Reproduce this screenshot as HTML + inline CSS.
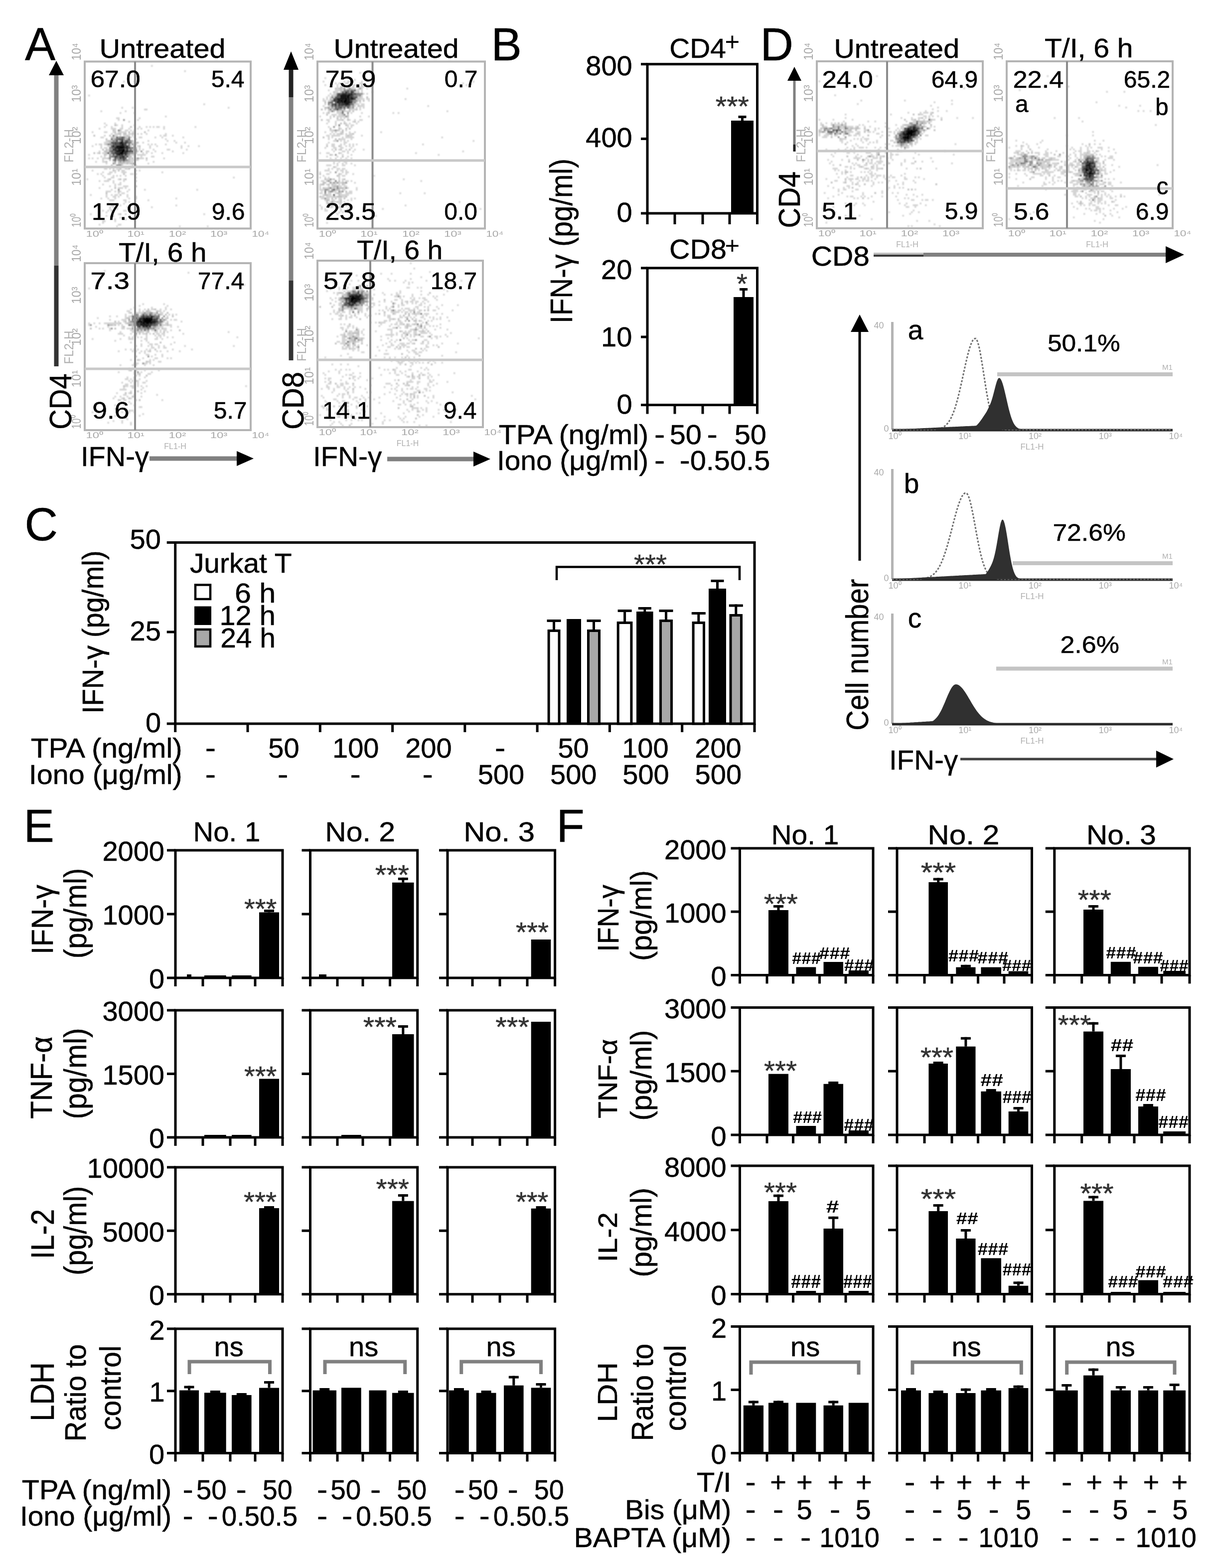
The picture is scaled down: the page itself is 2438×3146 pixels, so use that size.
<!DOCTYPE html>
<html><head><meta charset="utf-8"><title>Figure</title>
<style>html,body{margin:0;padding:0;background:#fff;}svg{display:block;}</style>
</head><body>
<svg width="2438" height="3146" viewBox="0 0 2438 3146" font-family='"Liberation Sans", Arial, sans-serif'>
<defs><filter id="bl" x="-5%" y="-5%" width="110%" height="110%"><feGaussianBlur stdDeviation="1.1"/></filter></defs>
<rect width="2438" height="3146" fill="#fff"/>
<text x="50" y="121" font-size="92" stroke="#000" stroke-width="0.5">A</text>
<text x="985.6" y="121" font-size="92" stroke="#000" stroke-width="0.5">B</text>
<text x="49.4" y="1084.1" font-size="92" stroke="#000" stroke-width="0.5">C</text>
<text x="1525.6" y="121" font-size="92" stroke="#000" stroke-width="0.5">D</text>
<text x="47.6" y="1689" font-size="92" stroke="#000" stroke-width="0.5">E</text>
<text x="1116.6" y="1689" font-size="92" stroke="#000" stroke-width="0.5">F</text>
<g filter="url(#bl)">
<path fill="#d4d4d4" d="M303 130.5h3.5v3.5h-3.5zM369.5 141h3.5v3.5h-3.5zM247 162h3.5v3.5h-3.5zM268 162h3.5v3.5h-3.5zM177 190h3.5v3.5h-3.5zM408 207.5h3.5v3.5h-3.5zM243.5 214.5h3.5v3.5h-3.5zM264.5 214.5h3.5v3.5h-3.5zM457 214.5h3.5v3.5h-3.5zM289 218h7v3.5h-7zM201.5 221.5h3.5v3.5h-3.5zM250.5 221.5h3.5v3.5h-3.5zM240 225h3.5v3.5h-3.5zM268 225h3.5v3.5h-3.5zM331 232h3.5v3.5h-3.5zM233 235.5h7v3.5h-7zM278.5 235.5h3.5v3.5h-3.5zM236.5 239h3.5v3.5h-3.5zM275 239h3.5v3.5h-3.5zM257.5 242.5h3.5v3.5h-3.5zM208.5 246h3.5v3.5h-3.5zM229.5 246h3.5v3.5h-3.5zM212 249.5h3.5v3.5h-3.5zM233 249.5h3.5v3.5h-3.5zM243.5 249.5h3.5v3.5h-3.5zM268 249.5h3.5v3.5h-3.5zM208.5 253h3.5v3.5h-3.5zM222.5 253h3.5v3.5h-3.5zM243.5 253h3.5v3.5h-3.5zM278.5 253h3.5v3.5h-3.5zM292.5 253h3.5v3.5h-3.5zM299.5 253h3.5v3.5h-3.5zM306.5 253h3.5v3.5h-3.5zM313.5 253h7v3.5h-7zM327.5 253h3.5v3.5h-3.5zM390.5 253h3.5v3.5h-3.5zM198 256.5h3.5v3.5h-3.5zM222.5 256.5h10.5v3.5h-10.5zM240 256.5h7v3.5h-7zM257.5 256.5h3.5v3.5h-3.5zM275 256.5h3.5v3.5h-3.5zM282 256.5h3.5v3.5h-3.5zM327.5 256.5h3.5v3.5h-3.5zM229.5 260h3.5v3.5h-3.5zM250.5 260h7v3.5h-7zM261 260h3.5v3.5h-3.5zM268 260h3.5v3.5h-3.5zM296 260h3.5v3.5h-3.5zM184 263.5h3.5v3.5h-3.5zM208.5 263.5h7v3.5h-7zM226 263.5h3.5v3.5h-3.5zM236.5 263.5h17.5v3.5h-17.5zM264.5 263.5h7v3.5h-7zM222.5 267h3.5v3.5h-3.5zM229.5 267h7v3.5h-7zM257.5 267h7v3.5h-7zM268 267h3.5v3.5h-3.5zM275 267h3.5v3.5h-3.5zM282 267h3.5v3.5h-3.5zM292.5 267h3.5v3.5h-3.5zM331 267h3.5v3.5h-3.5zM208.5 270.5h3.5v3.5h-3.5zM229.5 270.5h7v3.5h-7zM240 270.5h3.5v3.5h-3.5zM247 270.5h7v3.5h-7zM257.5 270.5h3.5v3.5h-3.5zM264.5 270.5h3.5v3.5h-3.5zM320.5 270.5h3.5v3.5h-3.5zM327.5 270.5h7v3.5h-7zM345 270.5h3.5v3.5h-3.5zM201.5 274h7v3.5h-7zM229.5 274h3.5v3.5h-3.5zM254 274h3.5v3.5h-3.5zM261 274h3.5v3.5h-3.5zM268 274h3.5v3.5h-3.5zM278.5 274h7v3.5h-7zM310 274h3.5v3.5h-3.5zM324 274h3.5v3.5h-3.5zM366 274h3.5v3.5h-3.5zM271.5 277.5h3.5v3.5h-3.5zM331 277.5h3.5v3.5h-3.5zM212 281h3.5v3.5h-3.5zM296 281h3.5v3.5h-3.5zM334.5 281h3.5v3.5h-3.5zM348.5 281h3.5v3.5h-3.5zM208.5 284.5h10.5v3.5h-10.5zM264.5 284.5h7v3.5h-7zM285.5 284.5h3.5v3.5h-3.5zM352 284.5h3.5v3.5h-3.5zM369.5 284.5h3.5v3.5h-3.5zM191 288h3.5v3.5h-3.5zM198 288h7v3.5h-7zM208.5 288h3.5v3.5h-3.5zM261 288h3.5v3.5h-3.5zM268 288h7v3.5h-7zM296 288h3.5v3.5h-3.5zM303 288h3.5v3.5h-3.5zM310 288h3.5v3.5h-3.5zM331 288h3.5v3.5h-3.5zM184 291.5h3.5v3.5h-3.5zM201.5 291.5h3.5v3.5h-3.5zM215.5 291.5h7v3.5h-7zM261 291.5h3.5v3.5h-3.5zM275 291.5h3.5v3.5h-3.5zM299.5 291.5h3.5v3.5h-3.5zM313.5 291.5h3.5v3.5h-3.5zM362.5 291.5h3.5v3.5h-3.5zM376.5 291.5h3.5v3.5h-3.5zM397.5 291.5h3.5v3.5h-3.5zM201.5 295h3.5v3.5h-3.5zM208.5 295h7v3.5h-7zM278.5 295h3.5v3.5h-3.5zM299.5 295h3.5v3.5h-3.5zM362.5 295h3.5v3.5h-3.5zM215.5 298.5h3.5v3.5h-3.5zM278.5 298.5h3.5v3.5h-3.5zM285.5 298.5h3.5v3.5h-3.5zM306.5 298.5h3.5v3.5h-3.5zM334.5 298.5h7v3.5h-7zM373 298.5h3.5v3.5h-3.5zM198 302h3.5v3.5h-3.5zM215.5 302h3.5v3.5h-3.5zM275 302h3.5v3.5h-3.5zM292.5 302h7v3.5h-7zM310 302h3.5v3.5h-3.5zM345 302h3.5v3.5h-3.5zM194.5 305.5h3.5v3.5h-3.5zM205 305.5h7v3.5h-7zM285.5 305.5h3.5v3.5h-3.5zM292.5 305.5h3.5v3.5h-3.5zM303 305.5h3.5v3.5h-3.5zM324 305.5h3.5v3.5h-3.5zM366 305.5h3.5v3.5h-3.5zM177 309h3.5v3.5h-3.5zM212 309h3.5v3.5h-3.5zM261 309h7v3.5h-7zM275 309h17.5v3.5h-17.5zM201.5 312.5h3.5v3.5h-3.5zM208.5 312.5h3.5v3.5h-3.5zM268 312.5h3.5v3.5h-3.5zM282 312.5h3.5v3.5h-3.5zM303 312.5h7v3.5h-7zM177 316h3.5v3.5h-3.5zM184 316h3.5v3.5h-3.5zM194.5 316h3.5v3.5h-3.5zM205 316h10.5v3.5h-10.5zM226 316h3.5v3.5h-3.5zM261 316h3.5v3.5h-3.5zM271.5 316h3.5v3.5h-3.5zM278.5 316h10.5v3.5h-10.5zM327.5 316h3.5v3.5h-3.5zM205 319.5h3.5v3.5h-3.5zM261 319.5h17.5v3.5h-17.5zM292.5 319.5h3.5v3.5h-3.5zM191 323h3.5v3.5h-3.5zM205 323h7v3.5h-7zM226 323h3.5v3.5h-3.5zM261 323h7v3.5h-7zM306.5 323h3.5v3.5h-3.5zM212 326.5h3.5v3.5h-3.5zM247 326.5h7v3.5h-7zM257.5 326.5h3.5v3.5h-3.5zM296 326.5h3.5v3.5h-3.5zM243.5 330h3.5v3.5h-3.5zM264.5 330h3.5v3.5h-3.5zM271.5 330h3.5v3.5h-3.5zM208.5 333.5h7v3.5h-7zM219 333.5h3.5v3.5h-3.5zM229.5 333.5h3.5v3.5h-3.5zM240 333.5h7v3.5h-7zM264.5 333.5h3.5v3.5h-3.5zM278.5 333.5h3.5v3.5h-3.5zM208.5 337h7v3.5h-7zM219 337h3.5v3.5h-3.5zM226 337h3.5v3.5h-3.5zM233 337h7v3.5h-7zM250.5 337h7v3.5h-7zM184 340.5h3.5v3.5h-3.5zM229.5 340.5h3.5v3.5h-3.5zM243.5 340.5h7v3.5h-7zM271.5 340.5h3.5v3.5h-3.5zM278.5 340.5h3.5v3.5h-3.5zM205 344h3.5v3.5h-3.5zM219 344h7v3.5h-7zM229.5 344h3.5v3.5h-3.5zM243.5 344h10.5v3.5h-10.5zM324 344h3.5v3.5h-3.5zM194.5 347.5h3.5v3.5h-3.5zM201.5 347.5h3.5v3.5h-3.5zM215.5 347.5h7v3.5h-7zM261 347.5h7v3.5h-7zM271.5 347.5h3.5v3.5h-3.5zM205 351h3.5v3.5h-3.5zM226 351h3.5v3.5h-3.5zM233 351h3.5v3.5h-3.5zM240 351h3.5v3.5h-3.5zM250.5 351h3.5v3.5h-3.5zM208.5 354.5h3.5v3.5h-3.5zM222.5 354.5h7v3.5h-7zM271.5 354.5h3.5v3.5h-3.5zM467.5 354.5h3.5v3.5h-3.5zM173.5 358h3.5v3.5h-3.5zM215.5 358h3.5v3.5h-3.5zM236.5 358h3.5v3.5h-3.5zM247 358h3.5v3.5h-3.5zM198 361.5h3.5v3.5h-3.5zM208.5 361.5h10.5v3.5h-10.5zM226 361.5h3.5v3.5h-3.5zM247 361.5h3.5v3.5h-3.5zM271.5 361.5h3.5v3.5h-3.5zM226 365h3.5v3.5h-3.5zM240 365h3.5v3.5h-3.5zM205 368.5h3.5v3.5h-3.5zM229.5 368.5h3.5v3.5h-3.5zM236.5 368.5h7v3.5h-7zM219 372h3.5v3.5h-3.5zM229.5 372h3.5v3.5h-3.5zM247 372h10.5v3.5h-10.5zM198 375.5h3.5v3.5h-3.5zM236.5 375.5h10.5v3.5h-10.5zM250.5 375.5h3.5v3.5h-3.5zM222.5 379h3.5v3.5h-3.5zM257.5 379h3.5v3.5h-3.5zM289 379h3.5v3.5h-3.5zM394 379h3.5v3.5h-3.5zM212 382.5h10.5v3.5h-10.5zM229.5 382.5h3.5v3.5h-3.5zM240 382.5h3.5v3.5h-3.5zM254 382.5h3.5v3.5h-3.5zM236.5 386h3.5v3.5h-3.5zM243.5 386h7v3.5h-7zM180.5 389.5h3.5v3.5h-3.5zM212 389.5h3.5v3.5h-3.5zM222.5 389.5h3.5v3.5h-3.5zM229.5 389.5h7v3.5h-7zM254 389.5h3.5v3.5h-3.5zM212 393h3.5v3.5h-3.5zM226 393h7v3.5h-7zM236.5 393h3.5v3.5h-3.5zM254 393h3.5v3.5h-3.5zM271.5 393h3.5v3.5h-3.5zM201.5 396.5h3.5v3.5h-3.5zM215.5 396.5h3.5v3.5h-3.5zM229.5 396.5h3.5v3.5h-3.5zM257.5 396.5h3.5v3.5h-3.5zM271.5 396.5h3.5v3.5h-3.5zM352 396.5h3.5v3.5h-3.5zM219 400h10.5v3.5h-10.5zM247 400h7v3.5h-7zM296 400h3.5v3.5h-3.5zM250.5 403.5h3.5v3.5h-3.5zM257.5 403.5h3.5v3.5h-3.5zM215.5 407h3.5v3.5h-3.5zM233 407h3.5v3.5h-3.5zM247 407h3.5v3.5h-3.5zM226 410.5h3.5v3.5h-3.5zM233 410.5h3.5v3.5h-3.5zM240 410.5h3.5v3.5h-3.5zM352 410.5h3.5v3.5h-3.5zM191 414h3.5v3.5h-3.5zM198 414h3.5v3.5h-3.5zM219 414h3.5v3.5h-3.5zM226 414h3.5v3.5h-3.5zM233 414h3.5v3.5h-3.5zM254 414h7v3.5h-7zM303 414h3.5v3.5h-3.5zM219 417.5h3.5v3.5h-3.5zM233 417.5h3.5v3.5h-3.5zM205 421h3.5v3.5h-3.5zM215.5 421h3.5v3.5h-3.5zM247 421h7v3.5h-7zM212 424.5h3.5v3.5h-3.5zM180.5 428h3.5v3.5h-3.5zM236.5 428h3.5v3.5h-3.5zM250.5 428h3.5v3.5h-3.5zM408 428h3.5v3.5h-3.5zM212 431.5h3.5v3.5h-3.5zM222.5 431.5h7v3.5h-7zM257.5 431.5h3.5v3.5h-3.5zM240 435h3.5v3.5h-3.5zM264.5 435h7v3.5h-7zM229.5 438.5h3.5v3.5h-3.5zM250.5 438.5h3.5v3.5h-3.5zM205 442h7v3.5h-7zM229.5 442h3.5v3.5h-3.5zM205 445.5h3.5v3.5h-3.5zM198 449h3.5v3.5h-3.5zM236.5 449h7v3.5h-7zM233 452.5h3.5v3.5h-3.5zM359 452.5h3.5v3.5h-3.5zM415 452.5h3.5v3.5h-3.5z"/>
<path fill="#bfbfbf" d="M229.5 249.5h3.5v3.5h-3.5zM261 253h3.5v3.5h-3.5zM226 260h3.5v3.5h-3.5zM240 260h3.5v3.5h-3.5zM229.5 263.5h3.5v3.5h-3.5zM257.5 263.5h3.5v3.5h-3.5zM289 263.5h3.5v3.5h-3.5zM236.5 267h7v3.5h-7zM247 267h7v3.5h-7zM264.5 267h3.5v3.5h-3.5zM187.5 270.5h3.5v3.5h-3.5zM219 270.5h3.5v3.5h-3.5zM254 270.5h3.5v3.5h-3.5zM222.5 274h7v3.5h-7zM250.5 274h3.5v3.5h-3.5zM212 277.5h3.5v3.5h-3.5zM226 277.5h3.5v3.5h-3.5zM250.5 277.5h3.5v3.5h-3.5zM215.5 281h10.5v3.5h-10.5zM236.5 281h3.5v3.5h-3.5zM264.5 281h3.5v3.5h-3.5zM219 284.5h3.5v3.5h-3.5zM271.5 284.5h7v3.5h-7zM212 288h3.5v3.5h-3.5zM254 288h3.5v3.5h-3.5zM278.5 291.5h3.5v3.5h-3.5zM268 295h7v3.5h-7zM205 298.5h3.5v3.5h-3.5zM212 298.5h3.5v3.5h-3.5zM264.5 298.5h3.5v3.5h-3.5zM208.5 302h7v3.5h-7zM187.5 305.5h3.5v3.5h-3.5zM198 305.5h3.5v3.5h-3.5zM212 305.5h3.5v3.5h-3.5zM219 305.5h3.5v3.5h-3.5zM268 305.5h7v3.5h-7zM208.5 309h3.5v3.5h-3.5zM222.5 309h3.5v3.5h-3.5zM268 309h3.5v3.5h-3.5zM257.5 312.5h7v3.5h-7zM215.5 316h3.5v3.5h-3.5zM257.5 316h3.5v3.5h-3.5zM264.5 316h3.5v3.5h-3.5zM292.5 316h3.5v3.5h-3.5zM219 319.5h3.5v3.5h-3.5zM233 319.5h3.5v3.5h-3.5zM257.5 319.5h3.5v3.5h-3.5zM212 323h3.5v3.5h-3.5zM236.5 323h3.5v3.5h-3.5zM243.5 323h3.5v3.5h-3.5zM250.5 323h10.5v3.5h-10.5zM229.5 326.5h3.5v3.5h-3.5zM236.5 326.5h10.5v3.5h-10.5zM254 326.5h3.5v3.5h-3.5zM261 326.5h7v3.5h-7zM222.5 330h3.5v3.5h-3.5zM222.5 333.5h7v3.5h-7zM247 333.5h7v3.5h-7zM257.5 333.5h3.5v3.5h-3.5zM240 337h3.5v3.5h-3.5zM257.5 337h3.5v3.5h-3.5zM226 340.5h3.5v3.5h-3.5zM236.5 340.5h3.5v3.5h-3.5zM247 347.5h3.5v3.5h-3.5zM219 358h3.5v3.5h-3.5zM240 358h3.5v3.5h-3.5zM250.5 358h3.5v3.5h-3.5zM271.5 372h3.5v3.5h-3.5zM229.5 375.5h3.5v3.5h-3.5zM236.5 382.5h3.5v3.5h-3.5zM212 386h3.5v3.5h-3.5zM240 389.5h3.5v3.5h-3.5zM222.5 410.5h3.5v3.5h-3.5zM222.5 421h3.5v3.5h-3.5zM240 428h3.5v3.5h-3.5z"/>
<path fill="#959595" d="M247 239h3.5v3.5h-3.5zM236.5 274h3.5v3.5h-3.5zM229.5 277.5h3.5v3.5h-3.5zM254 277.5h3.5v3.5h-3.5zM229.5 281h3.5v3.5h-3.5zM247 281h3.5v3.5h-3.5zM261 281h3.5v3.5h-3.5zM219 288h7v3.5h-7zM264.5 288h3.5v3.5h-3.5zM219 298.5h7v3.5h-7zM257.5 298.5h3.5v3.5h-3.5zM268 298.5h7v3.5h-7zM271.5 302h3.5v3.5h-3.5zM282 302h3.5v3.5h-3.5zM261 305.5h7v3.5h-7zM219 309h3.5v3.5h-3.5zM229.5 309h3.5v3.5h-3.5zM257.5 309h3.5v3.5h-3.5zM219 312.5h3.5v3.5h-3.5zM275 316h3.5v3.5h-3.5zM254 319.5h3.5v3.5h-3.5zM229.5 323h3.5v3.5h-3.5zM240 323h3.5v3.5h-3.5zM247 323h3.5v3.5h-3.5zM226 326.5h3.5v3.5h-3.5zM233 330h10.5v3.5h-10.5zM261 333.5h3.5v3.5h-3.5zM236.5 379h3.5v3.5h-3.5z"/>
<path fill="#808080" d="M236.5 260h3.5v3.5h-3.5zM226 270.5h3.5v3.5h-3.5zM240 274h3.5v3.5h-3.5zM257.5 274h3.5v3.5h-3.5zM247 277.5h3.5v3.5h-3.5zM226 281h3.5v3.5h-3.5zM240 281h3.5v3.5h-3.5zM257.5 281h3.5v3.5h-3.5zM261 284.5h3.5v3.5h-3.5zM215.5 288h3.5v3.5h-3.5zM268 291.5h3.5v3.5h-3.5zM219 295h3.5v3.5h-3.5zM261 295h7v3.5h-7zM219 302h3.5v3.5h-3.5zM257.5 305.5h3.5v3.5h-3.5zM254 309h3.5v3.5h-3.5zM222.5 312.5h3.5v3.5h-3.5zM250.5 312.5h3.5v3.5h-3.5zM219 316h3.5v3.5h-3.5zM233 316h7v3.5h-7zM226 319.5h3.5v3.5h-3.5zM236.5 319.5h10.5v3.5h-10.5zM250.5 319.5h3.5v3.5h-3.5zM268 326.5h3.5v3.5h-3.5z"/>
<path fill="#6a6a6a" d="M247 274h3.5v3.5h-3.5zM222.5 277.5h3.5v3.5h-3.5zM233 277.5h3.5v3.5h-3.5zM257.5 284.5h3.5v3.5h-3.5zM257.5 288h3.5v3.5h-3.5zM257.5 291.5h3.5v3.5h-3.5zM222.5 295h3.5v3.5h-3.5zM261 298.5h3.5v3.5h-3.5zM226 302h3.5v3.5h-3.5zM222.5 305.5h3.5v3.5h-3.5zM247 309h3.5v3.5h-3.5zM226 312.5h3.5v3.5h-3.5zM236.5 312.5h3.5v3.5h-3.5z"/>
<path fill="#555555" d="M233 274h3.5v3.5h-3.5zM243.5 274h3.5v3.5h-3.5zM236.5 277.5h7v3.5h-7zM257.5 277.5h3.5v3.5h-3.5zM250.5 281h7v3.5h-7zM222.5 284.5h7v3.5h-7zM233 284.5h7v3.5h-7zM247 284.5h3.5v3.5h-3.5zM254 284.5h3.5v3.5h-3.5zM226 288h3.5v3.5h-3.5zM233 288h7v3.5h-7zM222.5 291.5h3.5v3.5h-3.5zM229.5 291.5h3.5v3.5h-3.5zM226 295h3.5v3.5h-3.5zM250.5 298.5h3.5v3.5h-3.5zM222.5 302h3.5v3.5h-3.5zM261 302h7v3.5h-7zM215.5 305.5h3.5v3.5h-3.5zM226 305.5h3.5v3.5h-3.5zM254 305.5h3.5v3.5h-3.5zM226 309h3.5v3.5h-3.5zM254 312.5h3.5v3.5h-3.5zM229.5 316h3.5v3.5h-3.5zM243.5 316h3.5v3.5h-3.5zM250.5 316h3.5v3.5h-3.5zM229.5 319.5h3.5v3.5h-3.5z"/>
<path fill="#404040" d="M243.5 277.5h3.5v3.5h-3.5zM233 281h3.5v3.5h-3.5zM229.5 284.5h3.5v3.5h-3.5zM229.5 288h3.5v3.5h-3.5zM250.5 288h3.5v3.5h-3.5zM250.5 291.5h3.5v3.5h-3.5zM257.5 295h3.5v3.5h-3.5zM233 298.5h3.5v3.5h-3.5zM229.5 302h3.5v3.5h-3.5zM257.5 302h3.5v3.5h-3.5zM229.5 312.5h7v3.5h-7zM240 312.5h3.5v3.5h-3.5zM247 316h3.5v3.5h-3.5zM247 319.5h3.5v3.5h-3.5z"/>
<path fill="#2a2a2a" d="M250.5 284.5h3.5v3.5h-3.5zM240 288h3.5v3.5h-3.5zM247 288h3.5v3.5h-3.5zM254 291.5h3.5v3.5h-3.5zM229.5 295h3.5v3.5h-3.5zM250.5 295h7v3.5h-7zM229.5 298.5h3.5v3.5h-3.5zM254 298.5h3.5v3.5h-3.5zM250.5 302h3.5v3.5h-3.5zM229.5 305.5h10.5v3.5h-10.5zM247 305.5h7v3.5h-7zM233 309h3.5v3.5h-3.5zM240 309h3.5v3.5h-3.5zM250.5 309h3.5v3.5h-3.5zM243.5 312.5h7v3.5h-7zM240 316h3.5v3.5h-3.5z"/>
<path fill="#151515" d="M243.5 281h3.5v3.5h-3.5zM240 284.5h7v3.5h-7zM243.5 288h3.5v3.5h-3.5zM226 291.5h3.5v3.5h-3.5zM233 291.5h17.5v3.5h-17.5zM233 295h7v3.5h-7zM247 295h3.5v3.5h-3.5zM226 298.5h3.5v3.5h-3.5zM236.5 298.5h10.5v3.5h-10.5zM233 302h10.5v3.5h-10.5zM254 302h3.5v3.5h-3.5zM236.5 309h3.5v3.5h-3.5zM243.5 309h3.5v3.5h-3.5z"/>
<path fill="#000000" d="M240 295h7v3.5h-7zM247 298.5h3.5v3.5h-3.5zM243.5 302h7v3.5h-7zM240 305.5h7v3.5h-7z"/>
</g>
<rect x="170" y="123.5" width="333" height="335" fill="none" stroke="#b4b4b4" stroke-width="4"/>
<line x1="271" y1="123.5" x2="271" y2="458.5" stroke="#8c8c8c" stroke-width="4"/>
<line x1="170" y1="335" x2="503" y2="335" stroke="#c8c8c8" stroke-width="5"/>
<text x="172.5" y="474.7" font-size="16" fill="#a8a8a8" textLength="35.5" lengthAdjust="spacingAndGlyphs">10⁰</text>
<text x="255.3" y="474.7" font-size="16" fill="#a8a8a8" textLength="34.5" lengthAdjust="spacingAndGlyphs">10¹</text>
<text x="338.6" y="474.7" font-size="16" fill="#a8a8a8" textLength="34.5" lengthAdjust="spacingAndGlyphs">10²</text>
<text x="421.8" y="474.7" font-size="16" fill="#a8a8a8" textLength="34.5" lengthAdjust="spacingAndGlyphs">10³</text>
<text x="505.2" y="474.7" font-size="16" fill="#a8a8a8" textLength="35" lengthAdjust="spacingAndGlyphs">10⁴</text>
<text transform="translate(161.7 456) rotate(-90) scale(1.1905 1.5845)" font-size="16" fill="#a8a8a8">10⁰</text>
<text transform="translate(161.7 372.7) rotate(-90) scale(1.4925 1.5845)" font-size="16" fill="#a8a8a8">10¹</text>
<text transform="translate(161.7 288.9) rotate(-90) scale(1.4925 1.5845)" font-size="16" fill="#a8a8a8">10²</text>
<text transform="translate(161.7 205.2) rotate(-90) scale(1.4925 1.5845)" font-size="16" fill="#a8a8a8">10³</text>
<text transform="translate(161.7 121.3) rotate(-90) scale(1.4184 1.5845)" font-size="16" fill="#a8a8a8">10⁴</text>
<text transform="translate(147 325.9) rotate(-90) scale(1.5029 1.6071)" font-size="16" fill="#b0b0b0">FL2-H</text>
<text x="181.4" y="174.5" font-size="48" stroke="#000" stroke-width="0.5" textLength="100.4" lengthAdjust="spacingAndGlyphs">67.0</text>
<text x="423.7" y="174.5" font-size="48" stroke="#000" stroke-width="0.5">5.4</text>
<text x="184" y="440.5" font-size="48" stroke="#000" stroke-width="0.5" textLength="98.4" lengthAdjust="spacingAndGlyphs">17.9</text>
<text x="424.7" y="440.5" font-size="48" stroke="#000" stroke-width="0.5">9.6</text>
<g filter="url(#bl)">
<path fill="#d4d4d4" d="M208.5 542h3.5v3.5h-3.5zM376.5 545.5h3.5v3.5h-3.5zM488.5 570h3.5v3.5h-3.5zM177 577h3.5v3.5h-3.5zM285.5 608.5h3.5v3.5h-3.5zM327.5 608.5h3.5v3.5h-3.5zM278.5 612h3.5v3.5h-3.5zM334.5 612h3.5v3.5h-3.5zM268 615.5h3.5v3.5h-3.5zM303 615.5h3.5v3.5h-3.5zM331 615.5h3.5v3.5h-3.5zM261 619h3.5v3.5h-3.5zM278.5 619h3.5v3.5h-3.5zM289 619h3.5v3.5h-3.5zM303 619h7v3.5h-7zM320.5 619h3.5v3.5h-3.5zM331 619h3.5v3.5h-3.5zM341.5 619h3.5v3.5h-3.5zM254 622.5h7v3.5h-7zM278.5 622.5h3.5v3.5h-3.5zM285.5 622.5h3.5v3.5h-3.5zM299.5 622.5h3.5v3.5h-3.5zM317 622.5h7v3.5h-7zM327.5 622.5h3.5v3.5h-3.5zM257.5 626h3.5v3.5h-3.5zM271.5 626h14v3.5h-14zM306.5 626h7v3.5h-7zM320.5 626h7v3.5h-7zM250.5 629.5h3.5v3.5h-3.5zM264.5 629.5h3.5v3.5h-3.5zM313.5 629.5h3.5v3.5h-3.5zM324 629.5h3.5v3.5h-3.5zM338 629.5h3.5v3.5h-3.5zM345 629.5h3.5v3.5h-3.5zM352 629.5h3.5v3.5h-3.5zM219 633h3.5v3.5h-3.5zM233 633h3.5v3.5h-3.5zM250.5 633h3.5v3.5h-3.5zM257.5 633h7v3.5h-7zM334.5 633h3.5v3.5h-3.5zM194.5 636.5h3.5v3.5h-3.5zM250.5 636.5h3.5v3.5h-3.5zM331 636.5h3.5v3.5h-3.5zM219 640h3.5v3.5h-3.5zM243.5 640h10.5v3.5h-10.5zM341.5 640h3.5v3.5h-3.5zM348.5 640h7v3.5h-7zM236.5 643.5h3.5v3.5h-3.5zM247 643.5h3.5v3.5h-3.5zM327.5 643.5h3.5v3.5h-3.5zM334.5 643.5h3.5v3.5h-3.5zM362.5 643.5h3.5v3.5h-3.5zM177 647h3.5v3.5h-3.5zM187.5 647h3.5v3.5h-3.5zM198 647h3.5v3.5h-3.5zM208.5 647h31.5v3.5h-31.5zM250.5 647h3.5v3.5h-3.5zM324 647h3.5v3.5h-3.5zM331 647h3.5v3.5h-3.5zM177 650.5h3.5v3.5h-3.5zM226 650.5h3.5v3.5h-3.5zM236.5 650.5h3.5v3.5h-3.5zM243.5 650.5h3.5v3.5h-3.5zM317 650.5h3.5v3.5h-3.5zM324 650.5h10.5v3.5h-10.5zM338 650.5h7v3.5h-7zM191 654h3.5v3.5h-3.5zM215.5 654h3.5v3.5h-3.5zM243.5 654h3.5v3.5h-3.5zM268 654h3.5v3.5h-3.5zM317 654h10.5v3.5h-10.5zM341.5 654h3.5v3.5h-3.5zM355.5 654h3.5v3.5h-3.5zM198 657.5h3.5v3.5h-3.5zM205 657.5h3.5v3.5h-3.5zM219 657.5h3.5v3.5h-3.5zM243.5 657.5h7v3.5h-7zM254 657.5h10.5v3.5h-10.5zM313.5 657.5h3.5v3.5h-3.5zM327.5 657.5h7v3.5h-7zM219 661h3.5v3.5h-3.5zM261 661h10.5v3.5h-10.5zM278.5 661h3.5v3.5h-3.5zM285.5 661h3.5v3.5h-3.5zM303 661h7v3.5h-7zM313.5 661h3.5v3.5h-3.5zM320.5 661h3.5v3.5h-3.5zM327.5 661h7v3.5h-7zM341.5 661h3.5v3.5h-3.5zM240 664.5h3.5v3.5h-3.5zM264.5 664.5h14v3.5h-14zM282 664.5h7v3.5h-7zM292.5 664.5h3.5v3.5h-3.5zM310 664.5h7v3.5h-7zM320.5 664.5h3.5v3.5h-3.5zM334.5 664.5h3.5v3.5h-3.5zM457 664.5h3.5v3.5h-3.5zM236.5 668h10.5v3.5h-10.5zM261 668h3.5v3.5h-3.5zM285.5 668h7v3.5h-7zM299.5 668h3.5v3.5h-3.5zM313.5 668h7v3.5h-7zM324 668h7v3.5h-7zM366 668h3.5v3.5h-3.5zM247 671.5h3.5v3.5h-3.5zM268 671.5h7v3.5h-7zM292.5 671.5h3.5v3.5h-3.5zM310 671.5h3.5v3.5h-3.5zM317 671.5h7v3.5h-7zM327.5 671.5h3.5v3.5h-3.5zM257.5 675h3.5v3.5h-3.5zM264.5 675h3.5v3.5h-3.5zM275 675h3.5v3.5h-3.5zM282 675h3.5v3.5h-3.5zM292.5 675h3.5v3.5h-3.5zM313.5 675h3.5v3.5h-3.5zM320.5 675h3.5v3.5h-3.5zM334.5 675h3.5v3.5h-3.5zM345 675h3.5v3.5h-3.5zM474.5 675h3.5v3.5h-3.5zM184 678.5h3.5v3.5h-3.5zM240 678.5h3.5v3.5h-3.5zM257.5 678.5h10.5v3.5h-10.5zM289 678.5h7v3.5h-7zM310 678.5h7v3.5h-7zM324 678.5h3.5v3.5h-3.5zM229.5 682h3.5v3.5h-3.5zM282 682h3.5v3.5h-3.5zM292.5 682h3.5v3.5h-3.5zM261 685.5h3.5v3.5h-3.5zM296 685.5h3.5v3.5h-3.5zM348.5 685.5h3.5v3.5h-3.5zM282 689h3.5v3.5h-3.5zM299.5 689h7v3.5h-7zM310 689h7v3.5h-7zM341.5 689h3.5v3.5h-3.5zM271.5 692.5h3.5v3.5h-3.5zM282 692.5h3.5v3.5h-3.5zM296 692.5h3.5v3.5h-3.5zM303 692.5h3.5v3.5h-3.5zM317 692.5h3.5v3.5h-3.5zM327.5 692.5h3.5v3.5h-3.5zM369.5 692.5h3.5v3.5h-3.5zM467.5 692.5h3.5v3.5h-3.5zM303 696h7v3.5h-7zM317 696h3.5v3.5h-3.5zM327.5 696h7v3.5h-7zM250.5 699.5h3.5v3.5h-3.5zM261 699.5h3.5v3.5h-3.5zM268 699.5h3.5v3.5h-3.5zM275 699.5h3.5v3.5h-3.5zM292.5 699.5h3.5v3.5h-3.5zM299.5 699.5h3.5v3.5h-3.5zM345 699.5h3.5v3.5h-3.5zM383.5 699.5h3.5v3.5h-3.5zM236.5 703h3.5v3.5h-3.5zM264.5 703h3.5v3.5h-3.5zM271.5 703h3.5v3.5h-3.5zM282 703h3.5v3.5h-3.5zM289 703h3.5v3.5h-3.5zM296 703h3.5v3.5h-3.5zM313.5 703h3.5v3.5h-3.5zM320.5 703h3.5v3.5h-3.5zM334.5 703h3.5v3.5h-3.5zM359 703h3.5v3.5h-3.5zM278.5 706.5h3.5v3.5h-3.5zM289 706.5h3.5v3.5h-3.5zM292.5 710h7v3.5h-7zM310 710h3.5v3.5h-3.5zM324 710h3.5v3.5h-3.5zM303 713.5h3.5v3.5h-3.5zM324 713.5h3.5v3.5h-3.5zM285.5 717h3.5v3.5h-3.5zM310 717h7v3.5h-7zM334.5 717h3.5v3.5h-3.5zM341.5 717h3.5v3.5h-3.5zM261 720.5h3.5v3.5h-3.5zM278.5 720.5h3.5v3.5h-3.5zM299.5 720.5h3.5v3.5h-3.5zM306.5 720.5h3.5v3.5h-3.5zM296 724h7v3.5h-7zM317 724h7v3.5h-7zM268 727.5h10.5v3.5h-10.5zM289 727.5h7v3.5h-7zM299.5 727.5h3.5v3.5h-3.5zM240 731h3.5v3.5h-3.5zM264.5 731h10.5v3.5h-10.5zM289 731h3.5v3.5h-3.5zM306.5 731h3.5v3.5h-3.5zM257.5 738h3.5v3.5h-3.5zM264.5 738h3.5v3.5h-3.5zM271.5 738h3.5v3.5h-3.5zM282 738h3.5v3.5h-3.5zM257.5 741.5h3.5v3.5h-3.5zM271.5 741.5h3.5v3.5h-3.5zM289 741.5h3.5v3.5h-3.5zM317 741.5h3.5v3.5h-3.5zM236.5 745h3.5v3.5h-3.5zM268 745h3.5v3.5h-3.5zM282 745h3.5v3.5h-3.5zM303 745h3.5v3.5h-3.5zM268 748.5h3.5v3.5h-3.5zM275 748.5h3.5v3.5h-3.5zM296 748.5h7v3.5h-7zM271.5 752h3.5v3.5h-3.5zM278.5 752h3.5v3.5h-3.5zM254 755.5h3.5v3.5h-3.5zM289 755.5h3.5v3.5h-3.5zM250.5 759h7v3.5h-7zM261 759h3.5v3.5h-3.5zM268 759h3.5v3.5h-3.5zM278.5 759h3.5v3.5h-3.5zM257.5 762.5h3.5v3.5h-3.5zM264.5 762.5h3.5v3.5h-3.5zM275 762.5h3.5v3.5h-3.5zM292.5 762.5h3.5v3.5h-3.5zM243.5 766h3.5v3.5h-3.5zM261 766h3.5v3.5h-3.5zM268 766h3.5v3.5h-3.5zM275 766h3.5v3.5h-3.5zM285.5 766h7v3.5h-7zM250.5 769.5h7v3.5h-7zM268 769.5h3.5v3.5h-3.5zM275 769.5h3.5v3.5h-3.5zM250.5 773h7v3.5h-7zM261 773h10.5v3.5h-10.5zM275 773h3.5v3.5h-3.5zM282 773h3.5v3.5h-3.5zM292.5 773h3.5v3.5h-3.5zM492 773h3.5v3.5h-3.5zM247 776.5h3.5v3.5h-3.5zM264.5 776.5h7v3.5h-7zM285.5 776.5h3.5v3.5h-3.5zM240 780h14v3.5h-14zM282 780h3.5v3.5h-3.5zM261 783.5h3.5v3.5h-3.5zM289 783.5h3.5v3.5h-3.5zM233 787h3.5v3.5h-3.5zM257.5 787h3.5v3.5h-3.5zM282 787h3.5v3.5h-3.5zM247 790.5h7v3.5h-7zM268 790.5h3.5v3.5h-3.5zM313.5 790.5h3.5v3.5h-3.5zM229.5 794h3.5v3.5h-3.5zM240 794h3.5v3.5h-3.5zM254 794h3.5v3.5h-3.5zM268 794h3.5v3.5h-3.5zM282 794h3.5v3.5h-3.5zM226 797.5h3.5v3.5h-3.5zM243.5 797.5h3.5v3.5h-3.5zM261 797.5h3.5v3.5h-3.5zM240 801h3.5v3.5h-3.5zM247 801h7v3.5h-7zM271.5 801h3.5v3.5h-3.5zM324 801h3.5v3.5h-3.5zM257.5 804.5h3.5v3.5h-3.5zM250.5 808h3.5v3.5h-3.5zM261 808h3.5v3.5h-3.5zM229.5 811.5h3.5v3.5h-3.5zM247 811.5h3.5v3.5h-3.5zM268 811.5h3.5v3.5h-3.5zM278.5 815h7v3.5h-7zM481.5 815h3.5v3.5h-3.5zM229.5 818.5h7v3.5h-7zM243.5 818.5h10.5v3.5h-10.5zM257.5 822h10.5v3.5h-10.5zM184 825.5h3.5v3.5h-3.5zM243.5 825.5h3.5v3.5h-3.5zM257.5 825.5h3.5v3.5h-3.5zM268 825.5h3.5v3.5h-3.5zM233 829h3.5v3.5h-3.5zM254 829h3.5v3.5h-3.5zM285.5 829h3.5v3.5h-3.5zM229.5 832.5h3.5v3.5h-3.5zM278.5 832.5h3.5v3.5h-3.5zM240 836h3.5v3.5h-3.5zM254 839.5h3.5v3.5h-3.5zM226 843h3.5v3.5h-3.5zM243.5 843h3.5v3.5h-3.5zM215.5 846.5h3.5v3.5h-3.5zM243.5 846.5h3.5v3.5h-3.5zM261 846.5h3.5v3.5h-3.5zM261 850h3.5v3.5h-3.5z"/>
<path fill="#bfbfbf" d="M296 619h3.5v3.5h-3.5zM310 619h3.5v3.5h-3.5zM292.5 622.5h7v3.5h-7zM313.5 622.5h3.5v3.5h-3.5zM261 626h3.5v3.5h-3.5zM285.5 626h3.5v3.5h-3.5zM292.5 626h7v3.5h-7zM334.5 626h3.5v3.5h-3.5zM282 629.5h3.5v3.5h-3.5zM296 629.5h3.5v3.5h-3.5zM306.5 629.5h3.5v3.5h-3.5zM320.5 629.5h3.5v3.5h-3.5zM331 629.5h3.5v3.5h-3.5zM278.5 633h3.5v3.5h-3.5zM345 633h3.5v3.5h-3.5zM254 636.5h7v3.5h-7zM334.5 636.5h3.5v3.5h-3.5zM268 640h3.5v3.5h-3.5zM317 640h3.5v3.5h-3.5zM324 640h3.5v3.5h-3.5zM331 640h3.5v3.5h-3.5zM229.5 643.5h3.5v3.5h-3.5zM250.5 643.5h3.5v3.5h-3.5zM257.5 643.5h3.5v3.5h-3.5zM240 647h3.5v3.5h-3.5zM254 647h14v3.5h-14zM334.5 647h3.5v3.5h-3.5zM219 650.5h7v3.5h-7zM229.5 650.5h3.5v3.5h-3.5zM264.5 650.5h3.5v3.5h-3.5zM334.5 650.5h3.5v3.5h-3.5zM247 654h3.5v3.5h-3.5zM264.5 654h3.5v3.5h-3.5zM303 654h3.5v3.5h-3.5zM313.5 654h3.5v3.5h-3.5zM180.5 657.5h3.5v3.5h-3.5zM229.5 657.5h3.5v3.5h-3.5zM271.5 657.5h3.5v3.5h-3.5zM310 657.5h3.5v3.5h-3.5zM317 657.5h3.5v3.5h-3.5zM324 657.5h3.5v3.5h-3.5zM271.5 661h3.5v3.5h-3.5zM292.5 661h3.5v3.5h-3.5zM359 661h3.5v3.5h-3.5zM278.5 664.5h3.5v3.5h-3.5zM296 664.5h3.5v3.5h-3.5zM327.5 664.5h3.5v3.5h-3.5zM278.5 668h3.5v3.5h-3.5zM292.5 668h3.5v3.5h-3.5zM306.5 668h3.5v3.5h-3.5zM320.5 685.5h3.5v3.5h-3.5zM310 699.5h3.5v3.5h-3.5zM299.5 703h3.5v3.5h-3.5zM271.5 713.5h3.5v3.5h-3.5zM275 720.5h3.5v3.5h-3.5zM292.5 724h3.5v3.5h-3.5zM261 741.5h3.5v3.5h-3.5zM278.5 748.5h3.5v3.5h-3.5zM292.5 752h3.5v3.5h-3.5zM268 755.5h3.5v3.5h-3.5zM271.5 762.5h3.5v3.5h-3.5zM247 773h3.5v3.5h-3.5zM275 783.5h3.5v3.5h-3.5zM250.5 787h3.5v3.5h-3.5zM261 787h3.5v3.5h-3.5zM264.5 794h3.5v3.5h-3.5zM247 797.5h3.5v3.5h-3.5zM257.5 797.5h3.5v3.5h-3.5zM236.5 801h3.5v3.5h-3.5zM278.5 801h3.5v3.5h-3.5z"/>
<path fill="#959595" d="M289 626h3.5v3.5h-3.5zM299.5 626h7v3.5h-7zM313.5 626h3.5v3.5h-3.5zM275 629.5h3.5v3.5h-3.5zM289 629.5h3.5v3.5h-3.5zM303 629.5h3.5v3.5h-3.5zM310 629.5h3.5v3.5h-3.5zM317 629.5h3.5v3.5h-3.5zM271.5 633h7v3.5h-7zM327.5 633h3.5v3.5h-3.5zM275 636.5h3.5v3.5h-3.5zM324 636.5h3.5v3.5h-3.5zM257.5 640h3.5v3.5h-3.5zM271.5 640h3.5v3.5h-3.5zM327.5 640h3.5v3.5h-3.5zM261 643.5h3.5v3.5h-3.5zM320.5 647h3.5v3.5h-3.5zM180.5 650.5h3.5v3.5h-3.5zM215.5 650.5h3.5v3.5h-3.5zM261 650.5h3.5v3.5h-3.5zM282 654h3.5v3.5h-3.5zM306.5 654h7v3.5h-7zM222.5 657.5h3.5v3.5h-3.5zM264.5 657.5h3.5v3.5h-3.5zM275 657.5h3.5v3.5h-3.5zM282 657.5h7v3.5h-7zM299.5 657.5h7v3.5h-7zM282 661h3.5v3.5h-3.5zM296 661h3.5v3.5h-3.5zM271.5 668h3.5v3.5h-3.5zM296 713.5h3.5v3.5h-3.5zM285.5 727.5h3.5v3.5h-3.5zM275 745h3.5v3.5h-3.5zM250.5 836h3.5v3.5h-3.5z"/>
<path fill="#808080" d="M271.5 629.5h3.5v3.5h-3.5zM292.5 629.5h3.5v3.5h-3.5zM268 633h3.5v3.5h-3.5zM310 633h7v3.5h-7zM264.5 636.5h7v3.5h-7zM317 636.5h3.5v3.5h-3.5zM264.5 643.5h7v3.5h-7zM317 643.5h3.5v3.5h-3.5zM324 643.5h3.5v3.5h-3.5zM268 647h3.5v3.5h-3.5zM317 647h3.5v3.5h-3.5zM257.5 650.5h3.5v3.5h-3.5zM268 650.5h3.5v3.5h-3.5zM278.5 657.5h3.5v3.5h-3.5zM289 657.5h7v3.5h-7zM306.5 657.5h3.5v3.5h-3.5zM275 661h3.5v3.5h-3.5z"/>
<path fill="#6a6a6a" d="M264.5 633h3.5v3.5h-3.5zM317 633h3.5v3.5h-3.5zM306.5 636.5h7v3.5h-7zM264.5 640h3.5v3.5h-3.5zM271.5 643.5h3.5v3.5h-3.5zM320.5 643.5h3.5v3.5h-3.5zM313.5 647h3.5v3.5h-3.5zM271.5 650.5h3.5v3.5h-3.5zM313.5 650.5h3.5v3.5h-3.5zM320.5 650.5h3.5v3.5h-3.5zM289 661h3.5v3.5h-3.5zM310 661h3.5v3.5h-3.5z"/>
<path fill="#555555" d="M285.5 629.5h3.5v3.5h-3.5zM299.5 629.5h3.5v3.5h-3.5zM282 633h3.5v3.5h-3.5zM289 633h3.5v3.5h-3.5zM299.5 633h3.5v3.5h-3.5zM271.5 636.5h3.5v3.5h-3.5zM275 640h3.5v3.5h-3.5zM320.5 640h3.5v3.5h-3.5zM271.5 647h3.5v3.5h-3.5zM306.5 650.5h7v3.5h-7zM275 654h3.5v3.5h-3.5zM296 654h3.5v3.5h-3.5zM296 657.5h3.5v3.5h-3.5z"/>
<path fill="#404040" d="M292.5 633h7v3.5h-7zM306.5 633h3.5v3.5h-3.5zM278.5 636.5h3.5v3.5h-3.5zM313.5 636.5h3.5v3.5h-3.5zM313.5 640h3.5v3.5h-3.5zM278.5 647h3.5v3.5h-3.5zM310 647h3.5v3.5h-3.5zM278.5 650.5h3.5v3.5h-3.5zM303 650.5h3.5v3.5h-3.5zM289 654h3.5v3.5h-3.5z"/>
<path fill="#2a2a2a" d="M285.5 633h3.5v3.5h-3.5zM282 636.5h3.5v3.5h-3.5zM282 640h3.5v3.5h-3.5zM306.5 640h7v3.5h-7zM313.5 643.5h3.5v3.5h-3.5zM275 647h3.5v3.5h-3.5zM306.5 647h3.5v3.5h-3.5zM275 650.5h3.5v3.5h-3.5zM299.5 650.5h3.5v3.5h-3.5zM278.5 654h3.5v3.5h-3.5zM285.5 654h3.5v3.5h-3.5z"/>
<path fill="#151515" d="M303 633h3.5v3.5h-3.5zM285.5 636.5h7v3.5h-7zM296 636.5h10.5v3.5h-10.5zM278.5 640h3.5v3.5h-3.5zM285.5 640h3.5v3.5h-3.5zM275 643.5h7v3.5h-7zM285.5 643.5h3.5v3.5h-3.5zM303 643.5h10.5v3.5h-10.5zM282 647h3.5v3.5h-3.5zM289 647h3.5v3.5h-3.5zM299.5 647h7v3.5h-7zM282 650.5h17.5v3.5h-17.5zM292.5 654h3.5v3.5h-3.5zM299.5 654h3.5v3.5h-3.5z"/>
<path fill="#000000" d="M292.5 636.5h3.5v3.5h-3.5zM289 640h17.5v3.5h-17.5zM282 643.5h3.5v3.5h-3.5zM289 643.5h14v3.5h-14zM285.5 647h3.5v3.5h-3.5zM292.5 647h7v3.5h-7z"/>
</g>
<rect x="170" y="528" width="333" height="335" fill="none" stroke="#b4b4b4" stroke-width="4"/>
<line x1="271" y1="528" x2="271" y2="863" stroke="#8c8c8c" stroke-width="4"/>
<line x1="170" y1="740" x2="503" y2="740" stroke="#c8c8c8" stroke-width="5"/>
<text x="172.5" y="879.2" font-size="16" fill="#a8a8a8" textLength="35.5" lengthAdjust="spacingAndGlyphs">10⁰</text>
<text x="255.3" y="879.2" font-size="16" fill="#a8a8a8" textLength="34.5" lengthAdjust="spacingAndGlyphs">10¹</text>
<text x="338.6" y="879.2" font-size="16" fill="#a8a8a8" textLength="34.5" lengthAdjust="spacingAndGlyphs">10²</text>
<text x="421.8" y="879.2" font-size="16" fill="#a8a8a8" textLength="34.5" lengthAdjust="spacingAndGlyphs">10³</text>
<text x="505.2" y="879.2" font-size="16" fill="#a8a8a8" textLength="35" lengthAdjust="spacingAndGlyphs">10⁴</text>
<text x="329.3" y="901" font-size="16" fill="#b0b0b0">FL1-H</text>
<text transform="translate(161.7 860.5) rotate(-90) scale(1.1905 1.5845)" font-size="16" fill="#a8a8a8">10⁰</text>
<text transform="translate(161.7 777.2) rotate(-90) scale(1.4925 1.5845)" font-size="16" fill="#a8a8a8">10¹</text>
<text transform="translate(161.7 693.4) rotate(-90) scale(1.4925 1.5845)" font-size="16" fill="#a8a8a8">10²</text>
<text transform="translate(161.7 609.7) rotate(-90) scale(1.4925 1.5845)" font-size="16" fill="#a8a8a8">10³</text>
<text transform="translate(161.7 525.8) rotate(-90) scale(1.4184 1.5845)" font-size="16" fill="#a8a8a8">10⁴</text>
<text transform="translate(147 730.4) rotate(-90) scale(1.5029 1.6071)" font-size="16" fill="#b0b0b0">FL2-H</text>
<text x="181.2" y="579.5" font-size="48" stroke="#000" stroke-width="0.5" textLength="78.7" lengthAdjust="spacingAndGlyphs">7.3</text>
<text x="396.8" y="580" font-size="48" stroke="#000" stroke-width="0.5">77.4</text>
<text x="185.3" y="839.5" font-size="48" stroke="#000" stroke-width="0.5" textLength="74.3" lengthAdjust="spacingAndGlyphs">9.6</text>
<text x="428.7" y="839.5" font-size="48" stroke="#000" stroke-width="0.5">5.7</text>
<g filter="url(#bl)">
<path fill="#d4d4d4" d="M721 144.5h3.5v3.5h-3.5zM672 151.5h3.5v3.5h-3.5zM651 155h3.5v3.5h-3.5zM710.5 158.5h3.5v3.5h-3.5zM647.5 162h3.5v3.5h-3.5zM689.5 162h3.5v3.5h-3.5zM696.5 162h7v3.5h-7zM707 162h3.5v3.5h-3.5zM724.5 162h3.5v3.5h-3.5zM948.5 162h3.5v3.5h-3.5zM672 165.5h3.5v3.5h-3.5zM679 165.5h7v3.5h-7zM693 165.5h7v3.5h-7zM721 165.5h7v3.5h-7zM927.5 165.5h3.5v3.5h-3.5zM651 169h3.5v3.5h-3.5zM675.5 169h3.5v3.5h-3.5zM707 169h7v3.5h-7zM934.5 169h3.5v3.5h-3.5zM675.5 172.5h3.5v3.5h-3.5zM686 172.5h3.5v3.5h-3.5zM700 172.5h3.5v3.5h-3.5zM714 172.5h3.5v3.5h-3.5zM721 172.5h10.5v3.5h-10.5zM675.5 176h3.5v3.5h-3.5zM686 176h3.5v3.5h-3.5zM696.5 176h3.5v3.5h-3.5zM707 176h7v3.5h-7zM717.5 176h3.5v3.5h-3.5zM724.5 176h3.5v3.5h-3.5zM735 176h3.5v3.5h-3.5zM815.5 176h3.5v3.5h-3.5zM658 179.5h3.5v3.5h-3.5zM672 179.5h10.5v3.5h-10.5zM686 179.5h3.5v3.5h-3.5zM714 179.5h7v3.5h-7zM724.5 179.5h3.5v3.5h-3.5zM672 183h7v3.5h-7zM714 183h3.5v3.5h-3.5zM724.5 183h3.5v3.5h-3.5zM745.5 183h3.5v3.5h-3.5zM661.5 186.5h3.5v3.5h-3.5zM668.5 186.5h7v3.5h-7zM728 186.5h3.5v3.5h-3.5zM735 186.5h3.5v3.5h-3.5zM658 190h3.5v3.5h-3.5zM668.5 190h3.5v3.5h-3.5zM724.5 190h3.5v3.5h-3.5zM654.5 193.5h3.5v3.5h-3.5zM661.5 193.5h3.5v3.5h-3.5zM717.5 193.5h3.5v3.5h-3.5zM724.5 193.5h3.5v3.5h-3.5zM647.5 197h3.5v3.5h-3.5zM654.5 197h3.5v3.5h-3.5zM665 197h3.5v3.5h-3.5zM721 197h10.5v3.5h-10.5zM735 197h7v3.5h-7zM812 197h3.5v3.5h-3.5zM647.5 200.5h7v3.5h-7zM658 200.5h3.5v3.5h-3.5zM717.5 200.5h3.5v3.5h-3.5zM738.5 200.5h3.5v3.5h-3.5zM714 204h3.5v3.5h-3.5zM721 204h3.5v3.5h-3.5zM651 207.5h3.5v3.5h-3.5zM710.5 207.5h10.5v3.5h-10.5zM724.5 207.5h7v3.5h-7zM647.5 211h3.5v3.5h-3.5zM658 211h3.5v3.5h-3.5zM710.5 211h3.5v3.5h-3.5zM721 211h10.5v3.5h-10.5zM857.5 211h3.5v3.5h-3.5zM661.5 214.5h3.5v3.5h-3.5zM714 214.5h3.5v3.5h-3.5zM721 214.5h3.5v3.5h-3.5zM728 214.5h3.5v3.5h-3.5zM651 218h3.5v3.5h-3.5zM665 218h3.5v3.5h-3.5zM686 218h3.5v3.5h-3.5zM703.5 218h10.5v3.5h-10.5zM721 218h3.5v3.5h-3.5zM658 221.5h7v3.5h-7zM679 221.5h7v3.5h-7zM689.5 221.5h10.5v3.5h-10.5zM896 221.5h3.5v3.5h-3.5zM647.5 225h3.5v3.5h-3.5zM654.5 225h3.5v3.5h-3.5zM675.5 225h7v3.5h-7zM703.5 225h3.5v3.5h-3.5zM724.5 225h3.5v3.5h-3.5zM787.5 225h3.5v3.5h-3.5zM798 225h3.5v3.5h-3.5zM665 228.5h10.5v3.5h-10.5zM679 228.5h7v3.5h-7zM640.5 232h3.5v3.5h-3.5zM661.5 232h3.5v3.5h-3.5zM675.5 232h17.5v3.5h-17.5zM721 232h3.5v3.5h-3.5zM738.5 232h3.5v3.5h-3.5zM661.5 235.5h3.5v3.5h-3.5zM682.5 235.5h3.5v3.5h-3.5zM689.5 235.5h3.5v3.5h-3.5zM696.5 235.5h3.5v3.5h-3.5zM654.5 239h7v3.5h-7zM675.5 239h10.5v3.5h-10.5zM700 239h3.5v3.5h-3.5zM710.5 239h3.5v3.5h-3.5zM721 239h7v3.5h-7zM658 242.5h3.5v3.5h-3.5zM672 242.5h3.5v3.5h-3.5zM689.5 242.5h3.5v3.5h-3.5zM707 242.5h3.5v3.5h-3.5zM717.5 242.5h3.5v3.5h-3.5zM654.5 246h3.5v3.5h-3.5zM672 246h3.5v3.5h-3.5zM693 246h3.5v3.5h-3.5zM700 246h3.5v3.5h-3.5zM714 246h3.5v3.5h-3.5zM672 249.5h3.5v3.5h-3.5zM696.5 249.5h3.5v3.5h-3.5zM703.5 249.5h7v3.5h-7zM658 253h3.5v3.5h-3.5zM679 253h3.5v3.5h-3.5zM696.5 253h3.5v3.5h-3.5zM703.5 253h3.5v3.5h-3.5zM682.5 256.5h3.5v3.5h-3.5zM661.5 260h7v3.5h-7zM679 260h3.5v3.5h-3.5zM693 260h3.5v3.5h-3.5zM651 263.5h3.5v3.5h-3.5zM665 263.5h3.5v3.5h-3.5zM672 263.5h3.5v3.5h-3.5zM682.5 263.5h3.5v3.5h-3.5zM700 263.5h3.5v3.5h-3.5zM710.5 263.5h3.5v3.5h-3.5zM763 263.5h3.5v3.5h-3.5zM661.5 267h3.5v3.5h-3.5zM668.5 267h3.5v3.5h-3.5zM675.5 267h7v3.5h-7zM686 267h3.5v3.5h-3.5zM693 267h3.5v3.5h-3.5zM700 267h7v3.5h-7zM654.5 270.5h7v3.5h-7zM665 270.5h17.5v3.5h-17.5zM693 270.5h3.5v3.5h-3.5zM700 270.5h7v3.5h-7zM724.5 270.5h3.5v3.5h-3.5zM658 274h3.5v3.5h-3.5zM665 274h3.5v3.5h-3.5zM686 274h3.5v3.5h-3.5zM693 274h17.5v3.5h-17.5zM885.5 274h3.5v3.5h-3.5zM658 277.5h3.5v3.5h-3.5zM682.5 277.5h10.5v3.5h-10.5zM703.5 277.5h3.5v3.5h-3.5zM668.5 281h7v3.5h-7zM682.5 281h3.5v3.5h-3.5zM689.5 281h3.5v3.5h-3.5zM696.5 281h3.5v3.5h-3.5zM948.5 281h3.5v3.5h-3.5zM658 284.5h3.5v3.5h-3.5zM689.5 284.5h7v3.5h-7zM654.5 288h3.5v3.5h-3.5zM665 288h7v3.5h-7zM682.5 288h3.5v3.5h-3.5zM689.5 288h3.5v3.5h-3.5zM700 288h3.5v3.5h-3.5zM707 288h3.5v3.5h-3.5zM714 288h3.5v3.5h-3.5zM847 288h3.5v3.5h-3.5zM665 291.5h7v3.5h-7zM682.5 291.5h3.5v3.5h-3.5zM693 291.5h3.5v3.5h-3.5zM700 291.5h3.5v3.5h-3.5zM707 291.5h3.5v3.5h-3.5zM651 295h3.5v3.5h-3.5zM668.5 295h7v3.5h-7zM682.5 295h7v3.5h-7zM703.5 295h3.5v3.5h-3.5zM665 298.5h3.5v3.5h-3.5zM679 298.5h3.5v3.5h-3.5zM693 298.5h3.5v3.5h-3.5zM710.5 298.5h3.5v3.5h-3.5zM728 298.5h3.5v3.5h-3.5zM668.5 302h3.5v3.5h-3.5zM686 302h7v3.5h-7zM696.5 302h3.5v3.5h-3.5zM707 302h3.5v3.5h-3.5zM927.5 302h3.5v3.5h-3.5zM640.5 305.5h3.5v3.5h-3.5zM654.5 305.5h7v3.5h-7zM682.5 305.5h3.5v3.5h-3.5zM696.5 305.5h3.5v3.5h-3.5zM833 305.5h3.5v3.5h-3.5zM665 309h3.5v3.5h-3.5zM686 309h3.5v3.5h-3.5zM703.5 309h3.5v3.5h-3.5zM878.5 309h3.5v3.5h-3.5zM654.5 312.5h3.5v3.5h-3.5zM675.5 312.5h3.5v3.5h-3.5zM696.5 312.5h3.5v3.5h-3.5zM661.5 316h3.5v3.5h-3.5zM672 316h3.5v3.5h-3.5zM682.5 316h3.5v3.5h-3.5zM693 316h3.5v3.5h-3.5zM703.5 316h3.5v3.5h-3.5zM665 319.5h3.5v3.5h-3.5zM672 319.5h3.5v3.5h-3.5zM689.5 319.5h3.5v3.5h-3.5zM696.5 319.5h3.5v3.5h-3.5zM668.5 323h3.5v3.5h-3.5zM679 323h3.5v3.5h-3.5zM689.5 323h7v3.5h-7zM668.5 326.5h3.5v3.5h-3.5zM675.5 326.5h3.5v3.5h-3.5zM686 326.5h3.5v3.5h-3.5zM693 326.5h3.5v3.5h-3.5zM703.5 326.5h3.5v3.5h-3.5zM654.5 330h10.5v3.5h-10.5zM675.5 330h3.5v3.5h-3.5zM686 330h7v3.5h-7zM710.5 330h3.5v3.5h-3.5zM672 333.5h3.5v3.5h-3.5zM658 337h3.5v3.5h-3.5zM665 337h3.5v3.5h-3.5zM675.5 337h7v3.5h-7zM686 337h7v3.5h-7zM651 340.5h10.5v3.5h-10.5zM675.5 340.5h3.5v3.5h-3.5zM682.5 340.5h7v3.5h-7zM693 340.5h3.5v3.5h-3.5zM640.5 344h3.5v3.5h-3.5zM661.5 344h3.5v3.5h-3.5zM686 344h3.5v3.5h-3.5zM693 344h7v3.5h-7zM654.5 347.5h7v3.5h-7zM682.5 347.5h3.5v3.5h-3.5zM693 347.5h3.5v3.5h-3.5zM707 347.5h3.5v3.5h-3.5zM647.5 351h3.5v3.5h-3.5zM679 351h3.5v3.5h-3.5zM686 351h7v3.5h-7zM749 351h3.5v3.5h-3.5zM640.5 354.5h3.5v3.5h-3.5zM651 354.5h3.5v3.5h-3.5zM658 354.5h3.5v3.5h-3.5zM679 354.5h3.5v3.5h-3.5zM654.5 358h7v3.5h-7zM665 358h3.5v3.5h-3.5zM679 358h3.5v3.5h-3.5zM686 358h3.5v3.5h-3.5zM808.5 358h3.5v3.5h-3.5zM644 361.5h7v3.5h-7zM661.5 361.5h3.5v3.5h-3.5zM686 361.5h3.5v3.5h-3.5zM693 361.5h7v3.5h-7zM703.5 361.5h3.5v3.5h-3.5zM843.5 361.5h3.5v3.5h-3.5zM665 365h3.5v3.5h-3.5zM672 365h3.5v3.5h-3.5zM679 365h7v3.5h-7zM710.5 365h3.5v3.5h-3.5zM640.5 368.5h3.5v3.5h-3.5zM654.5 368.5h3.5v3.5h-3.5zM668.5 368.5h7v3.5h-7zM679 368.5h3.5v3.5h-3.5zM689.5 368.5h3.5v3.5h-3.5zM640.5 372h3.5v3.5h-3.5zM658 372h3.5v3.5h-3.5zM665 372h3.5v3.5h-3.5zM679 372h7v3.5h-7zM689.5 372h7v3.5h-7zM640.5 375.5h3.5v3.5h-3.5zM651 375.5h7v3.5h-7zM665 375.5h3.5v3.5h-3.5zM672 375.5h3.5v3.5h-3.5zM689.5 375.5h3.5v3.5h-3.5zM696.5 375.5h3.5v3.5h-3.5zM714 375.5h3.5v3.5h-3.5zM640.5 379h10.5v3.5h-10.5zM686 379h7v3.5h-7zM714 379h3.5v3.5h-3.5zM644 382.5h3.5v3.5h-3.5zM668.5 382.5h7v3.5h-7zM700 382.5h7v3.5h-7zM640.5 386h7v3.5h-7zM658 386h7v3.5h-7zM672 386h3.5v3.5h-3.5zM682.5 386h3.5v3.5h-3.5zM693 386h14v3.5h-14zM801.5 386h3.5v3.5h-3.5zM850.5 386h3.5v3.5h-3.5zM647.5 389.5h3.5v3.5h-3.5zM658 389.5h7v3.5h-7zM682.5 389.5h17.5v3.5h-17.5zM644 393h7v3.5h-7zM654.5 393h14v3.5h-14zM672 393h3.5v3.5h-3.5zM686 393h7v3.5h-7zM644 396.5h7v3.5h-7zM654.5 396.5h7v3.5h-7zM679 396.5h7v3.5h-7zM703.5 396.5h3.5v3.5h-3.5zM710.5 396.5h3.5v3.5h-3.5zM651 400h3.5v3.5h-3.5zM665 400h7v3.5h-7zM679 400h3.5v3.5h-3.5zM696.5 400h3.5v3.5h-3.5zM703.5 400h3.5v3.5h-3.5zM661.5 403.5h3.5v3.5h-3.5zM668.5 403.5h7v3.5h-7zM679 403.5h3.5v3.5h-3.5zM689.5 403.5h3.5v3.5h-3.5zM920.5 403.5h3.5v3.5h-3.5zM654.5 407h3.5v3.5h-3.5zM679 407h7v3.5h-7zM696.5 407h3.5v3.5h-3.5zM640.5 410.5h3.5v3.5h-3.5zM658 410.5h17.5v3.5h-17.5zM682.5 410.5h3.5v3.5h-3.5zM700 410.5h3.5v3.5h-3.5zM812 410.5h3.5v3.5h-3.5zM644 414h3.5v3.5h-3.5zM661.5 414h7v3.5h-7zM700 414h3.5v3.5h-3.5zM644 417.5h3.5v3.5h-3.5zM651 417.5h3.5v3.5h-3.5zM675.5 417.5h3.5v3.5h-3.5zM682.5 417.5h3.5v3.5h-3.5zM696.5 417.5h3.5v3.5h-3.5zM703.5 417.5h3.5v3.5h-3.5zM766.5 417.5h3.5v3.5h-3.5zM962.5 417.5h3.5v3.5h-3.5zM651 421h7v3.5h-7zM682.5 421h3.5v3.5h-3.5zM689.5 421h7v3.5h-7zM672 424.5h3.5v3.5h-3.5zM679 424.5h3.5v3.5h-3.5zM686 424.5h3.5v3.5h-3.5zM675.5 428h3.5v3.5h-3.5zM752.5 431.5h3.5v3.5h-3.5zM672 438.5h3.5v3.5h-3.5zM654.5 445.5h3.5v3.5h-3.5z"/>
<path fill="#bfbfbf" d="M686 169h7v3.5h-7zM724.5 169h3.5v3.5h-3.5zM682.5 172.5h3.5v3.5h-3.5zM693 172.5h7v3.5h-7zM707 172.5h3.5v3.5h-3.5zM672 176h3.5v3.5h-3.5zM679 176h7v3.5h-7zM703.5 176h3.5v3.5h-3.5zM682.5 179.5h3.5v3.5h-3.5zM668.5 183h3.5v3.5h-3.5zM682.5 183h3.5v3.5h-3.5zM710.5 183h3.5v3.5h-3.5zM717.5 183h3.5v3.5h-3.5zM665 190h3.5v3.5h-3.5zM672 190h3.5v3.5h-3.5zM668.5 193.5h3.5v3.5h-3.5zM721 193.5h3.5v3.5h-3.5zM735 193.5h3.5v3.5h-3.5zM661.5 197h3.5v3.5h-3.5zM714 197h7v3.5h-7zM661.5 200.5h3.5v3.5h-3.5zM721 200.5h3.5v3.5h-3.5zM728 200.5h3.5v3.5h-3.5zM651 204h3.5v3.5h-3.5zM661.5 207.5h3.5v3.5h-3.5zM661.5 211h3.5v3.5h-3.5zM703.5 211h3.5v3.5h-3.5zM717.5 211h3.5v3.5h-3.5zM651 214.5h7v3.5h-7zM668.5 214.5h3.5v3.5h-3.5zM693 214.5h3.5v3.5h-3.5zM703.5 214.5h3.5v3.5h-3.5zM644 218h3.5v3.5h-3.5zM658 218h3.5v3.5h-3.5zM700 218h3.5v3.5h-3.5zM714 218h3.5v3.5h-3.5zM668.5 221.5h3.5v3.5h-3.5zM675.5 221.5h3.5v3.5h-3.5zM700 221.5h3.5v3.5h-3.5zM707 221.5h3.5v3.5h-3.5zM658 225h3.5v3.5h-3.5zM682.5 225h3.5v3.5h-3.5zM654.5 228.5h3.5v3.5h-3.5zM686 228.5h3.5v3.5h-3.5zM696.5 228.5h3.5v3.5h-3.5zM668.5 232h3.5v3.5h-3.5zM696.5 232h3.5v3.5h-3.5zM675.5 235.5h3.5v3.5h-3.5zM644 239h3.5v3.5h-3.5zM686 239h3.5v3.5h-3.5zM696.5 239h3.5v3.5h-3.5zM710.5 242.5h3.5v3.5h-3.5zM682.5 246h3.5v3.5h-3.5zM689.5 246h3.5v3.5h-3.5zM693 249.5h3.5v3.5h-3.5zM661.5 256.5h3.5v3.5h-3.5zM679 256.5h3.5v3.5h-3.5zM693 256.5h3.5v3.5h-3.5zM700 256.5h3.5v3.5h-3.5zM668.5 260h3.5v3.5h-3.5zM675.5 260h3.5v3.5h-3.5zM686 260h3.5v3.5h-3.5zM686 263.5h3.5v3.5h-3.5zM682.5 267h3.5v3.5h-3.5zM707 267h3.5v3.5h-3.5zM696.5 270.5h3.5v3.5h-3.5zM647.5 274h3.5v3.5h-3.5zM672 277.5h3.5v3.5h-3.5zM679 277.5h3.5v3.5h-3.5zM654.5 291.5h3.5v3.5h-3.5zM679 291.5h3.5v3.5h-3.5zM672 298.5h3.5v3.5h-3.5zM682.5 298.5h3.5v3.5h-3.5zM700 298.5h3.5v3.5h-3.5zM679 305.5h3.5v3.5h-3.5zM661.5 309h3.5v3.5h-3.5zM686 312.5h3.5v3.5h-3.5zM668.5 333.5h3.5v3.5h-3.5zM640.5 347.5h3.5v3.5h-3.5zM679 347.5h3.5v3.5h-3.5zM675.5 351h3.5v3.5h-3.5zM651 358h3.5v3.5h-3.5zM668.5 358h3.5v3.5h-3.5zM689.5 358h3.5v3.5h-3.5zM654.5 361.5h3.5v3.5h-3.5zM679 361.5h3.5v3.5h-3.5zM647.5 365h7v3.5h-7zM686 365h7v3.5h-7zM644 368.5h7v3.5h-7zM658 368.5h3.5v3.5h-3.5zM665 368.5h3.5v3.5h-3.5zM686 368.5h3.5v3.5h-3.5zM668.5 372h7v3.5h-7zM647.5 375.5h3.5v3.5h-3.5zM658 375.5h3.5v3.5h-3.5zM668.5 375.5h3.5v3.5h-3.5zM679 375.5h10.5v3.5h-10.5zM658 379h3.5v3.5h-3.5zM672 379h10.5v3.5h-10.5zM658 382.5h3.5v3.5h-3.5zM682.5 382.5h3.5v3.5h-3.5zM693 382.5h3.5v3.5h-3.5zM675.5 386h7v3.5h-7zM651 389.5h7v3.5h-7zM679 389.5h3.5v3.5h-3.5zM640.5 393h3.5v3.5h-3.5zM668.5 393h3.5v3.5h-3.5zM675.5 393h10.5v3.5h-10.5zM693 393h3.5v3.5h-3.5zM665 396.5h3.5v3.5h-3.5zM672 396.5h3.5v3.5h-3.5zM689.5 396.5h3.5v3.5h-3.5zM654.5 400h7v3.5h-7zM682.5 400h3.5v3.5h-3.5zM654.5 403.5h3.5v3.5h-3.5zM675.5 403.5h3.5v3.5h-3.5zM682.5 403.5h3.5v3.5h-3.5zM661.5 407h3.5v3.5h-3.5zM693 410.5h3.5v3.5h-3.5zM679 414h3.5v3.5h-3.5zM661.5 428h3.5v3.5h-3.5z"/>
<path fill="#959595" d="M689.5 176h3.5v3.5h-3.5zM700 176h3.5v3.5h-3.5zM721 176h3.5v3.5h-3.5zM693 179.5h3.5v3.5h-3.5zM700 179.5h3.5v3.5h-3.5zM700 183h3.5v3.5h-3.5zM721 186.5h7v3.5h-7zM717.5 190h3.5v3.5h-3.5zM710.5 200.5h7v3.5h-7zM707 204h3.5v3.5h-3.5zM707 211h3.5v3.5h-3.5zM658 214.5h3.5v3.5h-3.5zM665 214.5h3.5v3.5h-3.5zM686 214.5h3.5v3.5h-3.5zM700 214.5h3.5v3.5h-3.5zM707 214.5h3.5v3.5h-3.5zM668.5 218h3.5v3.5h-3.5zM679 218h7v3.5h-7zM689.5 218h3.5v3.5h-3.5zM696.5 225h3.5v3.5h-3.5zM693 232h3.5v3.5h-3.5zM668.5 253h3.5v3.5h-3.5zM672 260h3.5v3.5h-3.5zM675.5 281h3.5v3.5h-3.5zM672 309h3.5v3.5h-3.5zM672 344h3.5v3.5h-3.5zM661.5 358h3.5v3.5h-3.5zM658 361.5h3.5v3.5h-3.5zM661.5 365h3.5v3.5h-3.5zM668.5 365h3.5v3.5h-3.5zM675.5 365h3.5v3.5h-3.5zM693 365h3.5v3.5h-3.5zM675.5 372h3.5v3.5h-3.5zM693 375.5h3.5v3.5h-3.5zM651 379h7v3.5h-7zM665 379h3.5v3.5h-3.5zM661.5 382.5h7v3.5h-7zM679 382.5h3.5v3.5h-3.5zM686 382.5h3.5v3.5h-3.5zM651 386h3.5v3.5h-3.5zM651 396.5h3.5v3.5h-3.5zM665 403.5h3.5v3.5h-3.5zM658 407h3.5v3.5h-3.5z"/>
<path fill="#808080" d="M689.5 179.5h3.5v3.5h-3.5zM707 179.5h3.5v3.5h-3.5zM689.5 183h3.5v3.5h-3.5zM714 186.5h7v3.5h-7zM710.5 190h7v3.5h-7zM721 190h3.5v3.5h-3.5zM665 193.5h3.5v3.5h-3.5zM665 200.5h3.5v3.5h-3.5zM707 200.5h3.5v3.5h-3.5zM658 204h3.5v3.5h-3.5zM710.5 204h3.5v3.5h-3.5zM658 207.5h3.5v3.5h-3.5zM675.5 207.5h3.5v3.5h-3.5zM707 207.5h3.5v3.5h-3.5zM668.5 211h3.5v3.5h-3.5zM675.5 211h3.5v3.5h-3.5zM675.5 214.5h3.5v3.5h-3.5zM661.5 218h3.5v3.5h-3.5zM672 218h3.5v3.5h-3.5zM665 221.5h3.5v3.5h-3.5zM686 221.5h3.5v3.5h-3.5zM689.5 228.5h3.5v3.5h-3.5zM679 249.5h3.5v3.5h-3.5zM672 361.5h3.5v3.5h-3.5zM661.5 375.5h3.5v3.5h-3.5zM675.5 375.5h3.5v3.5h-3.5zM651 382.5h3.5v3.5h-3.5z"/>
<path fill="#6a6a6a" d="M696.5 179.5h3.5v3.5h-3.5zM703.5 179.5h3.5v3.5h-3.5zM675.5 186.5h3.5v3.5h-3.5zM661.5 204h7v3.5h-7zM703.5 207.5h3.5v3.5h-3.5zM689.5 211h3.5v3.5h-3.5zM700 211h3.5v3.5h-3.5zM686 225h3.5v3.5h-3.5z"/>
<path fill="#555555" d="M710.5 179.5h3.5v3.5h-3.5zM686 183h3.5v3.5h-3.5zM696.5 183h3.5v3.5h-3.5zM682.5 186.5h3.5v3.5h-3.5zM707 186.5h3.5v3.5h-3.5zM675.5 190h3.5v3.5h-3.5zM707 190h3.5v3.5h-3.5zM672 193.5h10.5v3.5h-10.5zM710.5 193.5h7v3.5h-7zM672 204h3.5v3.5h-3.5zM665 207.5h7v3.5h-7zM665 211h3.5v3.5h-3.5zM682.5 211h7v3.5h-7zM696.5 211h3.5v3.5h-3.5zM672 214.5h3.5v3.5h-3.5zM679 214.5h3.5v3.5h-3.5zM689.5 214.5h3.5v3.5h-3.5zM696.5 214.5h3.5v3.5h-3.5zM668.5 379h3.5v3.5h-3.5zM668.5 389.5h3.5v3.5h-3.5z"/>
<path fill="#404040" d="M707 183h3.5v3.5h-3.5zM679 186.5h3.5v3.5h-3.5zM696.5 186.5h3.5v3.5h-3.5zM710.5 186.5h3.5v3.5h-3.5zM679 190h3.5v3.5h-3.5zM707 193.5h3.5v3.5h-3.5zM668.5 197h7v3.5h-7zM710.5 197h3.5v3.5h-3.5zM672 200.5h3.5v3.5h-3.5zM703.5 200.5h3.5v3.5h-3.5zM682.5 207.5h3.5v3.5h-3.5zM700 207.5h3.5v3.5h-3.5zM672 211h3.5v3.5h-3.5zM679 211h3.5v3.5h-3.5zM693 211h3.5v3.5h-3.5zM682.5 214.5h3.5v3.5h-3.5zM675.5 218h3.5v3.5h-3.5z"/>
<path fill="#2a2a2a" d="M693 183h3.5v3.5h-3.5zM703.5 183h3.5v3.5h-3.5zM686 186.5h10.5v3.5h-10.5zM700 186.5h3.5v3.5h-3.5zM703.5 190h3.5v3.5h-3.5zM700 193.5h3.5v3.5h-3.5zM700 197h3.5v3.5h-3.5zM668.5 200.5h3.5v3.5h-3.5zM675.5 200.5h3.5v3.5h-3.5zM700 200.5h3.5v3.5h-3.5zM679 204h7v3.5h-7zM703.5 204h3.5v3.5h-3.5zM672 207.5h3.5v3.5h-3.5zM679 207.5h3.5v3.5h-3.5zM686 207.5h7v3.5h-7z"/>
<path fill="#151515" d="M703.5 186.5h3.5v3.5h-3.5zM682.5 190h14v3.5h-14zM700 190h3.5v3.5h-3.5zM682.5 193.5h14v3.5h-14zM703.5 193.5h3.5v3.5h-3.5zM675.5 197h17.5v3.5h-17.5zM696.5 197h3.5v3.5h-3.5zM703.5 197h7v3.5h-7zM679 200.5h3.5v3.5h-3.5zM686 200.5h3.5v3.5h-3.5zM696.5 200.5h3.5v3.5h-3.5zM675.5 204h3.5v3.5h-3.5zM686 204h3.5v3.5h-3.5zM693 204h10.5v3.5h-10.5zM693 207.5h7v3.5h-7z"/>
<path fill="#000000" d="M696.5 190h3.5v3.5h-3.5zM696.5 193.5h3.5v3.5h-3.5zM693 197h3.5v3.5h-3.5zM682.5 200.5h3.5v3.5h-3.5zM689.5 200.5h7v3.5h-7zM689.5 204h3.5v3.5h-3.5z"/>
</g>
<rect x="637" y="123.5" width="336" height="335" fill="none" stroke="#b4b4b4" stroke-width="4"/>
<line x1="747.5" y1="123.5" x2="747.5" y2="458.5" stroke="#8c8c8c" stroke-width="4"/>
<line x1="637" y1="322" x2="973" y2="322" stroke="#c8c8c8" stroke-width="5"/>
<text x="639.5" y="474.7" font-size="16" fill="#a8a8a8" textLength="35.5" lengthAdjust="spacingAndGlyphs">10⁰</text>
<text x="723.1" y="474.7" font-size="16" fill="#a8a8a8" textLength="34.5" lengthAdjust="spacingAndGlyphs">10¹</text>
<text x="807.1" y="474.7" font-size="16" fill="#a8a8a8" textLength="34.5" lengthAdjust="spacingAndGlyphs">10²</text>
<text x="891.1" y="474.7" font-size="16" fill="#a8a8a8" textLength="34.5" lengthAdjust="spacingAndGlyphs">10³</text>
<text x="975.2" y="474.7" font-size="16" fill="#a8a8a8" textLength="35" lengthAdjust="spacingAndGlyphs">10⁴</text>
<text transform="translate(628.7 456) rotate(-90) scale(1.1905 1.5845)" font-size="16" fill="#a8a8a8">10⁰</text>
<text transform="translate(628.7 372.7) rotate(-90) scale(1.4925 1.5845)" font-size="16" fill="#a8a8a8">10¹</text>
<text transform="translate(628.7 288.9) rotate(-90) scale(1.4925 1.5845)" font-size="16" fill="#a8a8a8">10²</text>
<text transform="translate(628.7 205.2) rotate(-90) scale(1.4925 1.5845)" font-size="16" fill="#a8a8a8">10³</text>
<text transform="translate(628.7 121.3) rotate(-90) scale(1.4184 1.5845)" font-size="16" fill="#a8a8a8">10⁴</text>
<text transform="translate(614 325.9) rotate(-90) scale(1.5029 1.6071)" font-size="16" fill="#b0b0b0">FL2-H</text>
<text x="652.4" y="174.5" font-size="48" stroke="#000" stroke-width="0.5" textLength="102" lengthAdjust="spacingAndGlyphs">75.9</text>
<text x="891.7" y="174.5" font-size="48" stroke="#000" stroke-width="0.5">0.7</text>
<text x="652.4" y="440.5" font-size="48" stroke="#000" stroke-width="0.5" textLength="101.5" lengthAdjust="spacingAndGlyphs">23.5</text>
<text x="891.2" y="440.5" font-size="48" stroke="#000" stroke-width="0.5">0.0</text>
<g filter="url(#bl)">
<path fill="#d4d4d4" d="M822.5 526.5h3.5v3.5h-3.5zM829.5 537h3.5v3.5h-3.5zM861 544h3.5v3.5h-3.5zM763 547.5h3.5v3.5h-3.5zM784 547.5h3.5v3.5h-3.5zM822.5 547.5h3.5v3.5h-3.5zM714 551h3.5v3.5h-3.5zM843.5 554.5h3.5v3.5h-3.5zM777 558h3.5v3.5h-3.5zM822.5 558h3.5v3.5h-3.5zM703.5 561.5h3.5v3.5h-3.5zM717.5 561.5h3.5v3.5h-3.5zM780.5 561.5h3.5v3.5h-3.5zM791 561.5h3.5v3.5h-3.5zM812 561.5h3.5v3.5h-3.5zM854 561.5h3.5v3.5h-3.5zM924 561.5h3.5v3.5h-3.5zM808.5 565h3.5v3.5h-3.5zM819 565h3.5v3.5h-3.5zM826 565h3.5v3.5h-3.5zM700 568.5h3.5v3.5h-3.5zM724.5 568.5h3.5v3.5h-3.5zM742 568.5h3.5v3.5h-3.5zM819 568.5h3.5v3.5h-3.5zM717.5 572h3.5v3.5h-3.5zM679 575.5h3.5v3.5h-3.5zM696.5 575.5h3.5v3.5h-3.5zM707 575.5h7v3.5h-7zM717.5 575.5h3.5v3.5h-3.5zM815.5 575.5h7v3.5h-7zM836.5 575.5h3.5v3.5h-3.5zM843.5 575.5h3.5v3.5h-3.5zM661.5 579h3.5v3.5h-3.5zM679 579h3.5v3.5h-3.5zM686 579h3.5v3.5h-3.5zM693 579h3.5v3.5h-3.5zM707 579h7v3.5h-7zM721 579h3.5v3.5h-3.5zM749 579h3.5v3.5h-3.5zM889 579h3.5v3.5h-3.5zM654.5 582.5h3.5v3.5h-3.5zM689.5 582.5h3.5v3.5h-3.5zM696.5 582.5h7v3.5h-7zM714 582.5h3.5v3.5h-3.5zM801.5 582.5h3.5v3.5h-3.5zM843.5 582.5h3.5v3.5h-3.5zM896 582.5h3.5v3.5h-3.5zM668.5 586h3.5v3.5h-3.5zM675.5 586h3.5v3.5h-3.5zM686 586h3.5v3.5h-3.5zM735 586h7v3.5h-7zM766.5 586h3.5v3.5h-3.5zM794.5 586h3.5v3.5h-3.5zM801.5 586h3.5v3.5h-3.5zM675.5 589.5h3.5v3.5h-3.5zM686 589.5h3.5v3.5h-3.5zM749 589.5h3.5v3.5h-3.5zM770 589.5h3.5v3.5h-3.5zM784 589.5h3.5v3.5h-3.5zM794.5 589.5h7v3.5h-7zM826 589.5h3.5v3.5h-3.5zM843.5 589.5h3.5v3.5h-3.5zM857.5 589.5h3.5v3.5h-3.5zM889 589.5h3.5v3.5h-3.5zM689.5 593h3.5v3.5h-3.5zM738.5 593h7v3.5h-7zM791 593h7v3.5h-7zM801.5 593h3.5v3.5h-3.5zM808.5 593h3.5v3.5h-3.5zM826 593h3.5v3.5h-3.5zM868 593h3.5v3.5h-3.5zM875 593h3.5v3.5h-3.5zM661.5 596.5h3.5v3.5h-3.5zM672 596.5h3.5v3.5h-3.5zM679 596.5h3.5v3.5h-3.5zM738.5 596.5h3.5v3.5h-3.5zM801.5 596.5h3.5v3.5h-3.5zM822.5 596.5h3.5v3.5h-3.5zM829.5 596.5h3.5v3.5h-3.5zM840 596.5h3.5v3.5h-3.5zM847 596.5h7v3.5h-7zM871.5 596.5h3.5v3.5h-3.5zM665 600h3.5v3.5h-3.5zM745.5 600h3.5v3.5h-3.5zM791 600h7v3.5h-7zM805 600h3.5v3.5h-3.5zM826 600h7v3.5h-7zM850.5 600h7v3.5h-7zM875 600h3.5v3.5h-3.5zM672 603.5h3.5v3.5h-3.5zM682.5 603.5h3.5v3.5h-3.5zM738.5 603.5h3.5v3.5h-3.5zM759.5 603.5h3.5v3.5h-3.5zM770 603.5h3.5v3.5h-3.5zM784 603.5h3.5v3.5h-3.5zM805 603.5h3.5v3.5h-3.5zM812 603.5h3.5v3.5h-3.5zM822.5 603.5h7v3.5h-7zM833 603.5h7v3.5h-7zM847 603.5h3.5v3.5h-3.5zM857.5 603.5h3.5v3.5h-3.5zM679 607h3.5v3.5h-3.5zM735 607h3.5v3.5h-3.5zM742 607h10.5v3.5h-10.5zM791 607h3.5v3.5h-3.5zM815.5 607h3.5v3.5h-3.5zM826 607h3.5v3.5h-3.5zM833 607h3.5v3.5h-3.5zM843.5 607h3.5v3.5h-3.5zM850.5 607h3.5v3.5h-3.5zM668.5 610.5h3.5v3.5h-3.5zM679 610.5h7v3.5h-7zM731.5 610.5h3.5v3.5h-3.5zM749 610.5h3.5v3.5h-3.5zM759.5 610.5h3.5v3.5h-3.5zM787.5 610.5h3.5v3.5h-3.5zM798 610.5h3.5v3.5h-3.5zM805 610.5h7v3.5h-7zM840 610.5h7v3.5h-7zM861 610.5h3.5v3.5h-3.5zM885.5 610.5h3.5v3.5h-3.5zM917 610.5h3.5v3.5h-3.5zM682.5 614h3.5v3.5h-3.5zM689.5 614h3.5v3.5h-3.5zM717.5 614h10.5v3.5h-10.5zM742 614h7v3.5h-7zM773.5 614h3.5v3.5h-3.5zM784 614h3.5v3.5h-3.5zM798 614h3.5v3.5h-3.5zM833 614h7v3.5h-7zM850.5 614h3.5v3.5h-3.5zM857.5 614h3.5v3.5h-3.5zM875 614h3.5v3.5h-3.5zM682.5 617.5h3.5v3.5h-3.5zM693 617.5h10.5v3.5h-10.5zM707 617.5h3.5v3.5h-3.5zM717.5 617.5h10.5v3.5h-10.5zM738.5 617.5h3.5v3.5h-3.5zM773.5 617.5h3.5v3.5h-3.5zM780.5 617.5h3.5v3.5h-3.5zM805 617.5h3.5v3.5h-3.5zM812 617.5h10.5v3.5h-10.5zM829.5 617.5h3.5v3.5h-3.5zM836.5 617.5h3.5v3.5h-3.5zM857.5 617.5h3.5v3.5h-3.5zM878.5 617.5h3.5v3.5h-3.5zM668.5 621h3.5v3.5h-3.5zM700 621h10.5v3.5h-10.5zM721 621h7v3.5h-7zM735 621h3.5v3.5h-3.5zM759.5 621h3.5v3.5h-3.5zM766.5 621h3.5v3.5h-3.5zM777 621h3.5v3.5h-3.5zM791 621h3.5v3.5h-3.5zM798 621h7v3.5h-7zM808.5 621h3.5v3.5h-3.5zM819 621h10.5v3.5h-10.5zM840 621h7v3.5h-7zM868 621h7v3.5h-7zM906.5 621h3.5v3.5h-3.5zM668.5 624.5h3.5v3.5h-3.5zM675.5 624.5h7v3.5h-7zM686 624.5h7v3.5h-7zM700 624.5h3.5v3.5h-3.5zM724.5 624.5h3.5v3.5h-3.5zM784 624.5h17.5v3.5h-17.5zM805 624.5h3.5v3.5h-3.5zM812 624.5h7v3.5h-7zM822.5 624.5h3.5v3.5h-3.5zM836.5 624.5h7v3.5h-7zM661.5 628h3.5v3.5h-3.5zM672 628h7v3.5h-7zM682.5 628h3.5v3.5h-3.5zM700 628h3.5v3.5h-3.5zM710.5 628h3.5v3.5h-3.5zM717.5 628h3.5v3.5h-3.5zM731.5 628h3.5v3.5h-3.5zM752.5 628h3.5v3.5h-3.5zM770 628h3.5v3.5h-3.5zM791 628h3.5v3.5h-3.5zM826 628h3.5v3.5h-3.5zM833 628h10.5v3.5h-10.5zM850.5 628h10.5v3.5h-10.5zM875 628h3.5v3.5h-3.5zM885.5 628h3.5v3.5h-3.5zM679 631.5h7v3.5h-7zM693 631.5h3.5v3.5h-3.5zM703.5 631.5h3.5v3.5h-3.5zM731.5 631.5h3.5v3.5h-3.5zM738.5 631.5h7v3.5h-7zM770 631.5h3.5v3.5h-3.5zM777 631.5h7v3.5h-7zM801.5 631.5h3.5v3.5h-3.5zM833 631.5h3.5v3.5h-3.5zM847 631.5h3.5v3.5h-3.5zM854 631.5h3.5v3.5h-3.5zM682.5 635h3.5v3.5h-3.5zM693 635h3.5v3.5h-3.5zM700 635h7v3.5h-7zM714 635h3.5v3.5h-3.5zM735 635h3.5v3.5h-3.5zM777 635h7v3.5h-7zM801.5 635h7v3.5h-7zM812 635h3.5v3.5h-3.5zM822.5 635h3.5v3.5h-3.5zM829.5 635h3.5v3.5h-3.5zM843.5 635h7v3.5h-7zM861 635h3.5v3.5h-3.5zM868 635h3.5v3.5h-3.5zM882 635h3.5v3.5h-3.5zM896 635h3.5v3.5h-3.5zM665 638.5h3.5v3.5h-3.5zM679 638.5h7v3.5h-7zM693 638.5h3.5v3.5h-3.5zM780.5 638.5h7v3.5h-7zM791 638.5h3.5v3.5h-3.5zM833 638.5h3.5v3.5h-3.5zM850.5 638.5h3.5v3.5h-3.5zM868 638.5h3.5v3.5h-3.5zM875 638.5h3.5v3.5h-3.5zM882 638.5h3.5v3.5h-3.5zM770 642h7v3.5h-7zM780.5 642h3.5v3.5h-3.5zM798 642h7v3.5h-7zM843.5 642h3.5v3.5h-3.5zM857.5 642h3.5v3.5h-3.5zM864.5 642h3.5v3.5h-3.5zM899.5 642h3.5v3.5h-3.5zM742 645.5h3.5v3.5h-3.5zM752.5 645.5h3.5v3.5h-3.5zM763 645.5h10.5v3.5h-10.5zM794.5 645.5h3.5v3.5h-3.5zM801.5 645.5h7v3.5h-7zM833 645.5h3.5v3.5h-3.5zM847 645.5h3.5v3.5h-3.5zM682.5 649h3.5v3.5h-3.5zM689.5 649h3.5v3.5h-3.5zM763 649h3.5v3.5h-3.5zM784 649h3.5v3.5h-3.5zM791 649h7v3.5h-7zM801.5 649h7v3.5h-7zM819 649h3.5v3.5h-3.5zM826 649h3.5v3.5h-3.5zM833 649h3.5v3.5h-3.5zM854 649h7v3.5h-7zM882 649h3.5v3.5h-3.5zM696.5 652.5h7v3.5h-7zM707 652.5h3.5v3.5h-3.5zM759.5 652.5h3.5v3.5h-3.5zM780.5 652.5h3.5v3.5h-3.5zM798 652.5h3.5v3.5h-3.5zM812 652.5h3.5v3.5h-3.5zM819 652.5h7v3.5h-7zM836.5 652.5h7v3.5h-7zM850.5 652.5h3.5v3.5h-3.5zM861 652.5h3.5v3.5h-3.5zM868 652.5h3.5v3.5h-3.5zM875 652.5h3.5v3.5h-3.5zM682.5 656h7v3.5h-7zM696.5 656h3.5v3.5h-3.5zM707 656h3.5v3.5h-3.5zM714 656h3.5v3.5h-3.5zM787.5 656h7v3.5h-7zM801.5 656h3.5v3.5h-3.5zM812 656h3.5v3.5h-3.5zM840 656h3.5v3.5h-3.5zM882 656h3.5v3.5h-3.5zM686 659.5h3.5v3.5h-3.5zM693 659.5h3.5v3.5h-3.5zM717.5 659.5h3.5v3.5h-3.5zM728 659.5h3.5v3.5h-3.5zM777 659.5h10.5v3.5h-10.5zM822.5 659.5h7v3.5h-7zM836.5 659.5h3.5v3.5h-3.5zM847 659.5h3.5v3.5h-3.5zM854 659.5h3.5v3.5h-3.5zM871.5 659.5h3.5v3.5h-3.5zM896 659.5h3.5v3.5h-3.5zM700 663h7v3.5h-7zM710.5 663h7v3.5h-7zM724.5 663h3.5v3.5h-3.5zM752.5 663h3.5v3.5h-3.5zM784 663h3.5v3.5h-3.5zM805 663h3.5v3.5h-3.5zM812 663h3.5v3.5h-3.5zM819 663h7v3.5h-7zM829.5 663h7v3.5h-7zM840 663h7v3.5h-7zM850.5 663h3.5v3.5h-3.5zM689.5 666.5h3.5v3.5h-3.5zM696.5 666.5h3.5v3.5h-3.5zM703.5 666.5h3.5v3.5h-3.5zM724.5 666.5h3.5v3.5h-3.5zM784 666.5h3.5v3.5h-3.5zM794.5 666.5h3.5v3.5h-3.5zM812 666.5h10.5v3.5h-10.5zM829.5 666.5h7v3.5h-7zM843.5 666.5h14v3.5h-14zM861 666.5h3.5v3.5h-3.5zM903 666.5h3.5v3.5h-3.5zM682.5 670h7v3.5h-7zM696.5 670h14v3.5h-14zM714 670h3.5v3.5h-3.5zM728 670h3.5v3.5h-3.5zM773.5 670h17.5v3.5h-17.5zM794.5 670h3.5v3.5h-3.5zM805 670h3.5v3.5h-3.5zM812 670h3.5v3.5h-3.5zM822.5 670h3.5v3.5h-3.5zM829.5 670h3.5v3.5h-3.5zM836.5 670h3.5v3.5h-3.5zM864.5 670h3.5v3.5h-3.5zM892.5 670h3.5v3.5h-3.5zM675.5 673.5h3.5v3.5h-3.5zM686 673.5h3.5v3.5h-3.5zM700 673.5h7v3.5h-7zM714 673.5h7v3.5h-7zM763 673.5h3.5v3.5h-3.5zM784 673.5h3.5v3.5h-3.5zM805 673.5h3.5v3.5h-3.5zM812 673.5h3.5v3.5h-3.5zM822.5 673.5h3.5v3.5h-3.5zM829.5 673.5h3.5v3.5h-3.5zM843.5 673.5h7v3.5h-7zM857.5 673.5h3.5v3.5h-3.5zM871.5 673.5h7v3.5h-7zM882 673.5h3.5v3.5h-3.5zM896 673.5h3.5v3.5h-3.5zM686 677h7v3.5h-7zM707 677h3.5v3.5h-3.5zM717.5 677h7v3.5h-7zM728 677h3.5v3.5h-3.5zM777 677h3.5v3.5h-3.5zM815.5 677h3.5v3.5h-3.5zM864.5 677h3.5v3.5h-3.5zM875 677h3.5v3.5h-3.5zM959 677h3.5v3.5h-3.5zM686 680.5h10.5v3.5h-10.5zM700 680.5h3.5v3.5h-3.5zM763 680.5h3.5v3.5h-3.5zM784 680.5h3.5v3.5h-3.5zM794.5 680.5h3.5v3.5h-3.5zM819 680.5h3.5v3.5h-3.5zM826 680.5h7v3.5h-7zM850.5 680.5h7v3.5h-7zM675.5 684h7v3.5h-7zM686 684h7v3.5h-7zM703.5 684h3.5v3.5h-3.5zM714 684h7v3.5h-7zM724.5 684h3.5v3.5h-3.5zM780.5 684h3.5v3.5h-3.5zM791 684h3.5v3.5h-3.5zM822.5 684h3.5v3.5h-3.5zM857.5 684h3.5v3.5h-3.5zM682.5 687.5h10.5v3.5h-10.5zM696.5 687.5h7v3.5h-7zM710.5 687.5h3.5v3.5h-3.5zM773.5 687.5h3.5v3.5h-3.5zM784 687.5h3.5v3.5h-3.5zM801.5 687.5h10.5v3.5h-10.5zM815.5 687.5h7v3.5h-7zM826 687.5h3.5v3.5h-3.5zM843.5 687.5h7v3.5h-7zM857.5 687.5h3.5v3.5h-3.5zM885.5 687.5h3.5v3.5h-3.5zM917 687.5h3.5v3.5h-3.5zM700 691h3.5v3.5h-3.5zM707 691h3.5v3.5h-3.5zM717.5 691h3.5v3.5h-3.5zM735 691h3.5v3.5h-3.5zM766.5 691h3.5v3.5h-3.5zM784 691h7v3.5h-7zM798 691h3.5v3.5h-3.5zM805 691h10.5v3.5h-10.5zM854 691h3.5v3.5h-3.5zM868 691h3.5v3.5h-3.5zM875 691h3.5v3.5h-3.5zM686 694.5h3.5v3.5h-3.5zM693 694.5h10.5v3.5h-10.5zM707 694.5h3.5v3.5h-3.5zM714 694.5h3.5v3.5h-3.5zM756 694.5h3.5v3.5h-3.5zM777 694.5h7v3.5h-7zM808.5 694.5h3.5v3.5h-3.5zM815.5 694.5h7v3.5h-7zM854 694.5h7v3.5h-7zM686 698h10.5v3.5h-10.5zM703.5 698h10.5v3.5h-10.5zM717.5 698h3.5v3.5h-3.5zM791 698h3.5v3.5h-3.5zM798 698h7v3.5h-7zM850.5 698h3.5v3.5h-3.5zM707 701.5h3.5v3.5h-3.5zM717.5 701.5h3.5v3.5h-3.5zM759.5 701.5h3.5v3.5h-3.5zM773.5 701.5h3.5v3.5h-3.5zM815.5 701.5h3.5v3.5h-3.5zM826 701.5h7v3.5h-7zM847 701.5h3.5v3.5h-3.5zM854 701.5h3.5v3.5h-3.5zM724.5 705h7v3.5h-7zM819 705h3.5v3.5h-3.5zM829.5 705h7v3.5h-7zM840 705h7v3.5h-7zM913.5 705h3.5v3.5h-3.5zM696.5 708.5h3.5v3.5h-3.5zM770 708.5h10.5v3.5h-10.5zM833 708.5h7v3.5h-7zM682.5 712h3.5v3.5h-3.5zM752.5 712h3.5v3.5h-3.5zM815.5 712h3.5v3.5h-3.5zM885.5 712h3.5v3.5h-3.5zM651 715.5h3.5v3.5h-3.5zM700 715.5h7v3.5h-7zM770 715.5h3.5v3.5h-3.5zM780.5 715.5h3.5v3.5h-3.5zM791 715.5h3.5v3.5h-3.5zM805 715.5h3.5v3.5h-3.5zM819 715.5h3.5v3.5h-3.5zM829.5 715.5h3.5v3.5h-3.5zM780.5 719h3.5v3.5h-3.5zM808.5 719h3.5v3.5h-3.5zM819 719h3.5v3.5h-3.5zM840 719h3.5v3.5h-3.5zM784 722.5h3.5v3.5h-3.5zM794.5 722.5h7v3.5h-7zM805 722.5h7v3.5h-7zM819 722.5h3.5v3.5h-3.5zM829.5 722.5h3.5v3.5h-3.5zM836.5 722.5h3.5v3.5h-3.5zM861 722.5h3.5v3.5h-3.5zM868 722.5h3.5v3.5h-3.5zM798 726h10.5v3.5h-10.5zM822.5 726h7v3.5h-7zM833 726h3.5v3.5h-3.5zM840 726h3.5v3.5h-3.5zM847 726h3.5v3.5h-3.5zM871.5 726h3.5v3.5h-3.5zM885.5 726h3.5v3.5h-3.5zM665 729.5h3.5v3.5h-3.5zM682.5 729.5h3.5v3.5h-3.5zM696.5 729.5h3.5v3.5h-3.5zM801.5 729.5h3.5v3.5h-3.5zM826 729.5h3.5v3.5h-3.5zM717.5 733h3.5v3.5h-3.5zM822.5 733h3.5v3.5h-3.5zM759.5 736.5h3.5v3.5h-3.5zM794.5 736.5h3.5v3.5h-3.5zM843.5 736.5h3.5v3.5h-3.5zM854 736.5h3.5v3.5h-3.5zM672 740h3.5v3.5h-3.5zM682.5 740h3.5v3.5h-3.5zM693 740h3.5v3.5h-3.5zM700 740h3.5v3.5h-3.5zM770 740h3.5v3.5h-3.5zM777 740h3.5v3.5h-3.5zM791 740h3.5v3.5h-3.5zM819 740h7v3.5h-7zM850.5 740h3.5v3.5h-3.5zM857.5 740h3.5v3.5h-3.5zM658 743.5h3.5v3.5h-3.5zM679 743.5h3.5v3.5h-3.5zM791 743.5h3.5v3.5h-3.5zM801.5 743.5h3.5v3.5h-3.5zM812 743.5h3.5v3.5h-3.5zM836.5 743.5h3.5v3.5h-3.5zM647.5 747h3.5v3.5h-3.5zM679 747h3.5v3.5h-3.5zM707 747h3.5v3.5h-3.5zM721 747h3.5v3.5h-3.5zM780.5 747h3.5v3.5h-3.5zM791 747h3.5v3.5h-3.5zM805 747h3.5v3.5h-3.5zM826 747h3.5v3.5h-3.5zM843.5 747h3.5v3.5h-3.5zM857.5 747h3.5v3.5h-3.5zM910 747h3.5v3.5h-3.5zM651 750.5h3.5v3.5h-3.5zM693 750.5h3.5v3.5h-3.5zM700 750.5h7v3.5h-7zM763 750.5h3.5v3.5h-3.5zM794.5 750.5h7v3.5h-7zM812 750.5h3.5v3.5h-3.5zM850.5 750.5h3.5v3.5h-3.5zM861 750.5h3.5v3.5h-3.5zM878.5 750.5h3.5v3.5h-3.5zM686 754h3.5v3.5h-3.5zM707 754h7v3.5h-7zM721 754h3.5v3.5h-3.5zM815.5 754h3.5v3.5h-3.5zM829.5 754h3.5v3.5h-3.5zM836.5 754h7v3.5h-7zM857.5 754h3.5v3.5h-3.5zM864.5 754h3.5v3.5h-3.5zM651 757.5h3.5v3.5h-3.5zM658 757.5h7v3.5h-7zM707 757.5h3.5v3.5h-3.5zM717.5 757.5h3.5v3.5h-3.5zM745.5 757.5h3.5v3.5h-3.5zM826 757.5h7v3.5h-7zM857.5 757.5h3.5v3.5h-3.5zM658 761h3.5v3.5h-3.5zM682.5 761h3.5v3.5h-3.5zM710.5 761h3.5v3.5h-3.5zM735 761h3.5v3.5h-3.5zM791 761h3.5v3.5h-3.5zM822.5 761h3.5v3.5h-3.5zM861 761h3.5v3.5h-3.5zM868 761h3.5v3.5h-3.5zM651 764.5h3.5v3.5h-3.5zM693 764.5h3.5v3.5h-3.5zM815.5 764.5h14v3.5h-14zM836.5 764.5h7v3.5h-7zM861 764.5h7v3.5h-7zM896 764.5h3.5v3.5h-3.5zM658 768h7v3.5h-7zM682.5 768h7v3.5h-7zM693 768h7v3.5h-7zM773.5 768h10.5v3.5h-10.5zM836.5 768h3.5v3.5h-3.5zM857.5 768h3.5v3.5h-3.5zM875 768h3.5v3.5h-3.5zM654.5 771.5h3.5v3.5h-3.5zM675.5 771.5h3.5v3.5h-3.5zM682.5 771.5h7v3.5h-7zM707 771.5h3.5v3.5h-3.5zM742 771.5h3.5v3.5h-3.5zM784 771.5h3.5v3.5h-3.5zM798 771.5h3.5v3.5h-3.5zM812 771.5h7v3.5h-7zM857.5 771.5h3.5v3.5h-3.5zM868 771.5h3.5v3.5h-3.5zM654.5 775h7v3.5h-7zM675.5 775h7v3.5h-7zM689.5 775h3.5v3.5h-3.5zM700 775h3.5v3.5h-3.5zM710.5 775h3.5v3.5h-3.5zM721 775h3.5v3.5h-3.5zM770 775h3.5v3.5h-3.5zM794.5 775h3.5v3.5h-3.5zM826 775h3.5v3.5h-3.5zM836.5 775h3.5v3.5h-3.5zM861 775h3.5v3.5h-3.5zM644 778.5h3.5v3.5h-3.5zM658 778.5h3.5v3.5h-3.5zM668.5 778.5h3.5v3.5h-3.5zM689.5 778.5h3.5v3.5h-3.5zM696.5 778.5h3.5v3.5h-3.5zM731.5 778.5h3.5v3.5h-3.5zM784 778.5h3.5v3.5h-3.5zM791 778.5h3.5v3.5h-3.5zM805 778.5h3.5v3.5h-3.5zM815.5 778.5h3.5v3.5h-3.5zM822.5 778.5h7v3.5h-7zM833 778.5h3.5v3.5h-3.5zM850.5 778.5h7v3.5h-7zM668.5 782h3.5v3.5h-3.5zM693 782h3.5v3.5h-3.5zM707 782h3.5v3.5h-3.5zM794.5 782h3.5v3.5h-3.5zM805 782h3.5v3.5h-3.5zM836.5 782h7v3.5h-7zM854 782h3.5v3.5h-3.5zM861 782h3.5v3.5h-3.5zM665 785.5h3.5v3.5h-3.5zM707 785.5h3.5v3.5h-3.5zM735 785.5h3.5v3.5h-3.5zM742 785.5h3.5v3.5h-3.5zM780.5 785.5h3.5v3.5h-3.5zM808.5 785.5h3.5v3.5h-3.5zM829.5 785.5h7v3.5h-7zM847 785.5h3.5v3.5h-3.5zM906.5 785.5h3.5v3.5h-3.5zM679 789h3.5v3.5h-3.5zM686 789h7v3.5h-7zM696.5 789h3.5v3.5h-3.5zM770 789h3.5v3.5h-3.5zM791 789h3.5v3.5h-3.5zM805 789h3.5v3.5h-3.5zM812 789h3.5v3.5h-3.5zM826 789h7v3.5h-7zM644 792.5h3.5v3.5h-3.5zM675.5 792.5h3.5v3.5h-3.5zM686 792.5h3.5v3.5h-3.5zM700 792.5h3.5v3.5h-3.5zM724.5 792.5h3.5v3.5h-3.5zM801.5 792.5h3.5v3.5h-3.5zM815.5 792.5h3.5v3.5h-3.5zM822.5 792.5h3.5v3.5h-3.5zM836.5 792.5h3.5v3.5h-3.5zM868 792.5h3.5v3.5h-3.5zM945 792.5h3.5v3.5h-3.5zM647.5 796h3.5v3.5h-3.5zM686 796h3.5v3.5h-3.5zM700 796h3.5v3.5h-3.5zM710.5 796h7v3.5h-7zM728 796h3.5v3.5h-3.5zM738.5 796h3.5v3.5h-3.5zM759.5 796h3.5v3.5h-3.5zM794.5 796h3.5v3.5h-3.5zM822.5 796h3.5v3.5h-3.5zM836.5 796h3.5v3.5h-3.5zM857.5 796h3.5v3.5h-3.5zM868 796h3.5v3.5h-3.5zM668.5 799.5h7v3.5h-7zM707 799.5h3.5v3.5h-3.5zM731.5 799.5h3.5v3.5h-3.5zM749 799.5h3.5v3.5h-3.5zM801.5 799.5h3.5v3.5h-3.5zM826 799.5h3.5v3.5h-3.5zM952 799.5h3.5v3.5h-3.5zM651 803h3.5v3.5h-3.5zM675.5 803h3.5v3.5h-3.5zM686 803h7v3.5h-7zM714 803h3.5v3.5h-3.5zM731.5 803h3.5v3.5h-3.5zM787.5 803h3.5v3.5h-3.5zM808.5 803h3.5v3.5h-3.5zM819 803h3.5v3.5h-3.5zM854 803h3.5v3.5h-3.5zM864.5 803h3.5v3.5h-3.5zM679 806.5h3.5v3.5h-3.5zM717.5 806.5h3.5v3.5h-3.5zM759.5 806.5h3.5v3.5h-3.5zM808.5 806.5h3.5v3.5h-3.5zM836.5 806.5h3.5v3.5h-3.5zM857.5 806.5h3.5v3.5h-3.5zM875 806.5h3.5v3.5h-3.5zM703.5 810h3.5v3.5h-3.5zM721 810h3.5v3.5h-3.5zM798 810h7v3.5h-7zM812 810h3.5v3.5h-3.5zM822.5 810h3.5v3.5h-3.5zM829.5 810h3.5v3.5h-3.5zM882 810h3.5v3.5h-3.5zM644 813.5h7v3.5h-7zM679 813.5h10.5v3.5h-10.5zM696.5 813.5h3.5v3.5h-3.5zM735 813.5h3.5v3.5h-3.5zM647.5 817h3.5v3.5h-3.5zM654.5 817h3.5v3.5h-3.5zM682.5 817h3.5v3.5h-3.5zM714 817h3.5v3.5h-3.5zM728 817h3.5v3.5h-3.5zM826 817h14v3.5h-14zM843.5 817h3.5v3.5h-3.5zM854 817h3.5v3.5h-3.5zM654.5 820.5h7v3.5h-7zM686 820.5h3.5v3.5h-3.5zM696.5 820.5h3.5v3.5h-3.5zM724.5 820.5h3.5v3.5h-3.5zM815.5 820.5h3.5v3.5h-3.5zM826 820.5h3.5v3.5h-3.5zM836.5 820.5h3.5v3.5h-3.5zM847 820.5h3.5v3.5h-3.5zM854 820.5h3.5v3.5h-3.5zM878.5 820.5h3.5v3.5h-3.5zM889 820.5h3.5v3.5h-3.5zM913.5 820.5h3.5v3.5h-3.5zM679 824h3.5v3.5h-3.5zM696.5 824h3.5v3.5h-3.5zM728 824h7v3.5h-7zM819 824h3.5v3.5h-3.5zM840 824h3.5v3.5h-3.5zM854 824h3.5v3.5h-3.5zM892.5 824h3.5v3.5h-3.5zM672 827.5h3.5v3.5h-3.5zM714 827.5h3.5v3.5h-3.5zM721 827.5h3.5v3.5h-3.5zM763 827.5h3.5v3.5h-3.5zM808.5 827.5h3.5v3.5h-3.5zM878.5 827.5h3.5v3.5h-3.5zM640.5 831h3.5v3.5h-3.5zM658 831h3.5v3.5h-3.5zM703.5 831h3.5v3.5h-3.5zM847 831h3.5v3.5h-3.5zM661.5 834.5h3.5v3.5h-3.5zM675.5 834.5h3.5v3.5h-3.5zM696.5 834.5h3.5v3.5h-3.5zM703.5 834.5h3.5v3.5h-3.5zM721 834.5h3.5v3.5h-3.5zM770 834.5h3.5v3.5h-3.5zM798 834.5h3.5v3.5h-3.5zM812 834.5h3.5v3.5h-3.5zM840 834.5h3.5v3.5h-3.5zM868 834.5h3.5v3.5h-3.5zM752.5 838h3.5v3.5h-3.5zM801.5 838h3.5v3.5h-3.5zM808.5 838h3.5v3.5h-3.5zM661.5 841.5h3.5v3.5h-3.5zM693 841.5h3.5v3.5h-3.5zM703.5 841.5h3.5v3.5h-3.5zM717.5 841.5h3.5v3.5h-3.5zM724.5 841.5h3.5v3.5h-3.5zM770 841.5h3.5v3.5h-3.5zM780.5 841.5h3.5v3.5h-3.5zM805 841.5h3.5v3.5h-3.5zM668.5 845h3.5v3.5h-3.5zM679 845h3.5v3.5h-3.5zM766.5 845h3.5v3.5h-3.5zM808.5 845h3.5v3.5h-3.5zM815.5 845h3.5v3.5h-3.5zM829.5 845h3.5v3.5h-3.5zM903 845h3.5v3.5h-3.5zM665 848.5h3.5v3.5h-3.5zM682.5 848.5h3.5v3.5h-3.5zM703.5 848.5h3.5v3.5h-3.5zM745.5 848.5h3.5v3.5h-3.5zM766.5 848.5h3.5v3.5h-3.5zM661.5 852h3.5v3.5h-3.5zM686 852h3.5v3.5h-3.5zM840 852h3.5v3.5h-3.5zM854 852h3.5v3.5h-3.5z"/>
<path fill="#bfbfbf" d="M735 572h3.5v3.5h-3.5zM721 575.5h3.5v3.5h-3.5zM728 575.5h3.5v3.5h-3.5zM724.5 579h3.5v3.5h-3.5zM703.5 582.5h3.5v3.5h-3.5zM721 582.5h3.5v3.5h-3.5zM679 586h7v3.5h-7zM693 586h3.5v3.5h-3.5zM703.5 586h3.5v3.5h-3.5zM721 586h3.5v3.5h-3.5zM728 586h7v3.5h-7zM861 586h3.5v3.5h-3.5zM689.5 589.5h7v3.5h-7zM728 589.5h3.5v3.5h-3.5zM738.5 589.5h3.5v3.5h-3.5zM693 593h3.5v3.5h-3.5zM731.5 593h3.5v3.5h-3.5zM745.5 596.5h3.5v3.5h-3.5zM679 600h10.5v3.5h-10.5zM731.5 600h7v3.5h-7zM770 600h3.5v3.5h-3.5zM689.5 603.5h3.5v3.5h-3.5zM815.5 603.5h3.5v3.5h-3.5zM661.5 607h3.5v3.5h-3.5zM682.5 607h3.5v3.5h-3.5zM805 607h3.5v3.5h-3.5zM721 610.5h3.5v3.5h-3.5zM735 610.5h3.5v3.5h-3.5zM640.5 614h3.5v3.5h-3.5zM665 614h3.5v3.5h-3.5zM693 614h3.5v3.5h-3.5zM710.5 614h7v3.5h-7zM738.5 614h3.5v3.5h-3.5zM679 617.5h3.5v3.5h-3.5zM689.5 617.5h3.5v3.5h-3.5zM735 617.5h3.5v3.5h-3.5zM679 621h7v3.5h-7zM717.5 621h3.5v3.5h-3.5zM784 621h3.5v3.5h-3.5zM829.5 621h3.5v3.5h-3.5zM850.5 621h3.5v3.5h-3.5zM857.5 621h3.5v3.5h-3.5zM770 624.5h3.5v3.5h-3.5zM759.5 628h3.5v3.5h-3.5zM787.5 628h3.5v3.5h-3.5zM812 628h3.5v3.5h-3.5zM819 628h3.5v3.5h-3.5zM829.5 628h3.5v3.5h-3.5zM686 631.5h3.5v3.5h-3.5zM710.5 631.5h3.5v3.5h-3.5zM808.5 631.5h3.5v3.5h-3.5zM819 631.5h3.5v3.5h-3.5zM815.5 635h3.5v3.5h-3.5zM721 638.5h3.5v3.5h-3.5zM787.5 638.5h3.5v3.5h-3.5zM798 638.5h3.5v3.5h-3.5zM826 638.5h3.5v3.5h-3.5zM812 642h3.5v3.5h-3.5zM829.5 642h7v3.5h-7zM840 642h3.5v3.5h-3.5zM759.5 645.5h3.5v3.5h-3.5zM700 649h3.5v3.5h-3.5zM808.5 649h3.5v3.5h-3.5zM815.5 649h3.5v3.5h-3.5zM829.5 649h3.5v3.5h-3.5zM843.5 649h3.5v3.5h-3.5zM815.5 652.5h3.5v3.5h-3.5zM815.5 656h3.5v3.5h-3.5zM833 656h3.5v3.5h-3.5zM843.5 656h3.5v3.5h-3.5zM850.5 656h3.5v3.5h-3.5zM829.5 659.5h3.5v3.5h-3.5zM717.5 663h3.5v3.5h-3.5zM801.5 663h3.5v3.5h-3.5zM847 663h3.5v3.5h-3.5zM857.5 663h3.5v3.5h-3.5zM700 666.5h3.5v3.5h-3.5zM707 666.5h14v3.5h-14zM808.5 666.5h3.5v3.5h-3.5zM689.5 670h3.5v3.5h-3.5zM717.5 670h3.5v3.5h-3.5zM833 670h3.5v3.5h-3.5zM689.5 673.5h7v3.5h-7zM710.5 673.5h3.5v3.5h-3.5zM696.5 677h3.5v3.5h-3.5zM703.5 677h3.5v3.5h-3.5zM724.5 677h3.5v3.5h-3.5zM808.5 677h3.5v3.5h-3.5zM703.5 680.5h7v3.5h-7zM721 680.5h7v3.5h-7zM700 684h3.5v3.5h-3.5zM707 684h7v3.5h-7zM847 684h3.5v3.5h-3.5zM672 687.5h3.5v3.5h-3.5zM724.5 687.5h3.5v3.5h-3.5zM829.5 687.5h3.5v3.5h-3.5zM689.5 691h3.5v3.5h-3.5zM710.5 691h3.5v3.5h-3.5zM794.5 694.5h3.5v3.5h-3.5zM801.5 694.5h3.5v3.5h-3.5zM878.5 694.5h3.5v3.5h-3.5zM700 698h3.5v3.5h-3.5zM833 698h3.5v3.5h-3.5zM843.5 698h3.5v3.5h-3.5zM805 708.5h3.5v3.5h-3.5zM840 712h3.5v3.5h-3.5zM812 715.5h3.5v3.5h-3.5zM857.5 726h3.5v3.5h-3.5zM812 729.5h3.5v3.5h-3.5zM864.5 729.5h3.5v3.5h-3.5zM787.5 740h3.5v3.5h-3.5zM826 750.5h3.5v3.5h-3.5zM840 750.5h3.5v3.5h-3.5zM847 750.5h3.5v3.5h-3.5zM819 754h3.5v3.5h-3.5zM826 754h3.5v3.5h-3.5zM700 757.5h3.5v3.5h-3.5zM840 757.5h3.5v3.5h-3.5zM798 761h3.5v3.5h-3.5zM661.5 764.5h3.5v3.5h-3.5zM672 768h3.5v3.5h-3.5zM707 768h3.5v3.5h-3.5zM794.5 768h3.5v3.5h-3.5zM808.5 768h3.5v3.5h-3.5zM815.5 768h3.5v3.5h-3.5zM819 771.5h3.5v3.5h-3.5zM707 778.5h3.5v3.5h-3.5zM696.5 785.5h3.5v3.5h-3.5zM815.5 789h3.5v3.5h-3.5zM822.5 789h3.5v3.5h-3.5zM829.5 792.5h3.5v3.5h-3.5zM850.5 792.5h3.5v3.5h-3.5zM829.5 796h3.5v3.5h-3.5zM721 799.5h3.5v3.5h-3.5zM815.5 799.5h3.5v3.5h-3.5zM822.5 803h3.5v3.5h-3.5zM654.5 806.5h3.5v3.5h-3.5zM693 806.5h3.5v3.5h-3.5zM668.5 813.5h3.5v3.5h-3.5zM714 813.5h3.5v3.5h-3.5zM822.5 813.5h7v3.5h-7zM798 817h3.5v3.5h-3.5zM836.5 824h3.5v3.5h-3.5zM836.5 831h3.5v3.5h-3.5zM654.5 834.5h3.5v3.5h-3.5zM679 834.5h3.5v3.5h-3.5zM710.5 838h3.5v3.5h-3.5zM833 838h3.5v3.5h-3.5zM700 852h3.5v3.5h-3.5z"/>
<path fill="#959595" d="M721 572h3.5v3.5h-3.5zM689.5 575.5h3.5v3.5h-3.5zM724.5 582.5h7v3.5h-7zM735 582.5h3.5v3.5h-3.5zM731.5 589.5h7v3.5h-7zM686 593h3.5v3.5h-3.5zM696.5 593h3.5v3.5h-3.5zM735 593h3.5v3.5h-3.5zM798 593h3.5v3.5h-3.5zM682.5 596.5h7v3.5h-7zM735 596.5h3.5v3.5h-3.5zM689.5 600h3.5v3.5h-3.5zM686 603.5h3.5v3.5h-3.5zM731.5 603.5h7v3.5h-7zM717.5 607h3.5v3.5h-3.5zM724.5 607h7v3.5h-7zM787.5 607h3.5v3.5h-3.5zM686 610.5h3.5v3.5h-3.5zM700 614h3.5v3.5h-3.5zM707 614h3.5v3.5h-3.5zM787.5 614h3.5v3.5h-3.5zM686 617.5h3.5v3.5h-3.5zM703.5 617.5h3.5v3.5h-3.5zM714 617.5h3.5v3.5h-3.5zM686 621h3.5v3.5h-3.5zM717.5 624.5h3.5v3.5h-3.5zM829.5 624.5h3.5v3.5h-3.5zM815.5 638.5h3.5v3.5h-3.5zM819 642h3.5v3.5h-3.5zM854 645.5h3.5v3.5h-3.5zM794.5 656h3.5v3.5h-3.5zM714 659.5h3.5v3.5h-3.5zM833 659.5h3.5v3.5h-3.5zM693 663h3.5v3.5h-3.5zM815.5 670h3.5v3.5h-3.5zM840 670h3.5v3.5h-3.5zM707 673.5h3.5v3.5h-3.5zM861 673.5h3.5v3.5h-3.5zM710.5 677h3.5v3.5h-3.5zM710.5 680.5h3.5v3.5h-3.5zM717.5 680.5h3.5v3.5h-3.5zM833 680.5h3.5v3.5h-3.5zM693 687.5h3.5v3.5h-3.5zM707 687.5h3.5v3.5h-3.5zM696.5 691h3.5v3.5h-3.5zM717.5 694.5h3.5v3.5h-3.5zM696.5 806.5h3.5v3.5h-3.5z"/>
<path fill="#808080" d="M710.5 582.5h3.5v3.5h-3.5zM696.5 586h3.5v3.5h-3.5zM707 586h7v3.5h-7zM696.5 589.5h3.5v3.5h-3.5zM728 593h3.5v3.5h-3.5zM696.5 603.5h3.5v3.5h-3.5zM724.5 603.5h7v3.5h-7zM714 607h3.5v3.5h-3.5zM710.5 610.5h3.5v3.5h-3.5zM717.5 610.5h3.5v3.5h-3.5zM724.5 610.5h3.5v3.5h-3.5zM696.5 614h3.5v3.5h-3.5zM787.5 621h3.5v3.5h-3.5zM843.5 628h3.5v3.5h-3.5zM836.5 649h3.5v3.5h-3.5zM843.5 652.5h3.5v3.5h-3.5zM700 677h3.5v3.5h-3.5zM801.5 680.5h3.5v3.5h-3.5zM840 785.5h3.5v3.5h-3.5z"/>
<path fill="#6a6a6a" d="M707 582.5h3.5v3.5h-3.5zM714 586h3.5v3.5h-3.5zM724.5 586h3.5v3.5h-3.5zM731.5 596.5h3.5v3.5h-3.5zM728 600h3.5v3.5h-3.5zM689.5 607h3.5v3.5h-3.5zM696.5 610.5h3.5v3.5h-3.5zM686 614h3.5v3.5h-3.5zM703.5 614h3.5v3.5h-3.5zM707 624.5h3.5v3.5h-3.5zM714 677h3.5v3.5h-3.5zM696.5 684h3.5v3.5h-3.5z"/>
<path fill="#555555" d="M717.5 582.5h3.5v3.5h-3.5zM700 586h3.5v3.5h-3.5zM700 589.5h3.5v3.5h-3.5zM717.5 589.5h3.5v3.5h-3.5zM724.5 589.5h3.5v3.5h-3.5zM689.5 596.5h3.5v3.5h-3.5zM728 596.5h3.5v3.5h-3.5zM696.5 600h3.5v3.5h-3.5zM724.5 600h3.5v3.5h-3.5zM693 607h3.5v3.5h-3.5zM703.5 607h3.5v3.5h-3.5zM721 607h3.5v3.5h-3.5zM689.5 610.5h7v3.5h-7zM714 610.5h3.5v3.5h-3.5zM710.5 617.5h3.5v3.5h-3.5z"/>
<path fill="#404040" d="M703.5 589.5h10.5v3.5h-10.5zM724.5 593h3.5v3.5h-3.5zM693 603.5h3.5v3.5h-3.5zM721 603.5h3.5v3.5h-3.5z"/>
<path fill="#2a2a2a" d="M714 589.5h3.5v3.5h-3.5zM693 596.5h3.5v3.5h-3.5zM700 596.5h3.5v3.5h-3.5zM721 596.5h7v3.5h-7zM693 600h3.5v3.5h-3.5zM700 600h3.5v3.5h-3.5zM700 603.5h3.5v3.5h-3.5zM717.5 603.5h3.5v3.5h-3.5zM696.5 607h7v3.5h-7zM707 607h3.5v3.5h-3.5zM700 610.5h3.5v3.5h-3.5zM707 610.5h3.5v3.5h-3.5z"/>
<path fill="#151515" d="M717.5 586h3.5v3.5h-3.5zM721 589.5h3.5v3.5h-3.5zM700 593h7v3.5h-7zM710.5 593h14v3.5h-14zM696.5 596.5h3.5v3.5h-3.5zM714 596.5h7v3.5h-7zM710.5 600h14v3.5h-14zM707 603.5h10.5v3.5h-10.5zM710.5 607h3.5v3.5h-3.5zM703.5 610.5h3.5v3.5h-3.5z"/>
<path fill="#000000" d="M707 593h3.5v3.5h-3.5zM703.5 596.5h10.5v3.5h-10.5zM703.5 600h7v3.5h-7zM703.5 603.5h3.5v3.5h-3.5z"/>
</g>
<rect x="637" y="523" width="332" height="334" fill="none" stroke="#b4b4b4" stroke-width="4"/>
<line x1="743" y1="523" x2="743" y2="857" stroke="#8c8c8c" stroke-width="4"/>
<line x1="637" y1="722" x2="969" y2="722" stroke="#c8c8c8" stroke-width="5"/>
<text x="639.5" y="873.2" font-size="16" fill="#a8a8a8" textLength="35.5" lengthAdjust="spacingAndGlyphs">10⁰</text>
<text x="722.1" y="873.2" font-size="16" fill="#a8a8a8" textLength="34.5" lengthAdjust="spacingAndGlyphs">10¹</text>
<text x="805.1" y="873.2" font-size="16" fill="#a8a8a8" textLength="34.5" lengthAdjust="spacingAndGlyphs">10²</text>
<text x="888.1" y="873.2" font-size="16" fill="#a8a8a8" textLength="34.5" lengthAdjust="spacingAndGlyphs">10³</text>
<text x="971.2" y="873.2" font-size="16" fill="#a8a8a8" textLength="35" lengthAdjust="spacingAndGlyphs">10⁴</text>
<text x="795.8" y="895" font-size="16" fill="#b0b0b0">FL1-H</text>
<text transform="translate(628.7 854.5) rotate(-90) scale(1.1905 1.5845)" font-size="16" fill="#a8a8a8">10⁰</text>
<text transform="translate(628.7 771.4) rotate(-90) scale(1.4925 1.5845)" font-size="16" fill="#a8a8a8">10¹</text>
<text transform="translate(628.7 687.9) rotate(-90) scale(1.4925 1.5845)" font-size="16" fill="#a8a8a8">10²</text>
<text transform="translate(628.7 604.4) rotate(-90) scale(1.4925 1.5845)" font-size="16" fill="#a8a8a8">10³</text>
<text transform="translate(628.7 520.8) rotate(-90) scale(1.4184 1.5845)" font-size="16" fill="#a8a8a8">10⁴</text>
<text transform="translate(614 724.9) rotate(-90) scale(1.5029 1.6071)" font-size="16" fill="#b0b0b0">FL2-H</text>
<text x="648.8" y="579.5" font-size="48" stroke="#000" stroke-width="0.5" textLength="105.7" lengthAdjust="spacingAndGlyphs">57.8</text>
<text x="863.8" y="579.5" font-size="48" stroke="#000" stroke-width="0.5">18.7</text>
<text x="647" y="840" font-size="48" stroke="#000" stroke-width="0.5" textLength="96.2" lengthAdjust="spacingAndGlyphs">14.1</text>
<text x="889.7" y="839.5" font-size="48" stroke="#000" stroke-width="0.5">9.4</text>
<text x="199.4" y="115.8" font-size="54.5" stroke="#000" stroke-width="0.5" textLength="253.1" lengthAdjust="spacingAndGlyphs">Untreated</text>
<text x="669.4" y="115.8" font-size="54.5" stroke="#000" stroke-width="0.5" textLength="251.1" lengthAdjust="spacingAndGlyphs">Untreated</text>
<text x="237.9" y="525" font-size="54.5" stroke="#000" stroke-width="0.5" textLength="176.7" lengthAdjust="spacingAndGlyphs">T/I, 6 h</text>
<text x="715.9" y="520" font-size="54.5" stroke="#000" stroke-width="0.5" textLength="172.5" lengthAdjust="spacingAndGlyphs">T/I, 6 h</text>
<rect x="108.5" y="150" width="9" height="383" fill="#808080"/>
<rect x="108.5" y="533" width="9" height="202" fill="#333"/>
<path d="M113 122L98 151L128 151Z" fill="#000"/>
<rect x="579.5" y="139" width="9" height="56" fill="#222"/>
<rect x="579.5" y="195" width="9" height="368" fill="#808080"/>
<rect x="579.5" y="563" width="9" height="160" fill="#333"/>
<path d="M584 103L569 140L599 140Z" fill="#000"/>
<rect x="300" y="915.5" width="176" height="9" fill="#808080"/>
<path d="M509 920L475 905L475 935Z" fill="#000"/>
<rect x="777" y="916.5" width="174" height="9" fill="#808080"/>
<path d="M984 921L950 906L950 936Z" fill="#000"/>
<text transform="translate(143.4 861.8) rotate(-90) scale(1.0045 1.1318)" font-size="56" fill="#000" stroke="#000" stroke-width="0.4">CD4</text>
<text transform="translate(609.4 861.9) rotate(-90) scale(1.0338 1.1066)" font-size="56" fill="#000" stroke="#000" stroke-width="0.5">CD8</text>
<text x="162" y="935" font-size="56" stroke="#000" stroke-width="0.5">IFN-γ</text>
<text x="627.9" y="935" font-size="56" stroke="#000" stroke-width="0.5" textLength="138.3" lengthAdjust="spacingAndGlyphs">IFN-γ</text>
<g filter="url(#bl)">
<path fill="#d4d4d4" d="M1758 151h3.5v3.5h-3.5zM1642.5 161.5h3.5v3.5h-3.5zM1933 175.5h3.5v3.5h-3.5zM1674 189.5h3.5v3.5h-3.5zM1726.5 200h3.5v3.5h-3.5zM1814 200h3.5v3.5h-3.5zM1908.5 200h3.5v3.5h-3.5zM1873.5 203.5h3.5v3.5h-3.5zM1719.5 207h3.5v3.5h-3.5zM1908.5 207h3.5v3.5h-3.5zM1866.5 210.5h3.5v3.5h-3.5zM1880.5 214h3.5v3.5h-3.5zM1870 217.5h3.5v3.5h-3.5zM1856 221h3.5v3.5h-3.5zM1880.5 221h3.5v3.5h-3.5zM1898 221h3.5v3.5h-3.5zM1821 224.5h3.5v3.5h-3.5zM1845.5 224.5h3.5v3.5h-3.5zM1852.5 224.5h10.5v3.5h-10.5zM1866.5 224.5h3.5v3.5h-3.5zM1695 228h3.5v3.5h-3.5zM1786 228h3.5v3.5h-3.5zM1845.5 228h7v3.5h-7zM1852.5 231.5h7v3.5h-7zM1863 231.5h3.5v3.5h-3.5zM1870 231.5h3.5v3.5h-3.5zM1880.5 231.5h3.5v3.5h-3.5zM1695 235h3.5v3.5h-3.5zM1807 235h3.5v3.5h-3.5zM1828 235h3.5v3.5h-3.5zM1842 235h7v3.5h-7zM1856 235h3.5v3.5h-3.5zM1863 235h3.5v3.5h-3.5zM1887.5 235h3.5v3.5h-3.5zM1919 235h3.5v3.5h-3.5zM1950.5 235h3.5v3.5h-3.5zM1642.5 238.5h3.5v3.5h-3.5zM1670.5 238.5h3.5v3.5h-3.5zM1709 238.5h3.5v3.5h-3.5zM1828 238.5h7v3.5h-7zM1842 238.5h3.5v3.5h-3.5zM1852.5 238.5h3.5v3.5h-3.5zM1870 238.5h7v3.5h-7zM1691.5 242h3.5v3.5h-3.5zM1740.5 242h3.5v3.5h-3.5zM1754.5 242h3.5v3.5h-3.5zM1817.5 242h3.5v3.5h-3.5zM1831.5 242h7v3.5h-7zM1856 242h3.5v3.5h-3.5zM1863 242h7v3.5h-7zM1646 245.5h3.5v3.5h-3.5zM1656.5 245.5h3.5v3.5h-3.5zM1667 245.5h3.5v3.5h-3.5zM1674 245.5h3.5v3.5h-3.5zM1688 245.5h3.5v3.5h-3.5zM1775.5 245.5h3.5v3.5h-3.5zM1831.5 245.5h7v3.5h-7zM1842 245.5h3.5v3.5h-3.5zM1646 249h3.5v3.5h-3.5zM1667 249h3.5v3.5h-3.5zM1674 249h14v3.5h-14zM1691.5 249h3.5v3.5h-3.5zM1723 249h3.5v3.5h-3.5zM1730 249h3.5v3.5h-3.5zM1796.5 249h3.5v3.5h-3.5zM1810.5 249h3.5v3.5h-3.5zM1852.5 249h3.5v3.5h-3.5zM1653 252.5h7v3.5h-7zM1688 252.5h3.5v3.5h-3.5zM1698.5 252.5h14v3.5h-14zM1716 252.5h3.5v3.5h-3.5zM1733.5 252.5h3.5v3.5h-3.5zM1744 252.5h3.5v3.5h-3.5zM1775.5 252.5h3.5v3.5h-3.5zM1807 252.5h7v3.5h-7zM1817.5 252.5h3.5v3.5h-3.5zM1856 252.5h3.5v3.5h-3.5zM1866.5 252.5h3.5v3.5h-3.5zM1873.5 252.5h3.5v3.5h-3.5zM1649.5 256h3.5v3.5h-3.5zM1677.5 256h3.5v3.5h-3.5zM1684.5 256h10.5v3.5h-10.5zM1702 256h3.5v3.5h-3.5zM1712.5 256h3.5v3.5h-3.5zM1723 256h3.5v3.5h-3.5zM1754.5 256h3.5v3.5h-3.5zM1761.5 256h3.5v3.5h-3.5zM1779 256h7v3.5h-7zM1800 256h3.5v3.5h-3.5zM1807 256h7v3.5h-7zM1646 259.5h3.5v3.5h-3.5zM1691.5 259.5h3.5v3.5h-3.5zM1698.5 259.5h3.5v3.5h-3.5zM1733.5 259.5h7v3.5h-7zM1754.5 259.5h3.5v3.5h-3.5zM1796.5 259.5h3.5v3.5h-3.5zM1803.5 259.5h3.5v3.5h-3.5zM1856 259.5h3.5v3.5h-3.5zM1674 263h3.5v3.5h-3.5zM1681 263h7v3.5h-7zM1698.5 263h14v3.5h-14zM1719.5 263h7v3.5h-7zM1740.5 263h7v3.5h-7zM1751 263h3.5v3.5h-3.5zM1768.5 263h3.5v3.5h-3.5zM1782.5 263h7v3.5h-7zM1793 263h3.5v3.5h-3.5zM1800 263h3.5v3.5h-3.5zM1852.5 263h3.5v3.5h-3.5zM1642.5 266.5h3.5v3.5h-3.5zM1656.5 266.5h3.5v3.5h-3.5zM1691.5 266.5h3.5v3.5h-3.5zM1702 266.5h3.5v3.5h-3.5zM1716 266.5h3.5v3.5h-3.5zM1723 266.5h3.5v3.5h-3.5zM1758 266.5h7v3.5h-7zM1793 266.5h3.5v3.5h-3.5zM1845.5 266.5h7v3.5h-7zM1642.5 270h3.5v3.5h-3.5zM1653 270h10.5v3.5h-10.5zM1667 270h3.5v3.5h-3.5zM1677.5 270h3.5v3.5h-3.5zM1691.5 270h3.5v3.5h-3.5zM1705.5 270h3.5v3.5h-3.5zM1712.5 270h7v3.5h-7zM1723 270h3.5v3.5h-3.5zM1768.5 270h3.5v3.5h-3.5zM1800 270h3.5v3.5h-3.5zM1856 270h7v3.5h-7zM1649.5 273.5h10.5v3.5h-10.5zM1730 273.5h3.5v3.5h-3.5zM1765 273.5h3.5v3.5h-3.5zM1793 273.5h3.5v3.5h-3.5zM1688 277h10.5v3.5h-10.5zM1712.5 277h3.5v3.5h-3.5zM1719.5 277h3.5v3.5h-3.5zM1726.5 277h3.5v3.5h-3.5zM1733.5 277h10.5v3.5h-10.5zM1779 277h3.5v3.5h-3.5zM1831.5 277h3.5v3.5h-3.5zM1845.5 277h3.5v3.5h-3.5zM1684.5 280.5h7v3.5h-7zM1705.5 280.5h3.5v3.5h-3.5zM1726.5 280.5h3.5v3.5h-3.5zM1737 280.5h3.5v3.5h-3.5zM1758 280.5h3.5v3.5h-3.5zM1786 280.5h7v3.5h-7zM1796.5 280.5h3.5v3.5h-3.5zM1838.5 280.5h3.5v3.5h-3.5zM1688 284h3.5v3.5h-3.5zM1698.5 284h3.5v3.5h-3.5zM1730 284h3.5v3.5h-3.5zM1744 284h3.5v3.5h-3.5zM1751 284h3.5v3.5h-3.5zM1758 284h3.5v3.5h-3.5zM1796.5 284h3.5v3.5h-3.5zM1835 284h7v3.5h-7zM1716 287.5h3.5v3.5h-3.5zM1740.5 287.5h3.5v3.5h-3.5zM1775.5 287.5h3.5v3.5h-3.5zM1782.5 287.5h3.5v3.5h-3.5zM1800 287.5h3.5v3.5h-3.5zM1835 287.5h3.5v3.5h-3.5zM1915.5 287.5h3.5v3.5h-3.5zM1709 291h3.5v3.5h-3.5zM1719.5 291h3.5v3.5h-3.5zM1789.5 291h3.5v3.5h-3.5zM1796.5 291h10.5v3.5h-10.5zM1814 291h3.5v3.5h-3.5zM1821 291h3.5v3.5h-3.5zM1828 291h3.5v3.5h-3.5zM1698.5 294.5h3.5v3.5h-3.5zM1712.5 294.5h3.5v3.5h-3.5zM1723 294.5h10.5v3.5h-10.5zM1737 294.5h3.5v3.5h-3.5zM1754.5 294.5h3.5v3.5h-3.5zM1765 294.5h3.5v3.5h-3.5zM1807 294.5h3.5v3.5h-3.5zM1817.5 294.5h7v3.5h-7zM1656.5 298h3.5v3.5h-3.5zM1681 298h3.5v3.5h-3.5zM1695 298h3.5v3.5h-3.5zM1705.5 298h3.5v3.5h-3.5zM1712.5 298h3.5v3.5h-3.5zM1761.5 298h3.5v3.5h-3.5zM1779 298h3.5v3.5h-3.5zM1800 298h3.5v3.5h-3.5zM1814 298h3.5v3.5h-3.5zM1691.5 301.5h3.5v3.5h-3.5zM1709 301.5h3.5v3.5h-3.5zM1726.5 301.5h3.5v3.5h-3.5zM1737 301.5h3.5v3.5h-3.5zM1744 301.5h3.5v3.5h-3.5zM1758 301.5h10.5v3.5h-10.5zM1803.5 301.5h3.5v3.5h-3.5zM1894.5 301.5h3.5v3.5h-3.5zM1674 305h3.5v3.5h-3.5zM1698.5 305h7v3.5h-7zM1712.5 305h3.5v3.5h-3.5zM1737 305h10.5v3.5h-10.5zM1758 305h3.5v3.5h-3.5zM1775.5 305h3.5v3.5h-3.5zM1786 305h3.5v3.5h-3.5zM1835 305h3.5v3.5h-3.5zM1667 308.5h3.5v3.5h-3.5zM1719.5 308.5h3.5v3.5h-3.5zM1747.5 308.5h3.5v3.5h-3.5zM1758 308.5h3.5v3.5h-3.5zM1786 308.5h7v3.5h-7zM1796.5 308.5h7v3.5h-7zM1842 308.5h3.5v3.5h-3.5zM1912 308.5h3.5v3.5h-3.5zM1670.5 312h3.5v3.5h-3.5zM1716 312h3.5v3.5h-3.5zM1726.5 312h3.5v3.5h-3.5zM1747.5 312h7v3.5h-7zM1758 312h3.5v3.5h-3.5zM1765 312h7v3.5h-7zM1786 312h3.5v3.5h-3.5zM1712.5 315.5h14v3.5h-14zM1737 315.5h3.5v3.5h-3.5zM1751 315.5h10.5v3.5h-10.5zM1779 315.5h3.5v3.5h-3.5zM1786 315.5h3.5v3.5h-3.5zM1831.5 315.5h3.5v3.5h-3.5zM1866.5 315.5h3.5v3.5h-3.5zM1660 319h3.5v3.5h-3.5zM1688 319h3.5v3.5h-3.5zM1702 319h3.5v3.5h-3.5zM1733.5 319h3.5v3.5h-3.5zM1740.5 319h3.5v3.5h-3.5zM1765 319h3.5v3.5h-3.5zM1789.5 319h3.5v3.5h-3.5zM1814 319h3.5v3.5h-3.5zM1667 322.5h3.5v3.5h-3.5zM1730 322.5h3.5v3.5h-3.5zM1740.5 322.5h3.5v3.5h-3.5zM1747.5 322.5h3.5v3.5h-3.5zM1758 322.5h14v3.5h-14zM1779 322.5h3.5v3.5h-3.5zM1814 322.5h3.5v3.5h-3.5zM1849 322.5h3.5v3.5h-3.5zM1870 322.5h3.5v3.5h-3.5zM1663.5 326h3.5v3.5h-3.5zM1709 326h3.5v3.5h-3.5zM1716 326h3.5v3.5h-3.5zM1744 326h7v3.5h-7zM1754.5 326h3.5v3.5h-3.5zM1761.5 326h7v3.5h-7zM1779 326h3.5v3.5h-3.5zM1807 326h3.5v3.5h-3.5zM1828 326h7v3.5h-7zM1908.5 326h3.5v3.5h-3.5zM1670.5 329.5h3.5v3.5h-3.5zM1712.5 329.5h3.5v3.5h-3.5zM1719.5 329.5h7v3.5h-7zM1733.5 329.5h7v3.5h-7zM1751 329.5h3.5v3.5h-3.5zM1758 329.5h3.5v3.5h-3.5zM1772 329.5h3.5v3.5h-3.5zM1807 329.5h3.5v3.5h-3.5zM1695 333h7v3.5h-7zM1705.5 333h3.5v3.5h-3.5zM1723 333h3.5v3.5h-3.5zM1730 333h3.5v3.5h-3.5zM1751 333h3.5v3.5h-3.5zM1758 333h3.5v3.5h-3.5zM1670.5 336.5h10.5v3.5h-10.5zM1705.5 336.5h3.5v3.5h-3.5zM1712.5 336.5h3.5v3.5h-3.5zM1733.5 336.5h3.5v3.5h-3.5zM1740.5 336.5h3.5v3.5h-3.5zM1747.5 336.5h7v3.5h-7zM1758 336.5h10.5v3.5h-10.5zM1817.5 336.5h3.5v3.5h-3.5zM1838.5 336.5h3.5v3.5h-3.5zM1877 336.5h3.5v3.5h-3.5zM1674 340h3.5v3.5h-3.5zM1681 340h3.5v3.5h-3.5zM1695 340h3.5v3.5h-3.5zM1744 340h3.5v3.5h-3.5zM1758 340h3.5v3.5h-3.5zM1688 343.5h3.5v3.5h-3.5zM1705.5 343.5h3.5v3.5h-3.5zM1726.5 343.5h3.5v3.5h-3.5zM1733.5 343.5h3.5v3.5h-3.5zM1740.5 343.5h3.5v3.5h-3.5zM1747.5 343.5h3.5v3.5h-3.5zM1677.5 347h3.5v3.5h-3.5zM1688 347h3.5v3.5h-3.5zM1695 347h3.5v3.5h-3.5zM1744 347h7v3.5h-7zM1754.5 347h3.5v3.5h-3.5zM1814 347h3.5v3.5h-3.5zM1705.5 350.5h7v3.5h-7zM1737 350.5h3.5v3.5h-3.5zM1747.5 350.5h7v3.5h-7zM1758 350.5h10.5v3.5h-10.5zM1772 350.5h3.5v3.5h-3.5zM1786 350.5h3.5v3.5h-3.5zM1807 350.5h3.5v3.5h-3.5zM1681 354h3.5v3.5h-3.5zM1698.5 354h3.5v3.5h-3.5zM1719.5 354h3.5v3.5h-3.5zM1733.5 354h3.5v3.5h-3.5zM1740.5 354h3.5v3.5h-3.5zM1747.5 354h3.5v3.5h-3.5zM1758 354h3.5v3.5h-3.5zM1772 354h3.5v3.5h-3.5zM1782.5 354h3.5v3.5h-3.5zM1789.5 354h7v3.5h-7zM1814 354h3.5v3.5h-3.5zM1835 354h3.5v3.5h-3.5zM1842 354h3.5v3.5h-3.5zM1656.5 357.5h3.5v3.5h-3.5zM1702 357.5h10.5v3.5h-10.5zM1716 357.5h7v3.5h-7zM1730 357.5h7v3.5h-7zM1740.5 357.5h3.5v3.5h-3.5zM1754.5 357.5h3.5v3.5h-3.5zM1775.5 357.5h3.5v3.5h-3.5zM1814 357.5h7v3.5h-7zM1852.5 357.5h3.5v3.5h-3.5zM1674 361h7v3.5h-7zM1695 361h3.5v3.5h-3.5zM1705.5 361h3.5v3.5h-3.5zM1723 361h3.5v3.5h-3.5zM1730 361h3.5v3.5h-3.5zM1737 361h7v3.5h-7zM1747.5 361h3.5v3.5h-3.5zM1782.5 361h3.5v3.5h-3.5zM1796.5 361h3.5v3.5h-3.5zM1831.5 361h3.5v3.5h-3.5zM1691.5 364.5h3.5v3.5h-3.5zM1709 364.5h3.5v3.5h-3.5zM1719.5 364.5h3.5v3.5h-3.5zM1751 364.5h3.5v3.5h-3.5zM1761.5 364.5h3.5v3.5h-3.5zM1768.5 364.5h3.5v3.5h-3.5zM1779 364.5h3.5v3.5h-3.5zM1810.5 364.5h3.5v3.5h-3.5zM1835 364.5h3.5v3.5h-3.5zM1709 368h3.5v3.5h-3.5zM1719.5 368h3.5v3.5h-3.5zM1751 368h3.5v3.5h-3.5zM1800 368h3.5v3.5h-3.5zM1810.5 368h3.5v3.5h-3.5zM1660 371.5h3.5v3.5h-3.5zM1698.5 371.5h7v3.5h-7zM1723 371.5h3.5v3.5h-3.5zM1747.5 371.5h3.5v3.5h-3.5zM1793 371.5h3.5v3.5h-3.5zM1670.5 375h3.5v3.5h-3.5zM1691.5 375h3.5v3.5h-3.5zM1702 375h3.5v3.5h-3.5zM1782.5 375h3.5v3.5h-3.5zM1793 375h3.5v3.5h-3.5zM1803.5 375h3.5v3.5h-3.5zM1810.5 375h3.5v3.5h-3.5zM1681 378.5h3.5v3.5h-3.5zM1691.5 378.5h7v3.5h-7zM1716 378.5h7v3.5h-7zM1779 378.5h3.5v3.5h-3.5zM1835 378.5h3.5v3.5h-3.5zM1681 382h3.5v3.5h-3.5zM1709 382h3.5v3.5h-3.5zM1768.5 382h3.5v3.5h-3.5zM1653 385.5h3.5v3.5h-3.5zM1688 385.5h3.5v3.5h-3.5zM1730 385.5h3.5v3.5h-3.5zM1768.5 385.5h3.5v3.5h-3.5zM1789.5 385.5h3.5v3.5h-3.5zM1800 385.5h3.5v3.5h-3.5zM1681 389h3.5v3.5h-3.5zM1730 389h3.5v3.5h-3.5zM1817.5 389h3.5v3.5h-3.5zM1831.5 389h3.5v3.5h-3.5zM1849 389h3.5v3.5h-3.5zM1670.5 392.5h3.5v3.5h-3.5zM1698.5 392.5h3.5v3.5h-3.5zM1705.5 392.5h7v3.5h-7zM1726.5 392.5h3.5v3.5h-3.5zM1733.5 392.5h3.5v3.5h-3.5zM1747.5 392.5h3.5v3.5h-3.5zM1768.5 392.5h3.5v3.5h-3.5zM1796.5 392.5h3.5v3.5h-3.5zM1838.5 392.5h3.5v3.5h-3.5zM1660 396h3.5v3.5h-3.5zM1712.5 396h3.5v3.5h-3.5zM1719.5 396h3.5v3.5h-3.5zM1740.5 396h3.5v3.5h-3.5zM1814 396h3.5v3.5h-3.5zM1821 396h3.5v3.5h-3.5zM1800 399.5h3.5v3.5h-3.5zM1828 399.5h7v3.5h-7zM1849 399.5h3.5v3.5h-3.5zM1856 399.5h7v3.5h-7zM1870 399.5h3.5v3.5h-3.5zM1751 403h3.5v3.5h-3.5zM1695 406.5h3.5v3.5h-3.5zM1716 406.5h3.5v3.5h-3.5zM1730 406.5h3.5v3.5h-3.5zM1803.5 406.5h3.5v3.5h-3.5zM1817.5 406.5h3.5v3.5h-3.5zM1845.5 406.5h3.5v3.5h-3.5zM1712.5 410h3.5v3.5h-3.5zM1733.5 410h3.5v3.5h-3.5zM1814 410h3.5v3.5h-3.5zM1831.5 410h10.5v3.5h-10.5zM1856 410h3.5v3.5h-3.5zM1670.5 413.5h3.5v3.5h-3.5zM1817.5 413.5h7v3.5h-7zM1835 413.5h3.5v3.5h-3.5zM1649.5 417h3.5v3.5h-3.5zM1831.5 420.5h3.5v3.5h-3.5zM1674 424h3.5v3.5h-3.5zM1782.5 424h3.5v3.5h-3.5zM1828 424h3.5v3.5h-3.5zM1842 424h3.5v3.5h-3.5zM1824.5 427.5h3.5v3.5h-3.5zM1695 431h3.5v3.5h-3.5zM1723 431h3.5v3.5h-3.5zM1810.5 431h3.5v3.5h-3.5zM1747.5 438h3.5v3.5h-3.5zM1838.5 441.5h3.5v3.5h-3.5zM1863 441.5h3.5v3.5h-3.5zM1656.5 445h3.5v3.5h-3.5zM1873.5 448.5h3.5v3.5h-3.5zM1821 452h3.5v3.5h-3.5zM1828 452h3.5v3.5h-3.5zM1884 452h3.5v3.5h-3.5z"/>
<path fill="#bfbfbf" d="M1870 224.5h3.5v3.5h-3.5zM1831.5 228h3.5v3.5h-3.5zM1842 228h3.5v3.5h-3.5zM1866.5 228h3.5v3.5h-3.5zM1849 235h3.5v3.5h-3.5zM1814 238.5h3.5v3.5h-3.5zM1835 238.5h3.5v3.5h-3.5zM1866.5 238.5h3.5v3.5h-3.5zM1887.5 238.5h3.5v3.5h-3.5zM1842 242h14v3.5h-14zM1859.5 242h3.5v3.5h-3.5zM1681 245.5h3.5v3.5h-3.5zM1695 245.5h3.5v3.5h-3.5zM1845.5 245.5h3.5v3.5h-3.5zM1852.5 245.5h7v3.5h-7zM1863 245.5h3.5v3.5h-3.5zM1649.5 249h3.5v3.5h-3.5zM1695 249h3.5v3.5h-3.5zM1814 249h14v3.5h-14zM1842 249h3.5v3.5h-3.5zM1866.5 249h3.5v3.5h-3.5zM1649.5 252.5h3.5v3.5h-3.5zM1674 252.5h7v3.5h-7zM1684.5 252.5h3.5v3.5h-3.5zM1691.5 252.5h3.5v3.5h-3.5zM1719.5 252.5h3.5v3.5h-3.5zM1845.5 252.5h3.5v3.5h-3.5zM1852.5 252.5h3.5v3.5h-3.5zM1646 256h3.5v3.5h-3.5zM1660 256h3.5v3.5h-3.5zM1670.5 256h7v3.5h-7zM1705.5 256h7v3.5h-7zM1716 256h7v3.5h-7zM1733.5 256h3.5v3.5h-3.5zM1863 256h3.5v3.5h-3.5zM1642.5 259.5h3.5v3.5h-3.5zM1656.5 259.5h3.5v3.5h-3.5zM1663.5 259.5h3.5v3.5h-3.5zM1695 259.5h3.5v3.5h-3.5zM1702 259.5h7v3.5h-7zM1716 259.5h3.5v3.5h-3.5zM1810.5 259.5h3.5v3.5h-3.5zM1845.5 259.5h7v3.5h-7zM1873.5 259.5h3.5v3.5h-3.5zM1642.5 263h7v3.5h-7zM1653 263h3.5v3.5h-3.5zM1691.5 263h3.5v3.5h-3.5zM1733.5 263h3.5v3.5h-3.5zM1803.5 263h3.5v3.5h-3.5zM1660 266.5h3.5v3.5h-3.5zM1677.5 266.5h7v3.5h-7zM1719.5 266.5h3.5v3.5h-3.5zM1674 270h3.5v3.5h-3.5zM1702 270h3.5v3.5h-3.5zM1740.5 270h3.5v3.5h-3.5zM1782.5 270h3.5v3.5h-3.5zM1667 273.5h3.5v3.5h-3.5zM1800 273.5h3.5v3.5h-3.5zM1838.5 273.5h7v3.5h-7zM1684.5 277h3.5v3.5h-3.5zM1835 277h7v3.5h-7zM1793 284h3.5v3.5h-3.5zM1828 284h3.5v3.5h-3.5zM1695 287.5h3.5v3.5h-3.5zM1803.5 287.5h3.5v3.5h-3.5zM1814 287.5h7v3.5h-7zM1824.5 287.5h7v3.5h-7zM1810.5 291h3.5v3.5h-3.5zM1817.5 291h3.5v3.5h-3.5zM1775.5 294.5h3.5v3.5h-3.5zM1800 301.5h3.5v3.5h-3.5zM1807 301.5h3.5v3.5h-3.5zM1761.5 305h3.5v3.5h-3.5zM1698.5 312h3.5v3.5h-3.5zM1740.5 312h3.5v3.5h-3.5zM1772 312h3.5v3.5h-3.5zM1765 315.5h3.5v3.5h-3.5zM1719.5 319h3.5v3.5h-3.5zM1747.5 319h3.5v3.5h-3.5zM1702 322.5h3.5v3.5h-3.5zM1835 322.5h3.5v3.5h-3.5zM1737 326h3.5v3.5h-3.5zM1782.5 326h3.5v3.5h-3.5zM1684.5 329.5h3.5v3.5h-3.5zM1726.5 333h3.5v3.5h-3.5zM1747.5 333h3.5v3.5h-3.5zM1737 336.5h3.5v3.5h-3.5zM1768.5 336.5h3.5v3.5h-3.5zM1845.5 336.5h3.5v3.5h-3.5zM1695 343.5h7v3.5h-7zM1726.5 354h3.5v3.5h-3.5zM1695 357.5h3.5v3.5h-3.5zM1667 364.5h3.5v3.5h-3.5zM1695 364.5h3.5v3.5h-3.5zM1716 368h3.5v3.5h-3.5zM1733.5 368h3.5v3.5h-3.5zM1877 368h3.5v3.5h-3.5zM1709 375h3.5v3.5h-3.5zM1821 378.5h3.5v3.5h-3.5zM1828 378.5h3.5v3.5h-3.5zM1754.5 385.5h3.5v3.5h-3.5zM1730 396h3.5v3.5h-3.5z"/>
<path fill="#959595" d="M1824.5 245.5h7v3.5h-7zM1849 245.5h3.5v3.5h-3.5zM1670.5 249h3.5v3.5h-3.5zM1688 249h3.5v3.5h-3.5zM1828 249h3.5v3.5h-3.5zM1838.5 249h3.5v3.5h-3.5zM1670.5 252.5h3.5v3.5h-3.5zM1695 252.5h3.5v3.5h-3.5zM1842 252.5h3.5v3.5h-3.5zM1849 252.5h3.5v3.5h-3.5zM1653 256h3.5v3.5h-3.5zM1663.5 256h3.5v3.5h-3.5zM1698.5 256h3.5v3.5h-3.5zM1845.5 256h3.5v3.5h-3.5zM1660 259.5h3.5v3.5h-3.5zM1740.5 259.5h3.5v3.5h-3.5zM1852.5 259.5h3.5v3.5h-3.5zM1649.5 263h3.5v3.5h-3.5zM1670.5 263h3.5v3.5h-3.5zM1695 263h3.5v3.5h-3.5zM1845.5 263h3.5v3.5h-3.5zM1663.5 266.5h7v3.5h-7zM1800 266.5h3.5v3.5h-3.5zM1796.5 270h3.5v3.5h-3.5zM1681 273.5h3.5v3.5h-3.5zM1695 273.5h3.5v3.5h-3.5zM1796.5 273.5h3.5v3.5h-3.5zM1796.5 277h3.5v3.5h-3.5zM1800 280.5h3.5v3.5h-3.5zM1817.5 284h3.5v3.5h-3.5zM1824.5 284h3.5v3.5h-3.5zM1810.5 287.5h3.5v3.5h-3.5zM1807 291h3.5v3.5h-3.5zM1814 294.5h3.5v3.5h-3.5zM1761.5 308.5h3.5v3.5h-3.5zM1744 312h3.5v3.5h-3.5zM1730 319h3.5v3.5h-3.5z"/>
<path fill="#808080" d="M1838.5 242h3.5v3.5h-3.5zM1845.5 249h3.5v3.5h-3.5zM1681 252.5h3.5v3.5h-3.5zM1821 252.5h3.5v3.5h-3.5zM1838.5 252.5h3.5v3.5h-3.5zM1656.5 256h3.5v3.5h-3.5zM1667 256h3.5v3.5h-3.5zM1859.5 256h3.5v3.5h-3.5zM1653 259.5h3.5v3.5h-3.5zM1674 259.5h3.5v3.5h-3.5zM1681 259.5h3.5v3.5h-3.5zM1842 259.5h3.5v3.5h-3.5zM1684.5 266.5h3.5v3.5h-3.5zM1695 266.5h3.5v3.5h-3.5zM1803.5 266.5h3.5v3.5h-3.5zM1845.5 270h3.5v3.5h-3.5zM1835 273.5h3.5v3.5h-3.5zM1800 277h7v3.5h-7zM1831.5 280.5h3.5v3.5h-3.5zM1803.5 284h3.5v3.5h-3.5zM1807 287.5h3.5v3.5h-3.5z"/>
<path fill="#6a6a6a" d="M1863 238.5h3.5v3.5h-3.5zM1831.5 249h3.5v3.5h-3.5zM1681 256h3.5v3.5h-3.5zM1695 256h3.5v3.5h-3.5zM1849 256h3.5v3.5h-3.5zM1684.5 259.5h3.5v3.5h-3.5zM1660 263h7v3.5h-7zM1688 263h3.5v3.5h-3.5zM1807 263h3.5v3.5h-3.5zM1674 266.5h3.5v3.5h-3.5zM1698.5 266.5h3.5v3.5h-3.5zM1838.5 266.5h3.5v3.5h-3.5zM1803.5 273.5h3.5v3.5h-3.5zM1807 280.5h3.5v3.5h-3.5z"/>
<path fill="#555555" d="M1838.5 245.5h3.5v3.5h-3.5zM1835 249h3.5v3.5h-3.5zM1824.5 252.5h7v3.5h-7zM1814 256h7v3.5h-7zM1828 256h3.5v3.5h-3.5zM1842 256h3.5v3.5h-3.5zM1670.5 259.5h3.5v3.5h-3.5zM1814 259.5h3.5v3.5h-3.5zM1667 263h3.5v3.5h-3.5zM1677.5 263h3.5v3.5h-3.5zM1838.5 263h7v3.5h-7zM1807 266.5h3.5v3.5h-3.5zM1842 266.5h3.5v3.5h-3.5zM1807 270h3.5v3.5h-3.5zM1838.5 270h3.5v3.5h-3.5zM1807 273.5h3.5v3.5h-3.5zM1828 273.5h3.5v3.5h-3.5zM1828 277h3.5v3.5h-3.5zM1803.5 280.5h3.5v3.5h-3.5zM1810.5 280.5h3.5v3.5h-3.5zM1824.5 280.5h3.5v3.5h-3.5zM1800 284h3.5v3.5h-3.5zM1810.5 284h7v3.5h-7zM1821 284h3.5v3.5h-3.5z"/>
<path fill="#404040" d="M1835 252.5h3.5v3.5h-3.5zM1838.5 256h3.5v3.5h-3.5zM1677.5 259.5h3.5v3.5h-3.5zM1803.5 270h3.5v3.5h-3.5zM1810.5 270h3.5v3.5h-3.5zM1835 270h3.5v3.5h-3.5zM1831.5 273.5h3.5v3.5h-3.5zM1807 277h3.5v3.5h-3.5zM1807 284h3.5v3.5h-3.5z"/>
<path fill="#2a2a2a" d="M1831.5 252.5h3.5v3.5h-3.5zM1824.5 256h3.5v3.5h-3.5zM1835 256h3.5v3.5h-3.5zM1817.5 259.5h3.5v3.5h-3.5zM1810.5 263h7v3.5h-7zM1835 266.5h3.5v3.5h-3.5zM1810.5 277h3.5v3.5h-3.5zM1824.5 277h3.5v3.5h-3.5zM1817.5 280.5h7v3.5h-7zM1828 280.5h3.5v3.5h-3.5z"/>
<path fill="#151515" d="M1821 256h3.5v3.5h-3.5zM1831.5 256h3.5v3.5h-3.5zM1821 259.5h7v3.5h-7zM1831.5 259.5h10.5v3.5h-10.5zM1817.5 263h3.5v3.5h-3.5zM1835 263h3.5v3.5h-3.5zM1810.5 266.5h7v3.5h-7zM1831.5 266.5h3.5v3.5h-3.5zM1814 270h7v3.5h-7zM1824.5 270h3.5v3.5h-3.5zM1831.5 270h3.5v3.5h-3.5zM1810.5 273.5h3.5v3.5h-3.5zM1824.5 273.5h3.5v3.5h-3.5zM1814 277h7v3.5h-7zM1814 280.5h3.5v3.5h-3.5z"/>
<path fill="#000000" d="M1828 259.5h3.5v3.5h-3.5zM1821 263h14v3.5h-14zM1817.5 266.5h14v3.5h-14zM1821 270h3.5v3.5h-3.5zM1828 270h3.5v3.5h-3.5zM1814 273.5h10.5v3.5h-10.5zM1821 277h3.5v3.5h-3.5z"/>
</g>
<rect x="1639" y="123" width="333" height="335" fill="none" stroke="#b4b4b4" stroke-width="4"/>
<line x1="1780" y1="123" x2="1780" y2="458" stroke="#8c8c8c" stroke-width="4"/>
<line x1="1639" y1="303" x2="1972" y2="303" stroke="#c8c8c8" stroke-width="5"/>
<text x="1641.5" y="474.2" font-size="16" fill="#a8a8a8" textLength="35.5" lengthAdjust="spacingAndGlyphs">10⁰</text>
<text x="1724.3" y="474.2" font-size="16" fill="#a8a8a8" textLength="34.5" lengthAdjust="spacingAndGlyphs">10¹</text>
<text x="1807.6" y="474.2" font-size="16" fill="#a8a8a8" textLength="34.5" lengthAdjust="spacingAndGlyphs">10²</text>
<text x="1890.8" y="474.2" font-size="16" fill="#a8a8a8" textLength="34.5" lengthAdjust="spacingAndGlyphs">10³</text>
<text x="1798.3" y="496" font-size="16" fill="#b0b0b0">FL1-H</text>
<text transform="translate(1630.7 455.5) rotate(-90) scale(1.1905 1.5845)" font-size="16" fill="#a8a8a8">10⁰</text>
<text transform="translate(1630.7 372.2) rotate(-90) scale(1.4925 1.5845)" font-size="16" fill="#a8a8a8">10¹</text>
<text transform="translate(1630.7 288.4) rotate(-90) scale(1.4925 1.5845)" font-size="16" fill="#a8a8a8">10²</text>
<text transform="translate(1630.7 204.7) rotate(-90) scale(1.4925 1.5845)" font-size="16" fill="#a8a8a8">10³</text>
<text transform="translate(1630.7 120.8) rotate(-90) scale(1.4184 1.5845)" font-size="16" fill="#a8a8a8">10⁴</text>
<text transform="translate(1616 325.4) rotate(-90) scale(1.5029 1.6071)" font-size="16" fill="#b0b0b0">FL2-H</text>
<text x="1649.4" y="175.5" font-size="48" stroke="#000" stroke-width="0.5" textLength="102.5" lengthAdjust="spacingAndGlyphs">24.0</text>
<text x="1868.8" y="175.5" font-size="48" stroke="#000" stroke-width="0.5">64.9</text>
<text x="1648.9" y="439.5" font-size="48" stroke="#000" stroke-width="0.5" textLength="71.6" lengthAdjust="spacingAndGlyphs">5.1</text>
<text x="1895.7" y="439.5" font-size="48" stroke="#000" stroke-width="0.5">5.9</text>
<g filter="url(#bl)">
<path fill="#d4d4d4" d="M2100.5 151h3.5v3.5h-3.5zM2093.5 172h3.5v3.5h-3.5zM2142.5 172h3.5v3.5h-3.5zM2044.5 179h3.5v3.5h-3.5zM2219.5 182.5h3.5v3.5h-3.5zM2254.5 182.5h3.5v3.5h-3.5zM2198.5 203.5h3.5v3.5h-3.5zM2244 210.5h3.5v3.5h-3.5zM2286 210.5h3.5v3.5h-3.5zM2258 214h3.5v3.5h-3.5zM2282.5 221h3.5v3.5h-3.5zM2293 221h3.5v3.5h-3.5zM2307 221h3.5v3.5h-3.5zM2114.5 235h3.5v3.5h-3.5zM2163.5 235h3.5v3.5h-3.5zM2170.5 242h3.5v3.5h-3.5zM2317.5 249h3.5v3.5h-3.5zM2191.5 263h3.5v3.5h-3.5zM2139 270h3.5v3.5h-3.5zM2191.5 270h3.5v3.5h-3.5zM2037.5 280.5h3.5v3.5h-3.5zM2090 280.5h3.5v3.5h-3.5zM2195 280.5h3.5v3.5h-3.5zM2212.5 280.5h3.5v3.5h-3.5zM2051.5 284h3.5v3.5h-3.5zM2086.5 284h3.5v3.5h-3.5zM2058.5 287.5h3.5v3.5h-3.5zM2079.5 287.5h3.5v3.5h-3.5zM2170.5 287.5h3.5v3.5h-3.5zM2195 287.5h3.5v3.5h-3.5zM2205.5 287.5h3.5v3.5h-3.5zM2037.5 291h3.5v3.5h-3.5zM2051.5 291h3.5v3.5h-3.5zM2062 291h3.5v3.5h-3.5zM2139 291h3.5v3.5h-3.5zM2177.5 291h3.5v3.5h-3.5zM2184.5 291h3.5v3.5h-3.5zM2023.5 294.5h3.5v3.5h-3.5zM2048 294.5h3.5v3.5h-3.5zM2062 294.5h3.5v3.5h-3.5zM2083 294.5h3.5v3.5h-3.5zM2149.5 294.5h3.5v3.5h-3.5zM2167 294.5h3.5v3.5h-3.5zM2181 294.5h3.5v3.5h-3.5zM2188 294.5h3.5v3.5h-3.5zM2202 294.5h10.5v3.5h-10.5zM2223 294.5h3.5v3.5h-3.5zM2048 298h3.5v3.5h-3.5zM2100.5 298h3.5v3.5h-3.5zM2146 298h3.5v3.5h-3.5zM2153 298h3.5v3.5h-3.5zM2167 298h3.5v3.5h-3.5zM2181 298h3.5v3.5h-3.5zM2209 298h3.5v3.5h-3.5zM2233.5 298h3.5v3.5h-3.5zM2037.5 301.5h10.5v3.5h-10.5zM2058.5 301.5h3.5v3.5h-3.5zM2069 301.5h3.5v3.5h-3.5zM2097 301.5h3.5v3.5h-3.5zM2118 301.5h3.5v3.5h-3.5zM2156.5 301.5h3.5v3.5h-3.5zM2163.5 301.5h7v3.5h-7zM2181 301.5h7v3.5h-7zM2191.5 301.5h3.5v3.5h-3.5zM2202 301.5h3.5v3.5h-3.5zM2223 301.5h3.5v3.5h-3.5zM2034 305h7v3.5h-7zM2048 305h3.5v3.5h-3.5zM2076 305h10.5v3.5h-10.5zM2097 305h7v3.5h-7zM2107.5 305h3.5v3.5h-3.5zM2132 305h3.5v3.5h-3.5zM2153 305h3.5v3.5h-3.5zM2167 305h3.5v3.5h-3.5zM2174 305h7v3.5h-7zM2184.5 305h3.5v3.5h-3.5zM2195 305h3.5v3.5h-3.5zM2237 305h3.5v3.5h-3.5zM2041 308.5h7v3.5h-7zM2051.5 308.5h3.5v3.5h-3.5zM2083 308.5h3.5v3.5h-3.5zM2093.5 308.5h10.5v3.5h-10.5zM2146 308.5h3.5v3.5h-3.5zM2156.5 308.5h3.5v3.5h-3.5zM2167 308.5h10.5v3.5h-10.5zM2181 308.5h7v3.5h-7zM2198.5 308.5h3.5v3.5h-3.5zM2205.5 308.5h3.5v3.5h-3.5zM2048 312h3.5v3.5h-3.5zM2062 312h3.5v3.5h-3.5zM2076 312h7v3.5h-7zM2097 312h7v3.5h-7zM2121.5 312h7v3.5h-7zM2142.5 312h3.5v3.5h-3.5zM2156.5 312h3.5v3.5h-3.5zM2167 312h3.5v3.5h-3.5zM2195 312h3.5v3.5h-3.5zM2209 312h3.5v3.5h-3.5zM2216 312h3.5v3.5h-3.5zM2226.5 312h7v3.5h-7zM2037.5 315.5h3.5v3.5h-3.5zM2058.5 315.5h7v3.5h-7zM2072.5 315.5h3.5v3.5h-3.5zM2079.5 315.5h3.5v3.5h-3.5zM2090 315.5h3.5v3.5h-3.5zM2104 315.5h3.5v3.5h-3.5zM2111 315.5h7v3.5h-7zM2146 315.5h3.5v3.5h-3.5zM2160 315.5h3.5v3.5h-3.5zM2167 315.5h3.5v3.5h-3.5zM2198.5 315.5h3.5v3.5h-3.5zM2223 315.5h10.5v3.5h-10.5zM2027 319h10.5v3.5h-10.5zM2044.5 319h10.5v3.5h-10.5zM2062 319h3.5v3.5h-3.5zM2072.5 319h7v3.5h-7zM2111 319h14v3.5h-14zM2142.5 319h3.5v3.5h-3.5zM2156.5 319h3.5v3.5h-3.5zM2167 319h3.5v3.5h-3.5zM2174 319h3.5v3.5h-3.5zM2198.5 319h7v3.5h-7zM2216 319h3.5v3.5h-3.5zM2233.5 319h3.5v3.5h-3.5zM2027 322.5h17.5v3.5h-17.5zM2048 322.5h7v3.5h-7zM2083 322.5h10.5v3.5h-10.5zM2100.5 322.5h7v3.5h-7zM2135.5 322.5h3.5v3.5h-3.5zM2153 322.5h3.5v3.5h-3.5zM2163.5 322.5h3.5v3.5h-3.5zM2202 322.5h3.5v3.5h-3.5zM2023.5 326h10.5v3.5h-10.5zM2041 326h3.5v3.5h-3.5zM2058.5 326h3.5v3.5h-3.5zM2090 326h7v3.5h-7zM2104 326h3.5v3.5h-3.5zM2111 326h10.5v3.5h-10.5zM2135.5 326h3.5v3.5h-3.5zM2146 326h7v3.5h-7zM2160 326h7v3.5h-7zM2198.5 326h10.5v3.5h-10.5zM2037.5 329.5h3.5v3.5h-3.5zM2044.5 329.5h3.5v3.5h-3.5zM2072.5 329.5h3.5v3.5h-3.5zM2079.5 329.5h3.5v3.5h-3.5zM2090 329.5h14v3.5h-14zM2114.5 329.5h7v3.5h-7zM2142.5 329.5h7v3.5h-7zM2153 329.5h3.5v3.5h-3.5zM2160 329.5h10.5v3.5h-10.5zM2198.5 329.5h3.5v3.5h-3.5zM2205.5 329.5h3.5v3.5h-3.5zM2216 329.5h3.5v3.5h-3.5zM2230 329.5h3.5v3.5h-3.5zM2321 329.5h3.5v3.5h-3.5zM2027 333h7v3.5h-7zM2037.5 333h3.5v3.5h-3.5zM2044.5 333h3.5v3.5h-3.5zM2055 333h3.5v3.5h-3.5zM2069 333h3.5v3.5h-3.5zM2086.5 333h3.5v3.5h-3.5zM2093.5 333h7v3.5h-7zM2107.5 333h3.5v3.5h-3.5zM2125 333h3.5v3.5h-3.5zM2139 333h7v3.5h-7zM2149.5 333h3.5v3.5h-3.5zM2160 333h3.5v3.5h-3.5zM2205.5 333h3.5v3.5h-3.5zM2244 333h3.5v3.5h-3.5zM2023.5 336.5h7v3.5h-7zM2041 336.5h3.5v3.5h-3.5zM2062 336.5h7v3.5h-7zM2083 336.5h3.5v3.5h-3.5zM2093.5 336.5h7v3.5h-7zM2104 336.5h3.5v3.5h-3.5zM2118 336.5h3.5v3.5h-3.5zM2125 336.5h7v3.5h-7zM2142.5 336.5h3.5v3.5h-3.5zM2153 336.5h3.5v3.5h-3.5zM2163.5 336.5h3.5v3.5h-3.5zM2205.5 336.5h7v3.5h-7zM2216 336.5h3.5v3.5h-3.5zM2027 340h3.5v3.5h-3.5zM2034 340h3.5v3.5h-3.5zM2044.5 340h3.5v3.5h-3.5zM2051.5 340h7v3.5h-7zM2062 340h3.5v3.5h-3.5zM2069 340h3.5v3.5h-3.5zM2083 340h3.5v3.5h-3.5zM2100.5 340h3.5v3.5h-3.5zM2114.5 340h3.5v3.5h-3.5zM2125 340h3.5v3.5h-3.5zM2132 340h7v3.5h-7zM2142.5 340h3.5v3.5h-3.5zM2156.5 340h3.5v3.5h-3.5zM2167 340h3.5v3.5h-3.5zM2205.5 340h3.5v3.5h-3.5zM2212.5 340h7v3.5h-7zM2233.5 340h3.5v3.5h-3.5zM2065.5 343.5h3.5v3.5h-3.5zM2090 343.5h24.5v3.5h-24.5zM2128.5 343.5h7v3.5h-7zM2142.5 343.5h3.5v3.5h-3.5zM2149.5 343.5h3.5v3.5h-3.5zM2167 343.5h3.5v3.5h-3.5zM2198.5 343.5h3.5v3.5h-3.5zM2216 343.5h3.5v3.5h-3.5zM2226.5 343.5h3.5v3.5h-3.5zM2023.5 347h3.5v3.5h-3.5zM2037.5 347h3.5v3.5h-3.5zM2055 347h3.5v3.5h-3.5zM2072.5 347h17.5v3.5h-17.5zM2093.5 347h3.5v3.5h-3.5zM2100.5 347h7v3.5h-7zM2128.5 347h7v3.5h-7zM2153 347h7v3.5h-7zM2163.5 347h10.5v3.5h-10.5zM2205.5 347h7v3.5h-7zM2216 347h7v3.5h-7zM2058.5 350.5h3.5v3.5h-3.5zM2086.5 350.5h7v3.5h-7zM2114.5 350.5h3.5v3.5h-3.5zM2135.5 350.5h7v3.5h-7zM2156.5 350.5h7v3.5h-7zM2202 350.5h3.5v3.5h-3.5zM2023.5 354h3.5v3.5h-3.5zM2069 354h7v3.5h-7zM2097 354h3.5v3.5h-3.5zM2111 354h3.5v3.5h-3.5zM2121.5 354h7v3.5h-7zM2149.5 354h3.5v3.5h-3.5zM2170.5 354h3.5v3.5h-3.5zM2205.5 354h3.5v3.5h-3.5zM2037.5 357.5h3.5v3.5h-3.5zM2097 357.5h3.5v3.5h-3.5zM2111 357.5h3.5v3.5h-3.5zM2167 357.5h3.5v3.5h-3.5zM2195 357.5h3.5v3.5h-3.5zM2202 357.5h3.5v3.5h-3.5zM2216 357.5h3.5v3.5h-3.5zM2223 357.5h3.5v3.5h-3.5zM2233.5 357.5h3.5v3.5h-3.5zM2111 361h3.5v3.5h-3.5zM2121.5 361h3.5v3.5h-3.5zM2128.5 361h3.5v3.5h-3.5zM2149.5 361h3.5v3.5h-3.5zM2156.5 361h10.5v3.5h-10.5zM2174 361h3.5v3.5h-3.5zM2202 361h7v3.5h-7zM2051.5 364.5h3.5v3.5h-3.5zM2093.5 364.5h3.5v3.5h-3.5zM2104 364.5h3.5v3.5h-3.5zM2114.5 364.5h3.5v3.5h-3.5zM2135.5 364.5h3.5v3.5h-3.5zM2146 364.5h7v3.5h-7zM2160 364.5h14v3.5h-14zM2188 364.5h3.5v3.5h-3.5zM2198.5 364.5h7v3.5h-7zM2212.5 364.5h3.5v3.5h-3.5zM2223 364.5h7v3.5h-7zM2247.5 364.5h3.5v3.5h-3.5zM2093.5 368h7v3.5h-7zM2111 368h3.5v3.5h-3.5zM2153 368h10.5v3.5h-10.5zM2177.5 368h3.5v3.5h-3.5zM2205.5 368h10.5v3.5h-10.5zM2223 368h7v3.5h-7zM2041 371.5h3.5v3.5h-3.5zM2090 371.5h3.5v3.5h-3.5zM2153 371.5h3.5v3.5h-3.5zM2170.5 371.5h3.5v3.5h-3.5zM2177.5 371.5h7v3.5h-7zM2195 371.5h3.5v3.5h-3.5zM2230 371.5h3.5v3.5h-3.5zM2163.5 375h3.5v3.5h-3.5zM2170.5 375h3.5v3.5h-3.5zM2177.5 375h3.5v3.5h-3.5zM2184.5 375h3.5v3.5h-3.5zM2191.5 375h3.5v3.5h-3.5zM2209 375h3.5v3.5h-3.5zM2097 378.5h3.5v3.5h-3.5zM2153 378.5h10.5v3.5h-10.5zM2174 378.5h7v3.5h-7zM2205.5 378.5h3.5v3.5h-3.5zM2226.5 378.5h3.5v3.5h-3.5zM2149.5 382h14v3.5h-14zM2167 382h3.5v3.5h-3.5zM2188 382h10.5v3.5h-10.5zM2209 382h7v3.5h-7zM2230 382h3.5v3.5h-3.5zM2153 385.5h7v3.5h-7zM2177.5 385.5h3.5v3.5h-3.5zM2195 385.5h3.5v3.5h-3.5zM2216 385.5h3.5v3.5h-3.5zM2135.5 389h3.5v3.5h-3.5zM2153 389h7v3.5h-7zM2163.5 389h3.5v3.5h-3.5zM2181 389h10.5v3.5h-10.5zM2202 389h3.5v3.5h-3.5zM2209 389h3.5v3.5h-3.5zM2216 389h3.5v3.5h-3.5zM2223 389h3.5v3.5h-3.5zM2247.5 389h3.5v3.5h-3.5zM2324.5 389h3.5v3.5h-3.5zM2156.5 392.5h7v3.5h-7zM2177.5 392.5h3.5v3.5h-3.5zM2184.5 392.5h3.5v3.5h-3.5zM2209 392.5h3.5v3.5h-3.5zM2219.5 392.5h3.5v3.5h-3.5zM2226.5 392.5h3.5v3.5h-3.5zM2237 392.5h3.5v3.5h-3.5zM2254.5 392.5h3.5v3.5h-3.5zM2170.5 396h3.5v3.5h-3.5zM2177.5 396h3.5v3.5h-3.5zM2188 396h7v3.5h-7zM2205.5 396h7v3.5h-7zM2226.5 396h7v3.5h-7zM2184.5 399.5h3.5v3.5h-3.5zM2195 399.5h3.5v3.5h-3.5zM2202 399.5h10.5v3.5h-10.5zM2237 399.5h3.5v3.5h-3.5zM2160 403h3.5v3.5h-3.5zM2188 403h3.5v3.5h-3.5zM2195 403h3.5v3.5h-3.5zM2202 403h7v3.5h-7zM2216 403h3.5v3.5h-3.5zM2233.5 403h3.5v3.5h-3.5zM2149.5 406.5h3.5v3.5h-3.5zM2163.5 406.5h3.5v3.5h-3.5zM2170.5 406.5h3.5v3.5h-3.5zM2184.5 406.5h7v3.5h-7zM2202 406.5h3.5v3.5h-3.5zM2209 406.5h3.5v3.5h-3.5zM2216 406.5h3.5v3.5h-3.5zM2167 410h3.5v3.5h-3.5zM2174 410h3.5v3.5h-3.5zM2184.5 410h3.5v3.5h-3.5zM2191.5 410h7v3.5h-7zM2223 410h3.5v3.5h-3.5zM2237 410h7v3.5h-7zM2153 413.5h3.5v3.5h-3.5zM2198.5 413.5h7v3.5h-7zM2258 413.5h3.5v3.5h-3.5zM2160 417h3.5v3.5h-3.5zM2177.5 417h3.5v3.5h-3.5zM2184.5 417h3.5v3.5h-3.5zM2198.5 417h10.5v3.5h-10.5zM2212.5 417h3.5v3.5h-3.5zM2233.5 417h3.5v3.5h-3.5zM2251 417h3.5v3.5h-3.5zM2188 420.5h3.5v3.5h-3.5zM2195 420.5h7v3.5h-7zM2205.5 420.5h3.5v3.5h-3.5zM2226.5 420.5h3.5v3.5h-3.5zM2072.5 424h3.5v3.5h-3.5zM2205.5 424h3.5v3.5h-3.5zM2240.5 424h3.5v3.5h-3.5zM2289.5 424h3.5v3.5h-3.5zM2065.5 427.5h3.5v3.5h-3.5zM2174 427.5h3.5v3.5h-3.5zM2198.5 427.5h3.5v3.5h-3.5zM2212.5 427.5h3.5v3.5h-3.5zM2226.5 427.5h3.5v3.5h-3.5zM2335 427.5h3.5v3.5h-3.5zM2230 431h3.5v3.5h-3.5zM2153 434.5h3.5v3.5h-3.5zM2244 434.5h3.5v3.5h-3.5zM2023.5 438h3.5v3.5h-3.5zM2212.5 438h3.5v3.5h-3.5zM2195 441.5h3.5v3.5h-3.5zM2205.5 445h3.5v3.5h-3.5z"/>
<path fill="#bfbfbf" d="M2184.5 287.5h3.5v3.5h-3.5zM2048 291h3.5v3.5h-3.5zM2065.5 298h3.5v3.5h-3.5zM2198.5 301.5h3.5v3.5h-3.5zM2041 305h3.5v3.5h-3.5zM2051.5 305h3.5v3.5h-3.5zM2062 305h3.5v3.5h-3.5zM2069 305h3.5v3.5h-3.5zM2181 305h3.5v3.5h-3.5zM2048 308.5h3.5v3.5h-3.5zM2058.5 308.5h3.5v3.5h-3.5zM2114.5 308.5h3.5v3.5h-3.5zM2177.5 308.5h3.5v3.5h-3.5zM2188 308.5h7v3.5h-7zM2034 312h3.5v3.5h-3.5zM2065.5 312h3.5v3.5h-3.5zM2139 312h3.5v3.5h-3.5zM2174 312h7v3.5h-7zM2188 312h3.5v3.5h-3.5zM2023.5 315.5h3.5v3.5h-3.5zM2030.5 315.5h3.5v3.5h-3.5zM2041 315.5h3.5v3.5h-3.5zM2048 315.5h7v3.5h-7zM2065.5 315.5h3.5v3.5h-3.5zM2083 315.5h3.5v3.5h-3.5zM2093.5 315.5h3.5v3.5h-3.5zM2107.5 315.5h3.5v3.5h-3.5zM2174 315.5h3.5v3.5h-3.5zM2202 315.5h3.5v3.5h-3.5zM2037.5 319h7v3.5h-7zM2069 319h3.5v3.5h-3.5zM2079.5 319h3.5v3.5h-3.5zM2086.5 319h3.5v3.5h-3.5zM2097 319h14v3.5h-14zM2170.5 319h3.5v3.5h-3.5zM2044.5 322.5h3.5v3.5h-3.5zM2062 322.5h3.5v3.5h-3.5zM2079.5 322.5h3.5v3.5h-3.5zM2093.5 322.5h7v3.5h-7zM2128.5 322.5h3.5v3.5h-3.5zM2156.5 322.5h3.5v3.5h-3.5zM2212.5 322.5h3.5v3.5h-3.5zM2044.5 326h3.5v3.5h-3.5zM2083 326h3.5v3.5h-3.5zM2100.5 326h3.5v3.5h-3.5zM2121.5 326h3.5v3.5h-3.5zM2212.5 326h3.5v3.5h-3.5zM2027 329.5h3.5v3.5h-3.5zM2034 329.5h3.5v3.5h-3.5zM2048 329.5h10.5v3.5h-10.5zM2062 329.5h3.5v3.5h-3.5zM2069 329.5h3.5v3.5h-3.5zM2076 329.5h3.5v3.5h-3.5zM2086.5 329.5h3.5v3.5h-3.5zM2107.5 329.5h3.5v3.5h-3.5zM2135.5 329.5h3.5v3.5h-3.5zM2149.5 329.5h3.5v3.5h-3.5zM2034 333h3.5v3.5h-3.5zM2041 333h3.5v3.5h-3.5zM2051.5 333h3.5v3.5h-3.5zM2058.5 333h7v3.5h-7zM2079.5 333h3.5v3.5h-3.5zM2090 333h3.5v3.5h-3.5zM2100.5 333h7v3.5h-7zM2114.5 333h3.5v3.5h-3.5zM2128.5 333h3.5v3.5h-3.5zM2156.5 333h3.5v3.5h-3.5zM2198.5 333h7v3.5h-7zM2212.5 333h3.5v3.5h-3.5zM2055 336.5h3.5v3.5h-3.5zM2069 336.5h3.5v3.5h-3.5zM2076 336.5h7v3.5h-7zM2090 336.5h3.5v3.5h-3.5zM2167 336.5h3.5v3.5h-3.5zM2041 340h3.5v3.5h-3.5zM2076 340h3.5v3.5h-3.5zM2097 340h3.5v3.5h-3.5zM2121.5 340h3.5v3.5h-3.5zM2209 340h3.5v3.5h-3.5zM2069 343.5h3.5v3.5h-3.5zM2135.5 343.5h3.5v3.5h-3.5zM2146 343.5h3.5v3.5h-3.5zM2163.5 343.5h3.5v3.5h-3.5zM2205.5 343.5h3.5v3.5h-3.5zM2160 347h3.5v3.5h-3.5zM2104 350.5h3.5v3.5h-3.5zM2163.5 350.5h3.5v3.5h-3.5zM2198.5 350.5h3.5v3.5h-3.5zM2174 354h3.5v3.5h-3.5zM2202 354h3.5v3.5h-3.5zM2209 354h3.5v3.5h-3.5zM2065.5 357.5h3.5v3.5h-3.5zM2170.5 357.5h3.5v3.5h-3.5zM2153 361h3.5v3.5h-3.5zM2177.5 364.5h3.5v3.5h-3.5zM2216 364.5h3.5v3.5h-3.5zM2170.5 368h3.5v3.5h-3.5zM2181 368h7v3.5h-7zM2198.5 368h3.5v3.5h-3.5zM2188 371.5h3.5v3.5h-3.5zM2202 371.5h3.5v3.5h-3.5zM2160 375h3.5v3.5h-3.5zM2202 375h3.5v3.5h-3.5zM2212.5 375h7v3.5h-7zM2191.5 378.5h3.5v3.5h-3.5zM2198.5 378.5h3.5v3.5h-3.5zM2184.5 382h3.5v3.5h-3.5zM2202 382h3.5v3.5h-3.5zM2202 385.5h3.5v3.5h-3.5zM2167 392.5h3.5v3.5h-3.5zM2195 392.5h3.5v3.5h-3.5zM2247.5 392.5h3.5v3.5h-3.5zM2195 396h3.5v3.5h-3.5zM2202 396h3.5v3.5h-3.5zM2167 403h3.5v3.5h-3.5zM2230 403h3.5v3.5h-3.5zM2167 406.5h3.5v3.5h-3.5zM2216 431h3.5v3.5h-3.5z"/>
<path fill="#959595" d="M2055 308.5h3.5v3.5h-3.5zM2125 308.5h3.5v3.5h-3.5zM2055 312h7v3.5h-7zM2069 312h7v3.5h-7zM2181 312h7v3.5h-7zM2027 315.5h3.5v3.5h-3.5zM2044.5 315.5h3.5v3.5h-3.5zM2069 315.5h3.5v3.5h-3.5zM2177.5 315.5h3.5v3.5h-3.5zM2195 315.5h3.5v3.5h-3.5zM2058.5 319h3.5v3.5h-3.5zM2090 319h3.5v3.5h-3.5zM2163.5 319h3.5v3.5h-3.5zM2184.5 319h3.5v3.5h-3.5zM2065.5 322.5h7v3.5h-7zM2195 322.5h3.5v3.5h-3.5zM2037.5 326h3.5v3.5h-3.5zM2055 326h3.5v3.5h-3.5zM2065.5 326h7v3.5h-7zM2086.5 326h3.5v3.5h-3.5zM2030.5 329.5h3.5v3.5h-3.5zM2104 329.5h3.5v3.5h-3.5zM2170.5 329.5h7v3.5h-7zM2023.5 333h3.5v3.5h-3.5zM2195 336.5h3.5v3.5h-3.5zM2163.5 340h3.5v3.5h-3.5zM2072.5 343.5h3.5v3.5h-3.5zM2202 343.5h3.5v3.5h-3.5zM2198.5 347h3.5v3.5h-3.5zM2209 350.5h3.5v3.5h-3.5zM2198.5 354h3.5v3.5h-3.5zM2163.5 357.5h3.5v3.5h-3.5zM2167 361h3.5v3.5h-3.5zM2191.5 361h10.5v3.5h-10.5zM2209 361h3.5v3.5h-3.5zM2181 364.5h3.5v3.5h-3.5zM2167 368h3.5v3.5h-3.5zM2174 368h3.5v3.5h-3.5zM2191.5 368h3.5v3.5h-3.5zM2174 371.5h3.5v3.5h-3.5zM2184.5 371.5h3.5v3.5h-3.5zM2191.5 371.5h3.5v3.5h-3.5zM2198.5 371.5h3.5v3.5h-3.5zM2216 371.5h3.5v3.5h-3.5zM2181 375h3.5v3.5h-3.5zM2195 375h3.5v3.5h-3.5zM2170.5 382h3.5v3.5h-3.5zM2198.5 392.5h3.5v3.5h-3.5z"/>
<path fill="#808080" d="M2051.5 312h3.5v3.5h-3.5zM2191.5 312h3.5v3.5h-3.5zM2188 315.5h7v3.5h-7zM2055 319h3.5v3.5h-3.5zM2083 319h3.5v3.5h-3.5zM2055 322.5h3.5v3.5h-3.5zM2198.5 322.5h3.5v3.5h-3.5zM2051.5 326h3.5v3.5h-3.5zM2079.5 326h3.5v3.5h-3.5zM2041 329.5h3.5v3.5h-3.5zM2065.5 329.5h3.5v3.5h-3.5zM2083 329.5h3.5v3.5h-3.5zM2076 333h3.5v3.5h-3.5zM2198.5 336.5h3.5v3.5h-3.5zM2170.5 343.5h3.5v3.5h-3.5zM2170.5 361h3.5v3.5h-3.5zM2177.5 361h3.5v3.5h-3.5zM2184.5 361h3.5v3.5h-3.5zM2184.5 364.5h3.5v3.5h-3.5zM2191.5 364.5h3.5v3.5h-3.5zM2188 378.5h3.5v3.5h-3.5zM2191.5 399.5h3.5v3.5h-3.5z"/>
<path fill="#6a6a6a" d="M2055 315.5h3.5v3.5h-3.5zM2184.5 315.5h3.5v3.5h-3.5zM2188 319h3.5v3.5h-3.5zM2058.5 322.5h3.5v3.5h-3.5zM2167 322.5h3.5v3.5h-3.5zM2174 322.5h7v3.5h-7zM2048 326h3.5v3.5h-3.5zM2174 326h3.5v3.5h-3.5zM2191.5 329.5h3.5v3.5h-3.5zM2072.5 333h3.5v3.5h-3.5zM2170.5 333h3.5v3.5h-3.5zM2170.5 336.5h3.5v3.5h-3.5zM2195 340h7v3.5h-7zM2202 347h3.5v3.5h-3.5zM2181 354h3.5v3.5h-3.5zM2195 354h3.5v3.5h-3.5zM2181 361h3.5v3.5h-3.5z"/>
<path fill="#555555" d="M2076 315.5h3.5v3.5h-3.5zM2181 315.5h3.5v3.5h-3.5zM2177.5 319h7v3.5h-7zM2191.5 319h3.5v3.5h-3.5zM2184.5 322.5h7v3.5h-7zM2170.5 326h3.5v3.5h-3.5zM2195 326h3.5v3.5h-3.5zM2174 333h3.5v3.5h-3.5zM2170.5 340h7v3.5h-7zM2202 340h3.5v3.5h-3.5zM2181 343.5h3.5v3.5h-3.5zM2191.5 343.5h3.5v3.5h-3.5zM2177.5 347h3.5v3.5h-3.5zM2195 347h3.5v3.5h-3.5zM2167 350.5h3.5v3.5h-3.5zM2177.5 354h3.5v3.5h-3.5zM2188 354h7v3.5h-7zM2174 357.5h7v3.5h-7zM2184.5 357.5h10.5v3.5h-10.5zM2188 368h3.5v3.5h-3.5z"/>
<path fill="#404040" d="M2191.5 322.5h3.5v3.5h-3.5zM2177.5 326h3.5v3.5h-3.5zM2188 329.5h3.5v3.5h-3.5zM2195 329.5h3.5v3.5h-3.5zM2188 333h7v3.5h-7zM2191.5 336.5h3.5v3.5h-3.5zM2184.5 340h3.5v3.5h-3.5zM2174 343.5h3.5v3.5h-3.5zM2174 347h3.5v3.5h-3.5zM2174 350.5h3.5v3.5h-3.5zM2181 350.5h3.5v3.5h-3.5zM2191.5 350.5h3.5v3.5h-3.5zM2181 357.5h3.5v3.5h-3.5zM2188 361h3.5v3.5h-3.5z"/>
<path fill="#2a2a2a" d="M2181 326h3.5v3.5h-3.5zM2188 326h7v3.5h-7zM2177.5 329.5h3.5v3.5h-3.5zM2177.5 333h7v3.5h-7zM2195 333h3.5v3.5h-3.5zM2174 336.5h3.5v3.5h-3.5zM2181 336.5h3.5v3.5h-3.5zM2191.5 340h3.5v3.5h-3.5zM2195 343.5h3.5v3.5h-3.5zM2177.5 350.5h3.5v3.5h-3.5zM2188 350.5h3.5v3.5h-3.5z"/>
<path fill="#151515" d="M2181 322.5h3.5v3.5h-3.5zM2184.5 326h3.5v3.5h-3.5zM2181 329.5h7v3.5h-7zM2184.5 333h3.5v3.5h-3.5zM2177.5 336.5h3.5v3.5h-3.5zM2184.5 336.5h7v3.5h-7zM2188 340h3.5v3.5h-3.5zM2177.5 343.5h3.5v3.5h-3.5zM2184.5 343.5h7v3.5h-7zM2181 347h3.5v3.5h-3.5zM2188 347h7v3.5h-7zM2184.5 350.5h3.5v3.5h-3.5zM2184.5 354h3.5v3.5h-3.5z"/>
<path fill="#000000" d="M2177.5 340h7v3.5h-7zM2184.5 347h3.5v3.5h-3.5z"/>
</g>
<rect x="2020" y="123" width="333" height="335" fill="none" stroke="#b4b4b4" stroke-width="4"/>
<line x1="2141" y1="123" x2="2141" y2="458" stroke="#8c8c8c" stroke-width="4"/>
<line x1="2020" y1="378" x2="2353" y2="378" stroke="#c8c8c8" stroke-width="5"/>
<text x="2022.5" y="474.2" font-size="16" fill="#a8a8a8" textLength="35.5" lengthAdjust="spacingAndGlyphs">10⁰</text>
<text x="2105.3" y="474.2" font-size="16" fill="#a8a8a8" textLength="34.5" lengthAdjust="spacingAndGlyphs">10¹</text>
<text x="2188.6" y="474.2" font-size="16" fill="#a8a8a8" textLength="34.5" lengthAdjust="spacingAndGlyphs">10²</text>
<text x="2271.8" y="474.2" font-size="16" fill="#a8a8a8" textLength="34.5" lengthAdjust="spacingAndGlyphs">10³</text>
<text x="2355.2" y="474.2" font-size="16" fill="#a8a8a8" textLength="35" lengthAdjust="spacingAndGlyphs">10⁴</text>
<text x="2179.3" y="496" font-size="16" fill="#b0b0b0">FL1-H</text>
<text transform="translate(2011.7 455.5) rotate(-90) scale(1.1905 1.5845)" font-size="16" fill="#a8a8a8">10⁰</text>
<text transform="translate(2011.7 372.2) rotate(-90) scale(1.4925 1.5845)" font-size="16" fill="#a8a8a8">10¹</text>
<text transform="translate(2011.7 288.4) rotate(-90) scale(1.4925 1.5845)" font-size="16" fill="#a8a8a8">10²</text>
<text transform="translate(2011.7 204.7) rotate(-90) scale(1.4925 1.5845)" font-size="16" fill="#a8a8a8">10³</text>
<text transform="translate(2011.7 120.8) rotate(-90) scale(1.4184 1.5845)" font-size="16" fill="#a8a8a8">10⁴</text>
<text transform="translate(1997 325.4) rotate(-90) scale(1.5029 1.6071)" font-size="16" fill="#b0b0b0">FL2-H</text>
<text x="2032.4" y="176" font-size="48" stroke="#000" stroke-width="0.5" textLength="102" lengthAdjust="spacingAndGlyphs">22.4</text>
<text x="2254.8" y="175.5" font-size="48" stroke="#000" stroke-width="0.5">65.2</text>
<text x="2033.9" y="440.5" font-size="48" stroke="#000" stroke-width="0.5" textLength="71.6" lengthAdjust="spacingAndGlyphs">5.6</text>
<text x="2278.7" y="440.5" font-size="48" stroke="#000" stroke-width="0.5">6.9</text>
<text x="2037.1" y="224.5" font-size="48" stroke="#000" stroke-width="0.5">a</text>
<text x="2318" y="230.5" font-size="48" stroke="#000" stroke-width="0.5">b</text>
<text x="2320.4" y="389.5" font-size="48" stroke="#000" stroke-width="0.5">c</text>
<text x="1673.4" y="115.5" font-size="54.5" stroke="#000" stroke-width="0.5" textLength="251.6" lengthAdjust="spacingAndGlyphs">Untreated</text>
<text x="2095.9" y="115" font-size="54.5" stroke="#000" stroke-width="0.5" textLength="177.7" lengthAdjust="spacingAndGlyphs">T/I, 6 h</text>
<rect x="1591.5" y="160" width="5" height="130" fill="#808080"/>
<rect x="1591.5" y="290" width="5" height="14" fill="#222"/>
<path d="M1594 134L1580 162L1608 162Z" fill="#000"/>
<rect x="1853" y="507" width="487" height="8" fill="#808080"/>
<path d="M2376 511L2339 494L2339 528Z" fill="#000"/>
<rect x="1753" y="507" width="100" height="4" fill="#bcbcbc"/>
<rect x="1753" y="511" width="100" height="4" fill="#3a3a3a"/>
<text transform="translate(1605.4 457.8) rotate(-90) scale(1.0138 1.0815)" font-size="56" fill="#000" stroke="#000" stroke-width="0.5">CD4</text>
<text x="1627.7" y="533.4" font-size="56" stroke="#000" stroke-width="0.5" textLength="117.3" lengthAdjust="spacingAndGlyphs">CD8</text>
<line x1="1790.5" y1="646" x2="1790.5" y2="862" stroke="#b4b4b4" stroke-width="5"/>
<line x1="1790" y1="863" x2="2353" y2="863" stroke="#2a2a2a" stroke-width="5"/>
<polyline points="1790,862 1792,862 1794,862 1796,862 1798,862 1800,862 1802,862 1804,862 1806,862 1808,862 1810,862 1812,862 1814,862 1816,862 1818,862 1820,862 1822,862 1824,862 1826,862 1828,862 1830,862 1832,862 1834,862 1836,862 1838,862 1840,862 1842,862 1844,862 1846,862 1848,862 1850,862 1852,862 1854,862 1856,862 1858,862 1860,861.9 1862,861.9 1864,861.9 1866,861.9 1868,861.8 1870,861.7 1872,861.7 1874,861.5 1876,861.4 1878,861.2 1880,860.9 1882,860.6 1884,860.2 1886,859.7 1888,859.1 1890,858.3 1892,857.3 1894,856.2 1896,854.8 1898,853.1 1900,851.1 1902,848.8 1904,846 1906,842.9 1908,839.2 1910,835.1 1912,830.4 1914,825.2 1916,819.5 1918,813.1 1920,806.2 1922,798.8 1924,790.9 1926,782.5 1928,773.8 1930,764.8 1932,755.6 1934,746.4 1936,737.2 1938,728.2 1940,719.6 1942,711.5 1944,704 1946,697.2 1948,691.4 1950,686.6 1952,682.9 1954,680.4 1956,679.2 1958,679.3 1960,681.8 1962,686.7 1964,693.9 1966,702.9 1968,713.6 1970,725.4 1972,738 1974,751 1976,764 1978,776.7 1980,788.7 1982,799.9 1984,810.2 1986,819.3 1988,827.3 1990,834.2 1992,840 1994,844.9 1996,848.8 1998,852 2000,854.5 2002,856.5 2004,858 2006,859.1 2008,860 2010,860.6 2012,861 2014,861.3 2016,861.6 2018,861.7 2020,861.8 2022,861.9 2024,861.9 2026,862 2028,862 2030,862 2032,862 2034,862 2036,862 2038,862 2040,862 2042,862 2044,862 2046,862 2048,862 2050,862 2052,862 2054,862 2056,862 2058,862 2060,862 2062,862 2064,862 2066,862 2068,862 2070,862 2072,862 2074,862 2076,862 2078,862 2080,862 2082,862 2084,862 2086,862 2088,862 2090,862 2092,862 2094,862 2096,862 2098,862 2100,862 2102,862 2104,862 2106,862 2108,862 2110,862 2112,862 2114,862 2116,862 2118,862 2120,862 2122,862 2124,862 2126,862 2128,862 2130,862 2132,862 2134,862 2136,862 2138,862 2140,862 2142,862 2144,862 2146,862 2148,862 2150,862 2152,862 2154,862 2156,862 2158,862 2160,862 2162,862 2164,862 2166,862 2168,862 2170,862 2172,862 2174,862 2176,862 2178,862 2180,862 2182,862 2184,862 2186,862 2188,862 2190,862 2192,862 2194,862 2196,862 2198,862 2200,862 2202,862 2204,862 2206,862 2208,862 2210,862 2212,862 2214,862 2216,862 2218,862 2220,862 2222,862 2224,862 2226,862 2228,862 2230,862 2232,862 2234,862 2236,862 2238,862 2240,862 2242,862 2244,862 2246,862 2248,862 2250,862 2252,862 2254,862 2256,862 2258,862 2260,862 2262,862 2264,862 2266,862 2268,862 2270,862 2272,862 2274,862 2276,862 2278,862 2280,862 2282,862 2284,862 2286,862 2288,862 2290,862 2292,862 2294,862 2296,862 2298,862 2300,862 2302,862 2304,862 2306,862 2308,862 2310,862 2312,862 2314,862 2316,862 2318,862 2320,862 2322,862 2324,862 2326,862 2328,862 2330,862 2332,862 2334,862 2336,862 2338,862 2340,862 2342,862 2344,862 2346,862 2348,862 2350,862 2352,862" fill="none" stroke="#707070" stroke-width="3" stroke-dasharray="4 3"/>
<polygon points="1790,862 1790,862 1792,861.9 1794,861.8 1796,861.7 1798,861.6 1800,861.5 1802,861.4 1804,861.4 1806,861.3 1808,861.2 1810,861.1 1812,861 1814,860.9 1816,860.8 1818,860.7 1820,860.6 1822,860.5 1824,860.4 1826,860.3 1828,860.2 1830,860.1 1832,860.1 1834,860 1836,859.9 1838,859.8 1840,859.7 1842,859.6 1844,859.5 1846,859.4 1848,859.3 1850,859.2 1852,859.1 1854,859 1856,858.9 1858,858.8 1860,858.8 1862,858.7 1864,858.6 1866,858.5 1868,858.4 1870,858.3 1872,858.2 1874,858.1 1876,858 1878,857.9 1880,857.8 1882,857.7 1884,857.6 1886,857.5 1888,857.5 1890,857.4 1892,857.3 1894,857.2 1896,857.1 1898,857 1900,856.9 1902,856.8 1904,856.7 1906,856.6 1908,856.5 1910,856.4 1912,856.3 1914,856.2 1916,856.2 1918,856.1 1920,856 1922,855.9 1924,855.8 1926,855.7 1928,855.6 1930,855.5 1932,855.4 1934,855.3 1936,855.2 1938,855.1 1940,855 1942,854.9 1944,854.9 1946,854.8 1948,854.7 1950,854.6 1952,854.5 1954,854.4 1956,854.3 1958,854.2 1960,853.3 1962,851.1 1964,848.8 1966,846.2 1968,843.5 1970,840.7 1972,837.8 1974,834.8 1976,831.8 1978,828.7 1980,825.4 1982,821.6 1984,817.5 1986,813.1 1988,808.2 1990,802.4 1992,795.8 1994,788.3 1996,780.5 1998,772.8 2000,766 2002,761 2004,758.3 2006,758.4 2008,760.6 2010,764.5 2012,770.1 2014,777 2016,784.9 2018,793.5 2020,802.3 2022,811.1 2024,819.4 2026,827.1 2028,834 2030,839.9 2032,845 2034,849.2 2036,852.5 2038,855.1 2040,857.1 2042,858.6 2044,859.7 2046,860.4 2048,861 2050,861.3 2052,861.6 2054,861.7 2056,861.8 2058,861.9 2060,861.9 2062,862 2064,862 2066,862 2068,862 2070,862 2072,862 2074,862 2076,862 2078,862 2080,862 2082,862 2084,862 2086,862 2088,862 2090,862 2092,862 2094,862 2096,862 2098,862 2100,862 2102,862 2104,862 2106,862 2108,862 2110,862 2112,862 2114,862 2116,862 2118,862 2120,862 2122,862 2124,862 2126,862 2128,862 2130,862 2132,862 2134,862 2136,862 2138,862 2140,862 2142,862 2144,862 2146,862 2148,862 2150,862 2152,862 2154,862 2156,862 2158,862 2160,862 2162,862 2164,862 2166,862 2168,862 2170,862 2172,862 2174,862 2176,862 2178,862 2180,862 2182,862 2184,862 2186,862 2188,862 2190,862 2192,862 2194,862 2196,862 2198,862 2200,862 2202,862 2204,862 2206,862 2208,862 2210,862 2212,862 2214,862 2216,862 2218,862 2220,862 2222,862 2224,862 2226,862 2228,862 2230,862 2232,862 2234,862 2236,862 2238,862 2240,862 2242,862 2244,862 2246,862 2248,862 2250,862 2252,862 2254,862 2256,862 2258,862 2260,862 2262,862 2264,862 2266,862 2268,862 2270,862 2272,862 2274,862 2276,862 2278,862 2280,862 2282,862 2284,862 2286,862 2288,862 2290,862 2292,862 2294,862 2296,862 2298,862 2300,862 2302,862 2304,862 2306,862 2308,862 2310,862 2312,862 2314,862 2316,862 2318,862 2320,862 2322,862 2324,862 2326,862 2328,862 2330,862 2332,862 2334,862 2336,862 2338,862 2340,862 2342,862 2344,862 2346,862 2348,862 2350,862 2352,862 2353,862" fill="#303030"/>
<line x1="2001" y1="751" x2="2353" y2="751" stroke="#c4c4c4" stroke-width="8"/>
<text x="2331.9" y="742" font-size="15" fill="#b0b0b0">M1</text>
<text x="1821.8" y="680.5" font-size="55" stroke="#000" stroke-width="0.5">a</text>
<text x="2101.9" y="704.5" font-size="48" stroke="#000" stroke-width="0.5" textLength="145.9" lengthAdjust="spacingAndGlyphs">50.1%</text>
<text x="1782.6" y="880.6" font-size="18" fill="#aaaaaa">10⁰</text>
<text x="1923.3" y="880.6" font-size="18" fill="#aaaaaa">10¹</text>
<text x="2064.1" y="880.6" font-size="18" fill="#aaaaaa">10²</text>
<text x="2204.8" y="880.6" font-size="18" fill="#aaaaaa">10³</text>
<text x="2345.6" y="880.6" font-size="18" fill="#aaaaaa">10⁴</text>
<text x="2047.4" y="901.7" font-size="17" fill="#b0b0b0">FL1-H</text>
<text x="1773.6" y="865.8" font-size="18" fill="#aaaaaa">0</text>
<text x="1753.6" y="658.6" font-size="18" fill="#aaaaaa">40</text>
<line x1="1790.5" y1="941" x2="1790.5" y2="1162" stroke="#b4b4b4" stroke-width="5"/>
<line x1="1790" y1="1163" x2="2353" y2="1163" stroke="#2a2a2a" stroke-width="5"/>
<polyline points="1790,1162 1792,1162 1794,1162 1796,1162 1798,1162 1800,1162 1802,1162 1804,1162 1806,1162 1808,1162 1810,1162 1812,1162 1814,1162 1816,1162 1818,1162 1820,1162 1822,1162 1824,1162 1826,1162 1828,1162 1830,1161.9 1832,1161.9 1834,1161.9 1836,1161.9 1838,1161.8 1840,1161.8 1842,1161.7 1844,1161.6 1846,1161.5 1848,1161.3 1850,1161.1 1852,1160.9 1854,1160.6 1856,1160.3 1858,1159.9 1860,1159.3 1862,1158.7 1864,1158 1866,1157.1 1868,1156 1870,1154.7 1872,1153.3 1874,1151.6 1876,1149.6 1878,1147.4 1880,1144.8 1882,1141.9 1884,1138.6 1886,1134.9 1888,1130.9 1890,1126.4 1892,1121.5 1894,1116.1 1896,1110.4 1898,1104.3 1900,1097.7 1902,1090.9 1904,1083.7 1906,1076.3 1908,1068.7 1910,1061 1912,1053.2 1914,1045.5 1916,1037.9 1918,1030.5 1920,1023.5 1922,1016.9 1924,1010.8 1926,1005.3 1928,1000.5 1930,996.4 1932,993.2 1934,990.9 1936,989.5 1938,989 1940,990 1942,992.8 1944,997.4 1946,1003.7 1948,1011.4 1950,1020.3 1952,1030.1 1954,1040.6 1956,1051.6 1958,1062.6 1960,1073.5 1962,1084.1 1964,1094.2 1966,1103.6 1968,1112.3 1970,1120.1 1972,1127.1 1974,1133.3 1976,1138.6 1978,1143.1 1980,1147 1982,1150.2 1984,1152.8 1986,1154.9 1988,1156.6 1990,1157.9 1992,1159 1994,1159.8 1996,1160.4 1998,1160.8 2000,1161.2 2002,1161.4 2004,1161.6 2006,1161.7 2008,1161.8 2010,1161.9 2012,1161.9 2014,1161.9 2016,1162 2018,1162 2020,1162 2022,1162 2024,1162 2026,1162 2028,1162 2030,1162 2032,1162 2034,1162 2036,1162 2038,1162 2040,1162 2042,1162 2044,1162 2046,1162 2048,1162 2050,1162 2052,1162 2054,1162 2056,1162 2058,1162 2060,1162 2062,1162 2064,1162 2066,1162 2068,1162 2070,1162 2072,1162 2074,1162 2076,1162 2078,1162 2080,1162 2082,1162 2084,1162 2086,1162 2088,1162 2090,1162 2092,1162 2094,1162 2096,1162 2098,1162 2100,1162 2102,1162 2104,1162 2106,1162 2108,1162 2110,1162 2112,1162 2114,1162 2116,1162 2118,1162 2120,1162 2122,1162 2124,1162 2126,1162 2128,1162 2130,1162 2132,1162 2134,1162 2136,1162 2138,1162 2140,1162 2142,1162 2144,1162 2146,1162 2148,1162 2150,1162 2152,1162 2154,1162 2156,1162 2158,1162 2160,1162 2162,1162 2164,1162 2166,1162 2168,1162 2170,1162 2172,1162 2174,1162 2176,1162 2178,1162 2180,1162 2182,1162 2184,1162 2186,1162 2188,1162 2190,1162 2192,1162 2194,1162 2196,1162 2198,1162 2200,1162 2202,1162 2204,1162 2206,1162 2208,1162 2210,1162 2212,1162 2214,1162 2216,1162 2218,1162 2220,1162 2222,1162 2224,1162 2226,1162 2228,1162 2230,1162 2232,1162 2234,1162 2236,1162 2238,1162 2240,1162 2242,1162 2244,1162 2246,1162 2248,1162 2250,1162 2252,1162 2254,1162 2256,1162 2258,1162 2260,1162 2262,1162 2264,1162 2266,1162 2268,1162 2270,1162 2272,1162 2274,1162 2276,1162 2278,1162 2280,1162 2282,1162 2284,1162 2286,1162 2288,1162 2290,1162 2292,1162 2294,1162 2296,1162 2298,1162 2300,1162 2302,1162 2304,1162 2306,1162 2308,1162 2310,1162 2312,1162 2314,1162 2316,1162 2318,1162 2320,1162 2322,1162 2324,1162 2326,1162 2328,1162 2330,1162 2332,1162 2334,1162 2336,1162 2338,1162 2340,1162 2342,1162 2344,1162 2346,1162 2348,1162 2350,1162 2352,1162" fill="none" stroke="#707070" stroke-width="3" stroke-dasharray="4 3"/>
<polygon points="1790,1162 1790,1162 1792,1161.9 1794,1161.8 1796,1161.7 1798,1161.6 1800,1161.5 1802,1161.4 1804,1161.2 1806,1161.1 1808,1161 1810,1160.9 1812,1160.8 1814,1160.7 1816,1160.6 1818,1160.5 1820,1160.4 1822,1160.3 1824,1160.2 1826,1160.1 1828,1159.9 1830,1159.8 1832,1159.7 1834,1159.6 1836,1159.5 1838,1159.4 1840,1159.3 1842,1159.2 1844,1159.1 1846,1159 1848,1158.9 1850,1158.8 1852,1158.6 1854,1158.5 1856,1158.4 1858,1158.3 1860,1158.2 1862,1158.1 1864,1158 1866,1157.9 1868,1157.8 1870,1157.7 1872,1157.6 1874,1157.5 1876,1157.4 1878,1157.2 1880,1157.1 1882,1157 1884,1156.9 1886,1156.8 1888,1156.7 1890,1156.6 1892,1156.5 1894,1156.4 1896,1156.3 1898,1156.2 1900,1156.1 1902,1155.9 1904,1155.8 1906,1155.7 1908,1155.6 1910,1155.5 1912,1155.4 1914,1155.3 1916,1155.2 1918,1155.1 1920,1155 1922,1154.9 1924,1154.8 1926,1154.6 1928,1154.5 1930,1154.4 1932,1154.3 1934,1154.2 1936,1154.1 1938,1154 1940,1153.9 1942,1153.8 1944,1153.7 1946,1153.6 1948,1153.5 1950,1153.4 1952,1153.2 1954,1153.1 1956,1153 1958,1152.9 1960,1152.8 1962,1152.7 1964,1152.6 1966,1152.5 1968,1152.4 1970,1152.3 1972,1152.2 1974,1152.1 1976,1151.9 1978,1151.8 1980,1149.2 1982,1146.2 1984,1143 1986,1139.5 1988,1135.8 1990,1131.5 1992,1126.4 1994,1120.2 1996,1112.5 1998,1103.2 2000,1092.4 2002,1080.7 2004,1068.8 2006,1057.9 2008,1049.1 2010,1043.6 2012,1042.2 2014,1044.8 2016,1050.9 2018,1059.9 2020,1071.2 2022,1083.8 2024,1096.9 2026,1109.5 2028,1121 2030,1131.1 2032,1139.4 2034,1146 2036,1151.1 2038,1154.8 2040,1157.4 2042,1159.1 2044,1160.3 2046,1161 2048,1161.4 2050,1161.7 2052,1161.8 2054,1161.9 2056,1162 2058,1162 2060,1162 2062,1162 2064,1162 2066,1162 2068,1162 2070,1162 2072,1162 2074,1162 2076,1162 2078,1162 2080,1162 2082,1162 2084,1162 2086,1162 2088,1162 2090,1162 2092,1162 2094,1162 2096,1162 2098,1162 2100,1162 2102,1162 2104,1162 2106,1162 2108,1162 2110,1162 2112,1162 2114,1162 2116,1162 2118,1162 2120,1162 2122,1162 2124,1162 2126,1162 2128,1162 2130,1162 2132,1162 2134,1162 2136,1162 2138,1162 2140,1162 2142,1162 2144,1162 2146,1162 2148,1162 2150,1162 2152,1162 2154,1162 2156,1162 2158,1162 2160,1162 2162,1162 2164,1162 2166,1162 2168,1162 2170,1162 2172,1162 2174,1162 2176,1162 2178,1162 2180,1162 2182,1162 2184,1162 2186,1162 2188,1162 2190,1162 2192,1162 2194,1162 2196,1162 2198,1162 2200,1162 2202,1162 2204,1162 2206,1162 2208,1162 2210,1162 2212,1162 2214,1162 2216,1162 2218,1162 2220,1162 2222,1162 2224,1162 2226,1162 2228,1162 2230,1162 2232,1162 2234,1162 2236,1162 2238,1162 2240,1162 2242,1162 2244,1162 2246,1162 2248,1162 2250,1162 2252,1162 2254,1162 2256,1162 2258,1162 2260,1162 2262,1162 2264,1162 2266,1162 2268,1162 2270,1162 2272,1162 2274,1162 2276,1162 2278,1162 2280,1162 2282,1162 2284,1162 2286,1162 2288,1162 2290,1162 2292,1162 2294,1162 2296,1162 2298,1162 2300,1162 2302,1162 2304,1162 2306,1162 2308,1162 2310,1162 2312,1162 2314,1162 2316,1162 2318,1162 2320,1162 2322,1162 2324,1162 2326,1162 2328,1162 2330,1162 2332,1162 2334,1162 2336,1162 2338,1162 2340,1162 2342,1162 2344,1162 2346,1162 2348,1162 2350,1162 2352,1162 2353,1162" fill="#303030"/>
<line x1="2032" y1="1130" x2="2353" y2="1130" stroke="#c4c4c4" stroke-width="8"/>
<text x="2331.9" y="1121" font-size="15" fill="#b0b0b0">M1</text>
<text x="1813.7" y="988.5" font-size="55" stroke="#000" stroke-width="0.5">b</text>
<text x="2112.4" y="1085" font-size="48" stroke="#000" stroke-width="0.5" textLength="146.4" lengthAdjust="spacingAndGlyphs">72.6%</text>
<text x="1782.6" y="1180.6" font-size="18" fill="#aaaaaa">10⁰</text>
<text x="1923.3" y="1180.6" font-size="18" fill="#aaaaaa">10¹</text>
<text x="2064.1" y="1180.6" font-size="18" fill="#aaaaaa">10²</text>
<text x="2204.8" y="1180.6" font-size="18" fill="#aaaaaa">10³</text>
<text x="2345.6" y="1180.6" font-size="18" fill="#aaaaaa">10⁴</text>
<text x="2047.4" y="1201.7" font-size="17" fill="#b0b0b0">FL1-H</text>
<text x="1773.6" y="1165.8" font-size="18" fill="#aaaaaa">0</text>
<text x="1753.6" y="953.6" font-size="18" fill="#aaaaaa">40</text>
<line x1="1790.5" y1="1231" x2="1790.5" y2="1452" stroke="#b4b4b4" stroke-width="5"/>
<line x1="1790" y1="1453" x2="2353" y2="1453" stroke="#2a2a2a" stroke-width="5"/>
<polygon points="1790,1452 1790,1452 1792,1451.9 1794,1451.8 1796,1451.6 1798,1451.5 1800,1451.4 1802,1451.2 1804,1451.1 1806,1451 1808,1450.9 1810,1450.8 1812,1450.6 1814,1450.5 1816,1450.4 1818,1450.2 1820,1450.1 1822,1450 1824,1449.9 1826,1449.8 1828,1449.6 1830,1449.5 1832,1449.4 1834,1449.2 1836,1449.1 1838,1449 1840,1448.9 1842,1448.8 1844,1448.6 1846,1448.5 1848,1448.4 1850,1448.2 1852,1448.1 1854,1448 1856,1447.9 1858,1447.8 1860,1447.6 1862,1447.5 1864,1447.4 1866,1447.2 1868,1447.1 1870,1447 1872,1446.4 1874,1445 1876,1443.3 1878,1441.3 1880,1439 1882,1436.4 1884,1433.4 1886,1430 1888,1426.4 1890,1422.4 1892,1418.1 1894,1413.5 1896,1408.9 1898,1404.1 1900,1399.3 1902,1394.6 1904,1390.2 1906,1386 1908,1382.3 1910,1379.1 1912,1376.5 1914,1374.6 1916,1373.4 1918,1373 1920,1373.2 1922,1373.8 1924,1374.8 1926,1376.2 1928,1377.9 1930,1379.9 1932,1382.3 1934,1384.9 1936,1387.7 1938,1390.8 1940,1394 1942,1397.3 1944,1400.7 1946,1404.1 1948,1407.5 1950,1410.9 1952,1414.2 1954,1417.4 1956,1420.5 1958,1423.5 1960,1426.4 1962,1429 1964,1431.5 1966,1433.8 1968,1436 1970,1437.9 1972,1439.7 1974,1441.3 1976,1442.8 1978,1444 1980,1445.2 1982,1446.2 1984,1447.1 1986,1447.9 1988,1448.5 1990,1449.1 1992,1449.6 1994,1450 1996,1450.4 1998,1450.7 2000,1450.9 2002,1451.1 2004,1451.3 2006,1451.4 2008,1451.5 2010,1451.6 2012,1451.7 2014,1451.8 2016,1451.8 2018,1451.9 2020,1451.9 2022,1451.9 2024,1451.9 2026,1452 2028,1452 2030,1452 2032,1452 2034,1452 2036,1452 2038,1452 2040,1452 2042,1452 2044,1452 2046,1452 2048,1452 2050,1452 2052,1452 2054,1452 2056,1452 2058,1452 2060,1452 2062,1452 2064,1452 2066,1452 2068,1452 2070,1452 2072,1452 2074,1452 2076,1452 2078,1452 2080,1452 2082,1452 2084,1452 2086,1452 2088,1452 2090,1452 2092,1452 2094,1452 2096,1452 2098,1452 2100,1452 2102,1452 2104,1452 2106,1452 2108,1452 2110,1452 2112,1452 2114,1452 2116,1452 2118,1452 2120,1452 2122,1452 2124,1452 2126,1452 2128,1452 2130,1452 2132,1452 2134,1452 2136,1452 2138,1452 2140,1452 2142,1452 2144,1452 2146,1452 2148,1452 2150,1452 2152,1452 2154,1452 2156,1452 2158,1452 2160,1452 2162,1452 2164,1452 2166,1452 2168,1452 2170,1452 2172,1452 2174,1452 2176,1452 2178,1452 2180,1452 2182,1452 2184,1452 2186,1452 2188,1452 2190,1452 2192,1452 2194,1452 2196,1452 2198,1452 2200,1452 2202,1452 2204,1452 2206,1452 2208,1452 2210,1452 2212,1452 2214,1452 2216,1452 2218,1452 2220,1452 2222,1452 2224,1452 2226,1452 2228,1452 2230,1452 2232,1452 2234,1452 2236,1452 2238,1452 2240,1452 2242,1452 2244,1452 2246,1452 2248,1452 2250,1452 2252,1452 2254,1452 2256,1452 2258,1452 2260,1452 2262,1452 2264,1452 2266,1452 2268,1452 2270,1452 2272,1452 2274,1452 2276,1452 2278,1452 2280,1452 2282,1452 2284,1452 2286,1452 2288,1452 2290,1452 2292,1452 2294,1452 2296,1452 2298,1452 2300,1452 2302,1452 2304,1452 2306,1452 2308,1452 2310,1452 2312,1452 2314,1452 2316,1452 2318,1452 2320,1452 2322,1452 2324,1452 2326,1452 2328,1452 2330,1452 2332,1452 2334,1452 2336,1452 2338,1452 2340,1452 2342,1452 2344,1452 2346,1452 2348,1452 2350,1452 2352,1452 2353,1452" fill="#303030"/>
<line x1="1999" y1="1341.5" x2="2353" y2="1341.5" stroke="#c4c4c4" stroke-width="8"/>
<text x="2331.9" y="1332.5" font-size="15" fill="#b0b0b0">M1</text>
<text x="1821.8" y="1258.5" font-size="55" stroke="#000" stroke-width="0.5">c</text>
<text x="2127.4" y="1309.5" font-size="48" stroke="#000" stroke-width="0.5" textLength="118.6" lengthAdjust="spacingAndGlyphs">2.6%</text>
<text x="1782.6" y="1470.6" font-size="18" fill="#aaaaaa">10⁰</text>
<text x="1923.3" y="1470.6" font-size="18" fill="#aaaaaa">10¹</text>
<text x="2064.1" y="1470.6" font-size="18" fill="#aaaaaa">10²</text>
<text x="2204.8" y="1470.6" font-size="18" fill="#aaaaaa">10³</text>
<text x="2345.6" y="1470.6" font-size="18" fill="#aaaaaa">10⁴</text>
<text x="2047.4" y="1491.7" font-size="17" fill="#b0b0b0">FL1-H</text>
<text x="1773.6" y="1455.8" font-size="18" fill="#aaaaaa">0</text>
<text x="1753.6" y="1243.6" font-size="18" fill="#aaaaaa">40</text>
<rect x="1722.5" y="664" width="5" height="461" fill="#000"/>
<path d="M1725 631L1707 666L1743 666Z" fill="#000"/>
<rect x="1927" y="1520.5" width="395" height="5" fill="#404040"/>
<path d="M2355 1523L2320 1506L2320 1540Z" fill="#000"/>
<text transform="translate(1742.4 1465.8) rotate(-90) scale(1.0084 1.1252)" font-size="56" fill="#000" stroke="#000" stroke-width="0.4">Cell number</text>
<text x="1783.9" y="1544" font-size="56" stroke="#000" stroke-width="0.5" textLength="138.3" lengthAdjust="spacingAndGlyphs">IFN-γ</text>
<rect x="1299" y="128.7" width="220.5" height="299.3" fill="none" stroke="#000" stroke-width="5"/>
<line x1="1286" y1="128.7" x2="1299" y2="128.7" stroke="#000" stroke-width="5"/>
<line x1="1286" y1="278.5" x2="1299" y2="278.5" stroke="#000" stroke-width="5"/>
<line x1="1286" y1="428" x2="1299" y2="428" stroke="#000" stroke-width="5"/>
<line x1="1299" y1="428" x2="1299" y2="450" stroke="#000" stroke-width="5"/>
<line x1="1354" y1="428" x2="1354" y2="450" stroke="#000" stroke-width="5"/>
<line x1="1410" y1="428" x2="1410" y2="450" stroke="#000" stroke-width="5"/>
<line x1="1464" y1="428" x2="1464" y2="450" stroke="#000" stroke-width="5"/>
<line x1="1519.5" y1="428" x2="1519.5" y2="450" stroke="#000" stroke-width="5"/>
<line x1="1489.5" y1="232" x2="1489.5" y2="242" stroke="#000" stroke-width="5"/>
<line x1="1481.5" y1="234.5" x2="1497.5" y2="234.5" stroke="#000" stroke-width="5"/>
<rect x="1467" y="242" width="45" height="186" fill="#000"/>
<text x="1435.8" y="231.6" font-size="56" fill="#333" stroke="#333" stroke-width="0.5" textLength="67.2" lengthAdjust="spacingAndGlyphs">***</text>
<text x="1175.3" y="150.8" font-size="56" stroke="#000" stroke-width="0.5">800</text>
<text x="1175.3" y="294.8" font-size="56" stroke="#000" stroke-width="0.5">400</text>
<text x="1237.5" y="444.8" font-size="56" stroke="#000" stroke-width="0.5">0</text>
<text x="1343.2" y="116.4" font-size="56" stroke="#000" stroke-width="0.5" textLength="113.6" lengthAdjust="spacingAndGlyphs">CD4</text>
<text transform="translate(1454.4 101.6) scale(1.2755 1.2755)" font-size="40">+</text>
<rect x="1299" y="537.8" width="220.5" height="274.7" fill="none" stroke="#000" stroke-width="5"/>
<line x1="1286" y1="537.8" x2="1299" y2="537.8" stroke="#000" stroke-width="5"/>
<line x1="1286" y1="676" x2="1299" y2="676" stroke="#000" stroke-width="5"/>
<line x1="1286" y1="812.5" x2="1299" y2="812.5" stroke="#000" stroke-width="5"/>
<line x1="1299" y1="812.5" x2="1299" y2="830.5" stroke="#000" stroke-width="5"/>
<line x1="1354" y1="812.5" x2="1354" y2="830.5" stroke="#000" stroke-width="5"/>
<line x1="1410" y1="812.5" x2="1410" y2="830.5" stroke="#000" stroke-width="5"/>
<line x1="1464" y1="812.5" x2="1464" y2="830.5" stroke="#000" stroke-width="5"/>
<line x1="1519.5" y1="812.5" x2="1519.5" y2="830.5" stroke="#000" stroke-width="5"/>
<line x1="1492" y1="578" x2="1492" y2="596" stroke="#000" stroke-width="5"/>
<line x1="1484" y1="580.5" x2="1500" y2="580.5" stroke="#000" stroke-width="5"/>
<rect x="1472" y="596" width="40" height="216.5" fill="#000"/>
<text x="1478.1" y="587.6" font-size="56" fill="#333" stroke="#333" stroke-width="0.5">*</text>
<text x="1206.1" y="560.3" font-size="56" stroke="#000" stroke-width="0.5">20</text>
<text x="1206.1" y="694.8" font-size="56" stroke="#000" stroke-width="0.5">10</text>
<text x="1237.5" y="829.8" font-size="56" stroke="#000" stroke-width="0.5">0</text>
<text x="1343.1" y="519.4" font-size="56" stroke="#000" stroke-width="0.5" textLength="114.8" lengthAdjust="spacingAndGlyphs">CD8</text>
<text transform="translate(1454.4 509.4) scale(1.2755 1.2245)" font-size="40">+</text>
<text transform="translate(1147.5 649.1) rotate(-90) scale(1.0133 1.1367)" font-size="56" fill="#000" stroke="#000" stroke-width="0.4">IFN-γ (pg/ml)</text>
<text x="1000.8" y="890.5" font-size="56" stroke="#000" stroke-width="0.5" textLength="300.4" lengthAdjust="spacingAndGlyphs">TPA (ng/ml)</text>
<text x="996.9" y="942.5" font-size="56" stroke="#000" stroke-width="0.5" textLength="304.3" lengthAdjust="spacingAndGlyphs">Iono (μg/ml)</text>
<text x="1312.9" y="890.5" font-size="56" stroke="#000" stroke-width="0.5" textLength="21.3" lengthAdjust="spacingAndGlyphs">-</text>
<text x="1343.7" y="890.5" font-size="56" stroke="#000" stroke-width="0.5" textLength="64.2" lengthAdjust="spacingAndGlyphs">50</text>
<text x="1418.4" y="890.5" font-size="56" stroke="#000" stroke-width="0.5" textLength="21.3" lengthAdjust="spacingAndGlyphs">-</text>
<text x="1473.7" y="890.5" font-size="56" stroke="#000" stroke-width="0.5" textLength="64.2" lengthAdjust="spacingAndGlyphs">50</text>
<text x="1312.9" y="942.5" font-size="56" stroke="#000" stroke-width="0.5" textLength="21.3" lengthAdjust="spacingAndGlyphs">-</text>
<text x="1363.4" y="942.5" font-size="56" stroke="#000" stroke-width="0.5" textLength="21.3" lengthAdjust="spacingAndGlyphs">-</text>
<text x="1384.7" y="942.5" font-size="56" stroke="#000" stroke-width="0.5" textLength="160.6" lengthAdjust="spacingAndGlyphs">0.50.5</text>
<rect x="351.7" y="1088.5" width="1162.3" height="363.5" fill="none" stroke="#000" stroke-width="5"/>
<line x1="334.7" y1="1088.5" x2="351.7" y2="1088.5" stroke="#000" stroke-width="5"/>
<line x1="334.7" y1="1268" x2="351.7" y2="1268" stroke="#000" stroke-width="5"/>
<line x1="334.7" y1="1452" x2="351.7" y2="1452" stroke="#000" stroke-width="5"/>
<line x1="351.7" y1="1452" x2="351.7" y2="1469" stroke="#000" stroke-width="5"/>
<line x1="497" y1="1452" x2="497" y2="1469" stroke="#000" stroke-width="5"/>
<line x1="642.3" y1="1452" x2="642.3" y2="1469" stroke="#000" stroke-width="5"/>
<line x1="787.6" y1="1452" x2="787.6" y2="1469" stroke="#000" stroke-width="5"/>
<line x1="932.8" y1="1452" x2="932.8" y2="1469" stroke="#000" stroke-width="5"/>
<line x1="1078.1" y1="1452" x2="1078.1" y2="1469" stroke="#000" stroke-width="5"/>
<line x1="1223.4" y1="1452" x2="1223.4" y2="1469" stroke="#000" stroke-width="5"/>
<line x1="1368.7" y1="1452" x2="1368.7" y2="1469" stroke="#000" stroke-width="5"/>
<line x1="1514" y1="1452" x2="1514" y2="1469" stroke="#000" stroke-width="5"/>
<text x="260.5" y="1101.3" font-size="56" stroke="#000" stroke-width="0.5">50</text>
<text x="260.5" y="1285.3" font-size="56" stroke="#000" stroke-width="0.5">25</text>
<text x="291.9" y="1469.3" font-size="56" stroke="#000" stroke-width="0.5">0</text>
<text transform="translate(206.6 1432.1) rotate(-90) scale(1.0029 1.0561)" font-size="56" fill="#000" stroke="#000" stroke-width="0.5">IFN-γ (pg/ml)</text>
<text x="380.9" y="1149" font-size="56" stroke="#000" stroke-width="0.5" textLength="204.5" lengthAdjust="spacingAndGlyphs">Jurkat T</text>
<rect x="392" y="1173.5" width="30" height="28.5" fill="#fff" stroke="#000" stroke-width="4.5"/>
<rect x="390" y="1216.5" width="34" height="37.5" fill="#000"/>
<rect x="392" y="1263" width="30" height="34" fill="#a8a8a8" stroke="#000" stroke-width="4.5"/>
<text x="471" y="1209" font-size="56" stroke="#000" stroke-width="0.5" textLength="82.1" lengthAdjust="spacingAndGlyphs">6 h</text>
<text x="440.4" y="1254" font-size="56" stroke="#000" stroke-width="0.5" textLength="112.4" lengthAdjust="spacingAndGlyphs">12 h</text>
<text x="442.2" y="1299" font-size="56" stroke="#000" stroke-width="0.5" textLength="110.6" lengthAdjust="spacingAndGlyphs">24 h</text>
<line x1="1111.5" y1="1243" x2="1111.5" y2="1263" stroke="#000" stroke-width="5"/>
<line x1="1097.5" y1="1245.5" x2="1125.5" y2="1245.5" stroke="#000" stroke-width="5"/>
<rect x="1101.1" y="1265.5" width="20.9" height="186.5" fill="#fff" stroke="#000" stroke-width="5"/>
<rect x="1137" y="1242" width="29" height="210" fill="#000"/>
<line x1="1191.5" y1="1243" x2="1191.5" y2="1263" stroke="#000" stroke-width="5"/>
<line x1="1177.5" y1="1245.5" x2="1205.5" y2="1245.5" stroke="#000" stroke-width="5"/>
<rect x="1180.5" y="1265.5" width="22" height="186.5" fill="#a8a8a8" stroke="#000" stroke-width="5"/>
<line x1="1253.6" y1="1223" x2="1253.6" y2="1247" stroke="#000" stroke-width="5"/>
<line x1="1239.6" y1="1225.5" x2="1267.6" y2="1225.5" stroke="#000" stroke-width="5"/>
<rect x="1240.2" y="1249.5" width="26.7" height="202.5" fill="#fff" stroke="#000" stroke-width="5"/>
<line x1="1293.8" y1="1218" x2="1293.8" y2="1227" stroke="#000" stroke-width="5"/>
<line x1="1280.8" y1="1220.5" x2="1306.8" y2="1220.5" stroke="#000" stroke-width="5"/>
<rect x="1277" y="1227" width="33.6" height="225" fill="#000"/>
<line x1="1336.5" y1="1223" x2="1336.5" y2="1243" stroke="#000" stroke-width="5"/>
<line x1="1322.5" y1="1225.5" x2="1350.5" y2="1225.5" stroke="#000" stroke-width="5"/>
<rect x="1325.5" y="1245.5" width="22" height="206.5" fill="#a8a8a8" stroke="#000" stroke-width="5"/>
<line x1="1401.8" y1="1228" x2="1401.8" y2="1247" stroke="#000" stroke-width="5"/>
<line x1="1387.8" y1="1230.5" x2="1415.8" y2="1230.5" stroke="#000" stroke-width="5"/>
<rect x="1391.1" y="1249.5" width="21.4" height="202.5" fill="#fff" stroke="#000" stroke-width="5"/>
<line x1="1439.5" y1="1163" x2="1439.5" y2="1181" stroke="#000" stroke-width="5"/>
<line x1="1426.5" y1="1165.5" x2="1452.5" y2="1165.5" stroke="#000" stroke-width="5"/>
<rect x="1422" y="1181" width="35" height="271" fill="#000"/>
<line x1="1476.8" y1="1212.5" x2="1476.8" y2="1232" stroke="#000" stroke-width="5"/>
<line x1="1462.8" y1="1215" x2="1490.8" y2="1215" stroke="#000" stroke-width="5"/>
<rect x="1466" y="1234.5" width="21.5" height="217.5" fill="#a8a8a8" stroke="#000" stroke-width="5"/>
<path d="M1117 1164V1137.5H1484V1164" fill="none" stroke="#000" stroke-width="4.5"/>
<text x="1271.9" y="1150.6" font-size="56" fill="#333" stroke="#333" stroke-width="0.5" textLength="66.1" lengthAdjust="spacingAndGlyphs">***</text>
<text x="61.8" y="1520" font-size="56" stroke="#000" stroke-width="0.5" textLength="303.9" lengthAdjust="spacingAndGlyphs">TPA (ng/ml)</text>
<text x="57.8" y="1573" font-size="56" stroke="#000" stroke-width="0.5" textLength="307.9" lengthAdjust="spacingAndGlyphs">Iono (μg/ml)</text>
<text x="411.8" y="1520" font-size="56" stroke="#000" stroke-width="0.5" textLength="21.3" lengthAdjust="spacingAndGlyphs">-</text>
<text x="411.8" y="1573" font-size="56" stroke="#000" stroke-width="0.5" textLength="21.3" lengthAdjust="spacingAndGlyphs">-</text>
<text x="538.3" y="1520" font-size="56" stroke="#000" stroke-width="0.5">50</text>
<text x="557.1" y="1573" font-size="56" stroke="#000" stroke-width="0.5" textLength="21.3" lengthAdjust="spacingAndGlyphs">-</text>
<text x="667" y="1520" font-size="56" stroke="#000" stroke-width="0.5">100</text>
<text x="702.4" y="1573" font-size="56" stroke="#000" stroke-width="0.5" textLength="21.3" lengthAdjust="spacingAndGlyphs">-</text>
<text x="813.2" y="1520" font-size="56" stroke="#000" stroke-width="0.5">200</text>
<text x="847.6" y="1573" font-size="56" stroke="#000" stroke-width="0.5" textLength="21.3" lengthAdjust="spacingAndGlyphs">-</text>
<text x="992.9" y="1520" font-size="56" stroke="#000" stroke-width="0.5" textLength="21.3" lengthAdjust="spacingAndGlyphs">-</text>
<text x="958.7" y="1573" font-size="56" stroke="#000" stroke-width="0.5">500</text>
<text x="1119.4" y="1520" font-size="56" stroke="#000" stroke-width="0.5">50</text>
<text x="1104" y="1573" font-size="56" stroke="#000" stroke-width="0.5">500</text>
<text x="1248.2" y="1520" font-size="56" stroke="#000" stroke-width="0.5">100</text>
<text x="1249.3" y="1573" font-size="56" stroke="#000" stroke-width="0.5">500</text>
<text x="1394.3" y="1520" font-size="56" stroke="#000" stroke-width="0.5">200</text>
<text x="1394.6" y="1573" font-size="56" stroke="#000" stroke-width="0.5">500</text>
<rect x="352" y="1706" width="215" height="256" fill="none" stroke="#000" stroke-width="5"/>
<line x1="335" y1="1706" x2="352" y2="1706" stroke="#000" stroke-width="5"/>
<line x1="335" y1="1834" x2="352" y2="1834" stroke="#000" stroke-width="5"/>
<line x1="335" y1="1962" x2="352" y2="1962" stroke="#000" stroke-width="5"/>
<line x1="352" y1="1962" x2="352" y2="1979" stroke="#000" stroke-width="5"/>
<line x1="407" y1="1962" x2="407" y2="1979" stroke="#000" stroke-width="5"/>
<line x1="462" y1="1962" x2="462" y2="1979" stroke="#000" stroke-width="5"/>
<line x1="512" y1="1962" x2="512" y2="1979" stroke="#000" stroke-width="5"/>
<line x1="567" y1="1962" x2="567" y2="1979" stroke="#000" stroke-width="5"/>
<rect x="352" y="2027" width="215" height="255" fill="none" stroke="#000" stroke-width="5"/>
<line x1="335" y1="2027" x2="352" y2="2027" stroke="#000" stroke-width="5"/>
<line x1="335" y1="2154.5" x2="352" y2="2154.5" stroke="#000" stroke-width="5"/>
<line x1="335" y1="2282" x2="352" y2="2282" stroke="#000" stroke-width="5"/>
<line x1="352" y1="2282" x2="352" y2="2299" stroke="#000" stroke-width="5"/>
<line x1="407" y1="2282" x2="407" y2="2299" stroke="#000" stroke-width="5"/>
<line x1="462" y1="2282" x2="462" y2="2299" stroke="#000" stroke-width="5"/>
<line x1="512" y1="2282" x2="512" y2="2299" stroke="#000" stroke-width="5"/>
<line x1="567" y1="2282" x2="567" y2="2299" stroke="#000" stroke-width="5"/>
<rect x="352" y="2342" width="215" height="254.7" fill="none" stroke="#000" stroke-width="5"/>
<line x1="335" y1="2342" x2="352" y2="2342" stroke="#000" stroke-width="5"/>
<line x1="335" y1="2469.3" x2="352" y2="2469.3" stroke="#000" stroke-width="5"/>
<line x1="335" y1="2596.7" x2="352" y2="2596.7" stroke="#000" stroke-width="5"/>
<line x1="352" y1="2596.7" x2="352" y2="2613.7" stroke="#000" stroke-width="5"/>
<line x1="407" y1="2596.7" x2="407" y2="2613.7" stroke="#000" stroke-width="5"/>
<line x1="462" y1="2596.7" x2="462" y2="2613.7" stroke="#000" stroke-width="5"/>
<line x1="512" y1="2596.7" x2="512" y2="2613.7" stroke="#000" stroke-width="5"/>
<line x1="567" y1="2596.7" x2="567" y2="2613.7" stroke="#000" stroke-width="5"/>
<rect x="352" y="2666" width="215" height="249.5" fill="none" stroke="#000" stroke-width="5"/>
<line x1="335" y1="2666" x2="352" y2="2666" stroke="#000" stroke-width="5"/>
<line x1="335" y1="2790.8" x2="352" y2="2790.8" stroke="#000" stroke-width="5"/>
<line x1="335" y1="2915.5" x2="352" y2="2915.5" stroke="#000" stroke-width="5"/>
<line x1="352" y1="2915.5" x2="352" y2="2932.5" stroke="#000" stroke-width="5"/>
<line x1="407" y1="2915.5" x2="407" y2="2932.5" stroke="#000" stroke-width="5"/>
<line x1="462" y1="2915.5" x2="462" y2="2932.5" stroke="#000" stroke-width="5"/>
<line x1="512" y1="2915.5" x2="512" y2="2932.5" stroke="#000" stroke-width="5"/>
<line x1="567" y1="2915.5" x2="567" y2="2932.5" stroke="#000" stroke-width="5"/>
<rect x="622.5" y="1706" width="215.2" height="256" fill="none" stroke="#000" stroke-width="5"/>
<line x1="605.5" y1="1706" x2="622.5" y2="1706" stroke="#000" stroke-width="5"/>
<line x1="605.5" y1="1834" x2="622.5" y2="1834" stroke="#000" stroke-width="5"/>
<line x1="605.5" y1="1962" x2="622.5" y2="1962" stroke="#000" stroke-width="5"/>
<line x1="622.5" y1="1962" x2="622.5" y2="1979" stroke="#000" stroke-width="5"/>
<line x1="677" y1="1962" x2="677" y2="1979" stroke="#000" stroke-width="5"/>
<line x1="728" y1="1962" x2="728" y2="1979" stroke="#000" stroke-width="5"/>
<line x1="782.5" y1="1962" x2="782.5" y2="1979" stroke="#000" stroke-width="5"/>
<line x1="837.7" y1="1962" x2="837.7" y2="1979" stroke="#000" stroke-width="5"/>
<rect x="622.5" y="2027" width="215.2" height="255" fill="none" stroke="#000" stroke-width="5"/>
<line x1="605.5" y1="2027" x2="622.5" y2="2027" stroke="#000" stroke-width="5"/>
<line x1="605.5" y1="2154.5" x2="622.5" y2="2154.5" stroke="#000" stroke-width="5"/>
<line x1="605.5" y1="2282" x2="622.5" y2="2282" stroke="#000" stroke-width="5"/>
<line x1="622.5" y1="2282" x2="622.5" y2="2299" stroke="#000" stroke-width="5"/>
<line x1="677" y1="2282" x2="677" y2="2299" stroke="#000" stroke-width="5"/>
<line x1="728" y1="2282" x2="728" y2="2299" stroke="#000" stroke-width="5"/>
<line x1="782.5" y1="2282" x2="782.5" y2="2299" stroke="#000" stroke-width="5"/>
<line x1="837.7" y1="2282" x2="837.7" y2="2299" stroke="#000" stroke-width="5"/>
<rect x="622.5" y="2342" width="215.2" height="254.7" fill="none" stroke="#000" stroke-width="5"/>
<line x1="605.5" y1="2342" x2="622.5" y2="2342" stroke="#000" stroke-width="5"/>
<line x1="605.5" y1="2469.3" x2="622.5" y2="2469.3" stroke="#000" stroke-width="5"/>
<line x1="605.5" y1="2596.7" x2="622.5" y2="2596.7" stroke="#000" stroke-width="5"/>
<line x1="622.5" y1="2596.7" x2="622.5" y2="2613.7" stroke="#000" stroke-width="5"/>
<line x1="677" y1="2596.7" x2="677" y2="2613.7" stroke="#000" stroke-width="5"/>
<line x1="728" y1="2596.7" x2="728" y2="2613.7" stroke="#000" stroke-width="5"/>
<line x1="782.5" y1="2596.7" x2="782.5" y2="2613.7" stroke="#000" stroke-width="5"/>
<line x1="837.7" y1="2596.7" x2="837.7" y2="2613.7" stroke="#000" stroke-width="5"/>
<rect x="622.5" y="2666" width="215.2" height="249.5" fill="none" stroke="#000" stroke-width="5"/>
<line x1="605.5" y1="2666" x2="622.5" y2="2666" stroke="#000" stroke-width="5"/>
<line x1="605.5" y1="2790.8" x2="622.5" y2="2790.8" stroke="#000" stroke-width="5"/>
<line x1="605.5" y1="2915.5" x2="622.5" y2="2915.5" stroke="#000" stroke-width="5"/>
<line x1="622.5" y1="2915.5" x2="622.5" y2="2932.5" stroke="#000" stroke-width="5"/>
<line x1="677" y1="2915.5" x2="677" y2="2932.5" stroke="#000" stroke-width="5"/>
<line x1="728" y1="2915.5" x2="728" y2="2932.5" stroke="#000" stroke-width="5"/>
<line x1="782.5" y1="2915.5" x2="782.5" y2="2932.5" stroke="#000" stroke-width="5"/>
<line x1="837.7" y1="2915.5" x2="837.7" y2="2932.5" stroke="#000" stroke-width="5"/>
<rect x="898" y="1706" width="215.6" height="256" fill="none" stroke="#000" stroke-width="5"/>
<line x1="881" y1="1706" x2="898" y2="1706" stroke="#000" stroke-width="5"/>
<line x1="881" y1="1834" x2="898" y2="1834" stroke="#000" stroke-width="5"/>
<line x1="881" y1="1962" x2="898" y2="1962" stroke="#000" stroke-width="5"/>
<line x1="898" y1="1962" x2="898" y2="1979" stroke="#000" stroke-width="5"/>
<line x1="948" y1="1962" x2="948" y2="1979" stroke="#000" stroke-width="5"/>
<line x1="1003" y1="1962" x2="1003" y2="1979" stroke="#000" stroke-width="5"/>
<line x1="1058" y1="1962" x2="1058" y2="1979" stroke="#000" stroke-width="5"/>
<line x1="1113.6" y1="1962" x2="1113.6" y2="1979" stroke="#000" stroke-width="5"/>
<rect x="898" y="2027" width="215.6" height="255" fill="none" stroke="#000" stroke-width="5"/>
<line x1="881" y1="2027" x2="898" y2="2027" stroke="#000" stroke-width="5"/>
<line x1="881" y1="2154.5" x2="898" y2="2154.5" stroke="#000" stroke-width="5"/>
<line x1="881" y1="2282" x2="898" y2="2282" stroke="#000" stroke-width="5"/>
<line x1="898" y1="2282" x2="898" y2="2299" stroke="#000" stroke-width="5"/>
<line x1="948" y1="2282" x2="948" y2="2299" stroke="#000" stroke-width="5"/>
<line x1="1003" y1="2282" x2="1003" y2="2299" stroke="#000" stroke-width="5"/>
<line x1="1058" y1="2282" x2="1058" y2="2299" stroke="#000" stroke-width="5"/>
<line x1="1113.6" y1="2282" x2="1113.6" y2="2299" stroke="#000" stroke-width="5"/>
<rect x="898" y="2342" width="215.6" height="254.7" fill="none" stroke="#000" stroke-width="5"/>
<line x1="881" y1="2342" x2="898" y2="2342" stroke="#000" stroke-width="5"/>
<line x1="881" y1="2469.3" x2="898" y2="2469.3" stroke="#000" stroke-width="5"/>
<line x1="881" y1="2596.7" x2="898" y2="2596.7" stroke="#000" stroke-width="5"/>
<line x1="898" y1="2596.7" x2="898" y2="2613.7" stroke="#000" stroke-width="5"/>
<line x1="948" y1="2596.7" x2="948" y2="2613.7" stroke="#000" stroke-width="5"/>
<line x1="1003" y1="2596.7" x2="1003" y2="2613.7" stroke="#000" stroke-width="5"/>
<line x1="1058" y1="2596.7" x2="1058" y2="2613.7" stroke="#000" stroke-width="5"/>
<line x1="1113.6" y1="2596.7" x2="1113.6" y2="2613.7" stroke="#000" stroke-width="5"/>
<rect x="898" y="2666" width="215.6" height="249.5" fill="none" stroke="#000" stroke-width="5"/>
<line x1="881" y1="2666" x2="898" y2="2666" stroke="#000" stroke-width="5"/>
<line x1="881" y1="2790.8" x2="898" y2="2790.8" stroke="#000" stroke-width="5"/>
<line x1="881" y1="2915.5" x2="898" y2="2915.5" stroke="#000" stroke-width="5"/>
<line x1="898" y1="2915.5" x2="898" y2="2932.5" stroke="#000" stroke-width="5"/>
<line x1="948" y1="2915.5" x2="948" y2="2932.5" stroke="#000" stroke-width="5"/>
<line x1="1003" y1="2915.5" x2="1003" y2="2932.5" stroke="#000" stroke-width="5"/>
<line x1="1058" y1="2915.5" x2="1058" y2="2932.5" stroke="#000" stroke-width="5"/>
<line x1="1113.6" y1="2915.5" x2="1113.6" y2="2932.5" stroke="#000" stroke-width="5"/>
<rect x="1484.5" y="1702" width="267.5" height="254.5" fill="none" stroke="#000" stroke-width="5"/>
<line x1="1466.5" y1="1702" x2="1484.5" y2="1702" stroke="#000" stroke-width="5"/>
<line x1="1466.5" y1="1829.2" x2="1484.5" y2="1829.2" stroke="#000" stroke-width="5"/>
<line x1="1466.5" y1="1956.5" x2="1484.5" y2="1956.5" stroke="#000" stroke-width="5"/>
<line x1="1484.5" y1="1956.5" x2="1484.5" y2="1973.5" stroke="#000" stroke-width="5"/>
<line x1="1539" y1="1956.5" x2="1539" y2="1973.5" stroke="#000" stroke-width="5"/>
<line x1="1591.5" y1="1956.5" x2="1591.5" y2="1973.5" stroke="#000" stroke-width="5"/>
<line x1="1644.5" y1="1956.5" x2="1644.5" y2="1973.5" stroke="#000" stroke-width="5"/>
<line x1="1697" y1="1956.5" x2="1697" y2="1973.5" stroke="#000" stroke-width="5"/>
<line x1="1752" y1="1956.5" x2="1752" y2="1973.5" stroke="#000" stroke-width="5"/>
<rect x="1484.5" y="2021.5" width="267.5" height="255.5" fill="none" stroke="#000" stroke-width="5"/>
<line x1="1466.5" y1="2021.5" x2="1484.5" y2="2021.5" stroke="#000" stroke-width="5"/>
<line x1="1466.5" y1="2149.2" x2="1484.5" y2="2149.2" stroke="#000" stroke-width="5"/>
<line x1="1466.5" y1="2277" x2="1484.5" y2="2277" stroke="#000" stroke-width="5"/>
<line x1="1484.5" y1="2277" x2="1484.5" y2="2294" stroke="#000" stroke-width="5"/>
<line x1="1539" y1="2277" x2="1539" y2="2294" stroke="#000" stroke-width="5"/>
<line x1="1591.5" y1="2277" x2="1591.5" y2="2294" stroke="#000" stroke-width="5"/>
<line x1="1644.5" y1="2277" x2="1644.5" y2="2294" stroke="#000" stroke-width="5"/>
<line x1="1697" y1="2277" x2="1697" y2="2294" stroke="#000" stroke-width="5"/>
<line x1="1752" y1="2277" x2="1752" y2="2294" stroke="#000" stroke-width="5"/>
<rect x="1484.5" y="2339" width="267.5" height="257.5" fill="none" stroke="#000" stroke-width="5"/>
<line x1="1466.5" y1="2339" x2="1484.5" y2="2339" stroke="#000" stroke-width="5"/>
<line x1="1466.5" y1="2467.8" x2="1484.5" y2="2467.8" stroke="#000" stroke-width="5"/>
<line x1="1466.5" y1="2596.5" x2="1484.5" y2="2596.5" stroke="#000" stroke-width="5"/>
<line x1="1484.5" y1="2596.5" x2="1484.5" y2="2613.5" stroke="#000" stroke-width="5"/>
<line x1="1539" y1="2596.5" x2="1539" y2="2613.5" stroke="#000" stroke-width="5"/>
<line x1="1591.5" y1="2596.5" x2="1591.5" y2="2613.5" stroke="#000" stroke-width="5"/>
<line x1="1644.5" y1="2596.5" x2="1644.5" y2="2613.5" stroke="#000" stroke-width="5"/>
<line x1="1697" y1="2596.5" x2="1697" y2="2613.5" stroke="#000" stroke-width="5"/>
<line x1="1752" y1="2596.5" x2="1752" y2="2613.5" stroke="#000" stroke-width="5"/>
<rect x="1484.5" y="2661.5" width="267.5" height="254" fill="none" stroke="#000" stroke-width="5"/>
<line x1="1466.5" y1="2661.5" x2="1484.5" y2="2661.5" stroke="#000" stroke-width="5"/>
<line x1="1466.5" y1="2788.5" x2="1484.5" y2="2788.5" stroke="#000" stroke-width="5"/>
<line x1="1466.5" y1="2915.5" x2="1484.5" y2="2915.5" stroke="#000" stroke-width="5"/>
<line x1="1484.5" y1="2915.5" x2="1484.5" y2="2932.5" stroke="#000" stroke-width="5"/>
<line x1="1539" y1="2915.5" x2="1539" y2="2932.5" stroke="#000" stroke-width="5"/>
<line x1="1591.5" y1="2915.5" x2="1591.5" y2="2932.5" stroke="#000" stroke-width="5"/>
<line x1="1644.5" y1="2915.5" x2="1644.5" y2="2932.5" stroke="#000" stroke-width="5"/>
<line x1="1697" y1="2915.5" x2="1697" y2="2932.5" stroke="#000" stroke-width="5"/>
<line x1="1752" y1="2915.5" x2="1752" y2="2932.5" stroke="#000" stroke-width="5"/>
<rect x="1800" y="1702" width="270.5" height="254.5" fill="none" stroke="#000" stroke-width="5"/>
<line x1="1782" y1="1702" x2="1800" y2="1702" stroke="#000" stroke-width="5"/>
<line x1="1782" y1="1829.2" x2="1800" y2="1829.2" stroke="#000" stroke-width="5"/>
<line x1="1782" y1="1956.5" x2="1800" y2="1956.5" stroke="#000" stroke-width="5"/>
<line x1="1800" y1="1956.5" x2="1800" y2="1973.5" stroke="#000" stroke-width="5"/>
<line x1="1855" y1="1956.5" x2="1855" y2="1973.5" stroke="#000" stroke-width="5"/>
<line x1="1910" y1="1956.5" x2="1910" y2="1973.5" stroke="#000" stroke-width="5"/>
<line x1="1962.5" y1="1956.5" x2="1962.5" y2="1973.5" stroke="#000" stroke-width="5"/>
<line x1="2015" y1="1956.5" x2="2015" y2="1973.5" stroke="#000" stroke-width="5"/>
<line x1="2070.5" y1="1956.5" x2="2070.5" y2="1973.5" stroke="#000" stroke-width="5"/>
<rect x="1800" y="2021.5" width="270.5" height="255.5" fill="none" stroke="#000" stroke-width="5"/>
<line x1="1782" y1="2021.5" x2="1800" y2="2021.5" stroke="#000" stroke-width="5"/>
<line x1="1782" y1="2149.2" x2="1800" y2="2149.2" stroke="#000" stroke-width="5"/>
<line x1="1782" y1="2277" x2="1800" y2="2277" stroke="#000" stroke-width="5"/>
<line x1="1800" y1="2277" x2="1800" y2="2294" stroke="#000" stroke-width="5"/>
<line x1="1855" y1="2277" x2="1855" y2="2294" stroke="#000" stroke-width="5"/>
<line x1="1910" y1="2277" x2="1910" y2="2294" stroke="#000" stroke-width="5"/>
<line x1="1962.5" y1="2277" x2="1962.5" y2="2294" stroke="#000" stroke-width="5"/>
<line x1="2015" y1="2277" x2="2015" y2="2294" stroke="#000" stroke-width="5"/>
<line x1="2070.5" y1="2277" x2="2070.5" y2="2294" stroke="#000" stroke-width="5"/>
<rect x="1800" y="2339" width="270.5" height="257.5" fill="none" stroke="#000" stroke-width="5"/>
<line x1="1782" y1="2339" x2="1800" y2="2339" stroke="#000" stroke-width="5"/>
<line x1="1782" y1="2467.8" x2="1800" y2="2467.8" stroke="#000" stroke-width="5"/>
<line x1="1782" y1="2596.5" x2="1800" y2="2596.5" stroke="#000" stroke-width="5"/>
<line x1="1800" y1="2596.5" x2="1800" y2="2613.5" stroke="#000" stroke-width="5"/>
<line x1="1855" y1="2596.5" x2="1855" y2="2613.5" stroke="#000" stroke-width="5"/>
<line x1="1910" y1="2596.5" x2="1910" y2="2613.5" stroke="#000" stroke-width="5"/>
<line x1="1962.5" y1="2596.5" x2="1962.5" y2="2613.5" stroke="#000" stroke-width="5"/>
<line x1="2015" y1="2596.5" x2="2015" y2="2613.5" stroke="#000" stroke-width="5"/>
<line x1="2070.5" y1="2596.5" x2="2070.5" y2="2613.5" stroke="#000" stroke-width="5"/>
<rect x="1800" y="2661.5" width="270.5" height="254" fill="none" stroke="#000" stroke-width="5"/>
<line x1="1782" y1="2661.5" x2="1800" y2="2661.5" stroke="#000" stroke-width="5"/>
<line x1="1782" y1="2788.5" x2="1800" y2="2788.5" stroke="#000" stroke-width="5"/>
<line x1="1782" y1="2915.5" x2="1800" y2="2915.5" stroke="#000" stroke-width="5"/>
<line x1="1800" y1="2915.5" x2="1800" y2="2932.5" stroke="#000" stroke-width="5"/>
<line x1="1855" y1="2915.5" x2="1855" y2="2932.5" stroke="#000" stroke-width="5"/>
<line x1="1910" y1="2915.5" x2="1910" y2="2932.5" stroke="#000" stroke-width="5"/>
<line x1="1962.5" y1="2915.5" x2="1962.5" y2="2932.5" stroke="#000" stroke-width="5"/>
<line x1="2015" y1="2915.5" x2="2015" y2="2932.5" stroke="#000" stroke-width="5"/>
<line x1="2070.5" y1="2915.5" x2="2070.5" y2="2932.5" stroke="#000" stroke-width="5"/>
<rect x="2115.8" y="1702" width="271.2" height="254.5" fill="none" stroke="#000" stroke-width="5"/>
<line x1="2097.8" y1="1702" x2="2115.8" y2="1702" stroke="#000" stroke-width="5"/>
<line x1="2097.8" y1="1829.2" x2="2115.8" y2="1829.2" stroke="#000" stroke-width="5"/>
<line x1="2097.8" y1="1956.5" x2="2115.8" y2="1956.5" stroke="#000" stroke-width="5"/>
<line x1="2115.8" y1="1956.5" x2="2115.8" y2="1973.5" stroke="#000" stroke-width="5"/>
<line x1="2170.7" y1="1956.5" x2="2170.7" y2="1973.5" stroke="#000" stroke-width="5"/>
<line x1="2226" y1="1956.5" x2="2226" y2="1973.5" stroke="#000" stroke-width="5"/>
<line x1="2276" y1="1956.5" x2="2276" y2="1973.5" stroke="#000" stroke-width="5"/>
<line x1="2331" y1="1956.5" x2="2331" y2="1973.5" stroke="#000" stroke-width="5"/>
<line x1="2387" y1="1956.5" x2="2387" y2="1973.5" stroke="#000" stroke-width="5"/>
<rect x="2115.8" y="2021.5" width="271.2" height="255.5" fill="none" stroke="#000" stroke-width="5"/>
<line x1="2097.8" y1="2021.5" x2="2115.8" y2="2021.5" stroke="#000" stroke-width="5"/>
<line x1="2097.8" y1="2149.2" x2="2115.8" y2="2149.2" stroke="#000" stroke-width="5"/>
<line x1="2097.8" y1="2277" x2="2115.8" y2="2277" stroke="#000" stroke-width="5"/>
<line x1="2115.8" y1="2277" x2="2115.8" y2="2294" stroke="#000" stroke-width="5"/>
<line x1="2170.7" y1="2277" x2="2170.7" y2="2294" stroke="#000" stroke-width="5"/>
<line x1="2226" y1="2277" x2="2226" y2="2294" stroke="#000" stroke-width="5"/>
<line x1="2276" y1="2277" x2="2276" y2="2294" stroke="#000" stroke-width="5"/>
<line x1="2331" y1="2277" x2="2331" y2="2294" stroke="#000" stroke-width="5"/>
<line x1="2387" y1="2277" x2="2387" y2="2294" stroke="#000" stroke-width="5"/>
<rect x="2115.8" y="2339" width="271.2" height="257.5" fill="none" stroke="#000" stroke-width="5"/>
<line x1="2097.8" y1="2339" x2="2115.8" y2="2339" stroke="#000" stroke-width="5"/>
<line x1="2097.8" y1="2467.8" x2="2115.8" y2="2467.8" stroke="#000" stroke-width="5"/>
<line x1="2097.8" y1="2596.5" x2="2115.8" y2="2596.5" stroke="#000" stroke-width="5"/>
<line x1="2115.8" y1="2596.5" x2="2115.8" y2="2613.5" stroke="#000" stroke-width="5"/>
<line x1="2170.7" y1="2596.5" x2="2170.7" y2="2613.5" stroke="#000" stroke-width="5"/>
<line x1="2226" y1="2596.5" x2="2226" y2="2613.5" stroke="#000" stroke-width="5"/>
<line x1="2276" y1="2596.5" x2="2276" y2="2613.5" stroke="#000" stroke-width="5"/>
<line x1="2331" y1="2596.5" x2="2331" y2="2613.5" stroke="#000" stroke-width="5"/>
<line x1="2387" y1="2596.5" x2="2387" y2="2613.5" stroke="#000" stroke-width="5"/>
<rect x="2115.8" y="2661.5" width="271.2" height="254" fill="none" stroke="#000" stroke-width="5"/>
<line x1="2097.8" y1="2661.5" x2="2115.8" y2="2661.5" stroke="#000" stroke-width="5"/>
<line x1="2097.8" y1="2788.5" x2="2115.8" y2="2788.5" stroke="#000" stroke-width="5"/>
<line x1="2097.8" y1="2915.5" x2="2115.8" y2="2915.5" stroke="#000" stroke-width="5"/>
<line x1="2115.8" y1="2915.5" x2="2115.8" y2="2932.5" stroke="#000" stroke-width="5"/>
<line x1="2170.7" y1="2915.5" x2="2170.7" y2="2932.5" stroke="#000" stroke-width="5"/>
<line x1="2226" y1="2915.5" x2="2226" y2="2932.5" stroke="#000" stroke-width="5"/>
<line x1="2276" y1="2915.5" x2="2276" y2="2932.5" stroke="#000" stroke-width="5"/>
<line x1="2331" y1="2915.5" x2="2331" y2="2932.5" stroke="#000" stroke-width="5"/>
<line x1="2387" y1="2915.5" x2="2387" y2="2932.5" stroke="#000" stroke-width="5"/>
<text x="205.4" y="1727.3" font-size="56" stroke="#000" stroke-width="0.5">2000</text>
<text x="205.4" y="1855.3" font-size="56" stroke="#000" stroke-width="0.5">1000</text>
<text x="298.9" y="1983.3" font-size="56" stroke="#000" stroke-width="0.5">0</text>
<text x="205.4" y="2048.3" font-size="56" stroke="#000" stroke-width="0.5">3000</text>
<text x="205.4" y="2175.8" font-size="56" stroke="#000" stroke-width="0.5">1500</text>
<text x="298.9" y="2303.3" font-size="56" stroke="#000" stroke-width="0.5">0</text>
<text x="174.6" y="2363.3" font-size="56" stroke="#000" stroke-width="0.5">10000</text>
<text x="205.4" y="2490.7" font-size="56" stroke="#000" stroke-width="0.5">5000</text>
<text x="298.9" y="2618" font-size="56" stroke="#000" stroke-width="0.5">0</text>
<text x="299.4" y="2687.6" font-size="56" stroke="#000" stroke-width="0.5">2</text>
<text x="299.4" y="2812.1" font-size="56" stroke="#000" stroke-width="0.5">1</text>
<text x="298.9" y="2936.8" font-size="56" stroke="#000" stroke-width="0.5">0</text>
<text x="1333" y="1723.8" font-size="56" stroke="#000" stroke-width="0.5">2000</text>
<text x="1333" y="1851.1" font-size="56" stroke="#000" stroke-width="0.5">1000</text>
<text x="1426.5" y="1978.3" font-size="56" stroke="#000" stroke-width="0.5">0</text>
<text x="1333" y="2043.3" font-size="56" stroke="#000" stroke-width="0.5">3000</text>
<text x="1333" y="2171.1" font-size="56" stroke="#000" stroke-width="0.5">1500</text>
<text x="1426.5" y="2298.8" font-size="56" stroke="#000" stroke-width="0.5">0</text>
<text x="1333" y="2360.8" font-size="56" stroke="#000" stroke-width="0.5">8000</text>
<text x="1333" y="2489.6" font-size="56" stroke="#000" stroke-width="0.5">4000</text>
<text x="1426.5" y="2618.3" font-size="56" stroke="#000" stroke-width="0.5">0</text>
<text x="1427" y="2683.6" font-size="56" stroke="#000" stroke-width="0.5">2</text>
<text x="1427" y="2810.3" font-size="56" stroke="#000" stroke-width="0.5">1</text>
<text x="1426.5" y="2937.3" font-size="56" stroke="#000" stroke-width="0.5">0</text>
<text x="387.5" y="1688.4" font-size="56" stroke="#000" stroke-width="0.5" textLength="134.8" lengthAdjust="spacingAndGlyphs">No. 1</text>
<text x="652.3" y="1688.4" font-size="56" stroke="#000" stroke-width="0.5" textLength="140.7" lengthAdjust="spacingAndGlyphs">No. 2</text>
<text x="930.2" y="1688.4" font-size="56" stroke="#000" stroke-width="0.5" textLength="142.8" lengthAdjust="spacingAndGlyphs">No. 3</text>
<text x="1547.4" y="1694.4" font-size="56" stroke="#000" stroke-width="0.5" textLength="136.1" lengthAdjust="spacingAndGlyphs">No. 1</text>
<text x="1861.2" y="1694.4" font-size="56" stroke="#000" stroke-width="0.5" textLength="144.2" lengthAdjust="spacingAndGlyphs">No. 2</text>
<text x="2180" y="1694.4" font-size="56" stroke="#000" stroke-width="0.5" textLength="139.9" lengthAdjust="spacingAndGlyphs">No. 3</text>
<text transform="translate(105.8 1914.8) rotate(-90) scale(1.0205 1.0813)" font-size="56" fill="#000" stroke="#000" stroke-width="0.5">IFN-γ</text>
<text transform="translate(172.7 1923.5) rotate(-90) scale(1.0452 1.1329)" font-size="56" fill="#000" stroke="#000" stroke-width="0.4">(pg/ml)</text>
<text transform="translate(104.4 2244.8) rotate(-90) scale(1.0365 1.0969)" font-size="56" fill="#000" stroke="#000" stroke-width="0.5">TNF-α</text>
<text transform="translate(172.7 2245.5) rotate(-90) scale(1.0511 1.1329)" font-size="56" fill="#000" stroke="#000" stroke-width="0.4">(pg/ml)</text>
<text transform="translate(107.5 2526.2) rotate(-90) scale(1.0389 1.1735)" font-size="56" fill="#000" stroke="#000" stroke-width="0.4">IL-2</text>
<text transform="translate(172.7 2559.1) rotate(-90) scale(1.0308 1.1329)" font-size="56" fill="#000" stroke="#000" stroke-width="0.4">(pg/ml)</text>
<text transform="translate(107.5 2851.7) rotate(-90) scale(1.0578 1.1905)" font-size="56" fill="#000" stroke="#000" stroke-width="0.4">LDH</text>
<text transform="translate(172.4 2892.5) rotate(-90) scale(1.0135 1.0519)" font-size="56" fill="#000" stroke="#000" stroke-width="0.5">Ratio to</text>
<text transform="translate(242.4 2869.8) rotate(-90) scale(1.0129 1.0519)" font-size="56" fill="#000" stroke="#000" stroke-width="0.5">control</text>
<text transform="translate(1241.4 1909.5) rotate(-90) scale(0.9840 1.0714)" font-size="56" fill="#000" stroke="#000" stroke-width="0.5">IFN-γ</text>
<text transform="translate(1306.6 1927.9) rotate(-90) scale(1.0446 1.0561)" font-size="56" fill="#000" stroke="#000" stroke-width="0.5">(pg/ml)</text>
<text transform="translate(1237.5 2244.1) rotate(-90) scale(0.9977 0.9694)" font-size="56" fill="#000" stroke="#000" stroke-width="0.5">TNF-α</text>
<text transform="translate(1306.6 2248.5) rotate(-90) scale(1.0452 1.0561)" font-size="56" fill="#000" stroke="#000" stroke-width="0.5">(pg/ml)</text>
<text transform="translate(1238 2532.2) rotate(-90) scale(1.0366 0.9694)" font-size="56" fill="#000" stroke="#000" stroke-width="0.5">IL-2</text>
<text transform="translate(1306.6 2562.5) rotate(-90) scale(1.0302 1.0561)" font-size="56" fill="#000" stroke="#000" stroke-width="0.5">(pg/ml)</text>
<text transform="translate(1238 2853.5) rotate(-90) scale(1.0743 0.9834)" font-size="56" fill="#000" stroke="#000" stroke-width="0.5">LDH</text>
<text transform="translate(1310.4 2891.5) rotate(-90) scale(1.0135 1.0837)" font-size="56" fill="#000" stroke="#000" stroke-width="0.5">Ratio to</text>
<text transform="translate(1376.4 2871.3) rotate(-90) scale(1.0283 1.0763)" font-size="56" fill="#000" stroke="#000" stroke-width="0.5">control</text>
<rect x="410" y="1957" width="43.7" height="5" fill="#000"/>
<rect x="465" y="1957" width="39.6" height="5" fill="#000"/>
<line x1="540" y1="1825" x2="540" y2="1830.5" stroke="#000" stroke-width="5"/>
<line x1="530" y1="1827.5" x2="550" y2="1827.5" stroke="#000" stroke-width="5"/>
<rect x="520" y="1830.5" width="40" height="131.5" fill="#000"/>
<rect x="375" y="1955" width="9" height="7" fill="#000"/>
<line x1="808.8" y1="1760.8" x2="808.8" y2="1770.7" stroke="#000" stroke-width="5"/>
<line x1="798.8" y1="1763.3" x2="818.8" y2="1763.3" stroke="#000" stroke-width="5"/>
<rect x="787" y="1770.7" width="43.5" height="191.3" fill="#000"/>
<rect x="640" y="1955" width="15" height="7" fill="#000"/>
<rect x="1065.7" y="1885" width="39.6" height="77" fill="#000"/>
<rect x="410" y="2277" width="43.7" height="5" fill="#000"/>
<rect x="465" y="2277" width="39.6" height="5" fill="#000"/>
<rect x="520" y="2164.5" width="40" height="117.5" fill="#000"/>
<rect x="685" y="2277" width="39.7" height="5" fill="#000"/>
<line x1="808.8" y1="2057" x2="808.8" y2="2075" stroke="#000" stroke-width="5"/>
<line x1="798.8" y1="2059.5" x2="818.8" y2="2059.5" stroke="#000" stroke-width="5"/>
<rect x="787" y="2075" width="43.5" height="207" fill="#000"/>
<rect x="1065.7" y="2050" width="39.6" height="232" fill="#000"/>
<line x1="540" y1="2420" x2="540" y2="2424" stroke="#000" stroke-width="5"/>
<line x1="530" y1="2422.5" x2="550" y2="2422.5" stroke="#000" stroke-width="5"/>
<rect x="520" y="2424" width="40" height="172.7" fill="#000"/>
<line x1="808.8" y1="2396" x2="808.8" y2="2409.7" stroke="#000" stroke-width="5"/>
<line x1="798.8" y1="2398.5" x2="818.8" y2="2398.5" stroke="#000" stroke-width="5"/>
<rect x="787" y="2409.7" width="43.5" height="187" fill="#000"/>
<line x1="1085.5" y1="2420" x2="1085.5" y2="2424.7" stroke="#000" stroke-width="5"/>
<line x1="1075.5" y1="2422.5" x2="1095.5" y2="2422.5" stroke="#000" stroke-width="5"/>
<rect x="1065.7" y="2424.7" width="39.6" height="172" fill="#000"/>
<line x1="379.5" y1="2780.5" x2="379.5" y2="2789.5" stroke="#000" stroke-width="5"/>
<line x1="369.5" y1="2783" x2="389.5" y2="2783" stroke="#000" stroke-width="5"/>
<rect x="360" y="2789.5" width="39" height="126" fill="#000"/>
<line x1="431.9" y1="2790" x2="431.9" y2="2794.4" stroke="#000" stroke-width="5"/>
<line x1="421.9" y1="2792.5" x2="441.9" y2="2792.5" stroke="#000" stroke-width="5"/>
<rect x="410" y="2794.4" width="43.7" height="121.1" fill="#000"/>
<line x1="484.8" y1="2795" x2="484.8" y2="2799" stroke="#000" stroke-width="5"/>
<line x1="474.8" y1="2797.5" x2="494.8" y2="2797.5" stroke="#000" stroke-width="5"/>
<rect x="465" y="2799" width="39.6" height="116.5" fill="#000"/>
<line x1="540" y1="2771" x2="540" y2="2784.6" stroke="#000" stroke-width="5"/>
<line x1="530" y1="2773.5" x2="550" y2="2773.5" stroke="#000" stroke-width="5"/>
<rect x="520" y="2784.6" width="40" height="130.9" fill="#000"/>
<line x1="651.2" y1="2785" x2="651.2" y2="2789.6" stroke="#000" stroke-width="5"/>
<line x1="641.2" y1="2787.5" x2="661.2" y2="2787.5" stroke="#000" stroke-width="5"/>
<rect x="627.5" y="2789.6" width="47.5" height="125.9" fill="#000"/>
<rect x="685" y="2784.4" width="39.7" height="131.1" fill="#000"/>
<rect x="740.5" y="2789.6" width="34.9" height="125.9" fill="#000"/>
<line x1="808.8" y1="2790" x2="808.8" y2="2794.7" stroke="#000" stroke-width="5"/>
<line x1="798.8" y1="2792.5" x2="818.8" y2="2792.5" stroke="#000" stroke-width="5"/>
<rect x="787" y="2794.7" width="43.5" height="120.8" fill="#000"/>
<line x1="920.9" y1="2785" x2="920.9" y2="2789.6" stroke="#000" stroke-width="5"/>
<line x1="910.9" y1="2787.5" x2="930.9" y2="2787.5" stroke="#000" stroke-width="5"/>
<rect x="901" y="2789.6" width="39.8" height="125.9" fill="#000"/>
<line x1="975.6" y1="2790" x2="975.6" y2="2794.7" stroke="#000" stroke-width="5"/>
<line x1="965.6" y1="2792.5" x2="985.6" y2="2792.5" stroke="#000" stroke-width="5"/>
<rect x="955.8" y="2794.7" width="39.7" height="120.8" fill="#000"/>
<line x1="1030.8" y1="2760.6" x2="1030.8" y2="2779.7" stroke="#000" stroke-width="5"/>
<line x1="1020.8" y1="2763.1" x2="1040.8" y2="2763.1" stroke="#000" stroke-width="5"/>
<rect x="1011" y="2779.7" width="39.6" height="135.8" fill="#000"/>
<line x1="1085.5" y1="2775" x2="1085.5" y2="2784.4" stroke="#000" stroke-width="5"/>
<line x1="1075.5" y1="2777.5" x2="1095.5" y2="2777.5" stroke="#000" stroke-width="5"/>
<rect x="1065.7" y="2784.4" width="39.6" height="131.1" fill="#000"/>
<text x="489.9" y="1841.6" font-size="56" fill="#333" stroke="#333" stroke-width="0.5">***</text>
<text x="752.8" y="1773.6" font-size="56" fill="#333" stroke="#333" stroke-width="0.5" textLength="68.2" lengthAdjust="spacingAndGlyphs">***</text>
<text x="1034.9" y="1889.1" font-size="56" fill="#333" stroke="#333" stroke-width="0.5" textLength="66.1" lengthAdjust="spacingAndGlyphs">***</text>
<text x="489.9" y="2177.6" font-size="56" fill="#333" stroke="#333" stroke-width="0.5">***</text>
<text x="728.8" y="2078.6" font-size="56" fill="#333" stroke="#333" stroke-width="0.5" textLength="67.2" lengthAdjust="spacingAndGlyphs">***</text>
<text x="994.3" y="2078.6" font-size="56" fill="#333" stroke="#333" stroke-width="0.5" textLength="67.7" lengthAdjust="spacingAndGlyphs">***</text>
<text x="488.9" y="2430.1" font-size="56" fill="#333" stroke="#333" stroke-width="0.5" textLength="66.1" lengthAdjust="spacingAndGlyphs">***</text>
<text x="754.5" y="2403.6" font-size="56" fill="#333" stroke="#333" stroke-width="0.5" textLength="66.5" lengthAdjust="spacingAndGlyphs">***</text>
<text x="1034.9" y="2429.6" font-size="56" fill="#333" stroke="#333" stroke-width="0.5">***</text>
<path d="M380 2757V2732H541.5V2757" fill="none" stroke="#808080" stroke-width="7"/>
<text x="429.5" y="2721.4" font-size="56" stroke="#000" stroke-width="0.5">ns</text>
<path d="M652 2757V2732H812.7V2757" fill="none" stroke="#808080" stroke-width="7"/>
<text x="700" y="2721.4" font-size="56" stroke="#000" stroke-width="0.5">ns</text>
<path d="M925.7 2757V2732H1085.5V2757" fill="none" stroke="#808080" stroke-width="7"/>
<text x="975.5" y="2721.4" font-size="56" stroke="#000" stroke-width="0.5">ns</text>
<line x1="1562" y1="1816" x2="1562" y2="1826" stroke="#000" stroke-width="5"/>
<line x1="1552" y1="1818.5" x2="1572" y2="1818.5" stroke="#000" stroke-width="5"/>
<rect x="1542" y="1826" width="40" height="130.5" fill="#000"/>
<rect x="1597.5" y="1940.4" width="39.8" height="16.1" fill="#000"/>
<rect x="1652.5" y="1930" width="39.5" height="26.5" fill="#000"/>
<rect x="1702.8" y="1947" width="40.2" height="9.5" fill="#000"/>
<line x1="1882.7" y1="1761.5" x2="1882.7" y2="1770" stroke="#000" stroke-width="5"/>
<line x1="1872.7" y1="1764" x2="1892.7" y2="1764" stroke="#000" stroke-width="5"/>
<rect x="1863.4" y="1770" width="38.6" height="186.5" fill="#000"/>
<line x1="1937.9" y1="1935.8" x2="1937.9" y2="1940.6" stroke="#000" stroke-width="5"/>
<line x1="1927.9" y1="1938.3" x2="1947.9" y2="1938.3" stroke="#000" stroke-width="5"/>
<rect x="1918.3" y="1940.6" width="39.2" height="15.9" fill="#000"/>
<rect x="1968.4" y="1940.6" width="40.6" height="15.9" fill="#000"/>
<rect x="2023.7" y="1948.6" width="39.6" height="7.9" fill="#000"/>
<line x1="2194" y1="1816" x2="2194" y2="1825" stroke="#000" stroke-width="5"/>
<line x1="2184" y1="1818.5" x2="2204" y2="1818.5" stroke="#000" stroke-width="5"/>
<rect x="2174" y="1825" width="40" height="131.5" fill="#000"/>
<rect x="2228.8" y="1929.8" width="40.2" height="26.7" fill="#000"/>
<rect x="2284" y="1939.8" width="40" height="16.7" fill="#000"/>
<rect x="2334.2" y="1948" width="44.8" height="8.5" fill="#000"/>
<rect x="1542" y="2154.7" width="40" height="122.3" fill="#000"/>
<rect x="1597.5" y="2259" width="39.8" height="18" fill="#000"/>
<line x1="1672.2" y1="2170" x2="1672.2" y2="2174.8" stroke="#000" stroke-width="5"/>
<line x1="1662.2" y1="2172.5" x2="1682.2" y2="2172.5" stroke="#000" stroke-width="5"/>
<rect x="1652.5" y="2174.8" width="39.5" height="102.2" fill="#000"/>
<rect x="1702.8" y="2268" width="40.2" height="9" fill="#000"/>
<line x1="1882.7" y1="2130" x2="1882.7" y2="2134" stroke="#000" stroke-width="5"/>
<line x1="1872.7" y1="2132.5" x2="1892.7" y2="2132.5" stroke="#000" stroke-width="5"/>
<rect x="1863.4" y="2134" width="38.6" height="143" fill="#000"/>
<line x1="1937.9" y1="2080.8" x2="1937.9" y2="2099.7" stroke="#000" stroke-width="5"/>
<line x1="1927.9" y1="2083.3" x2="1947.9" y2="2083.3" stroke="#000" stroke-width="5"/>
<rect x="1918.3" y="2099.7" width="39.2" height="177.3" fill="#000"/>
<line x1="1988.7" y1="2185" x2="1988.7" y2="2189.8" stroke="#000" stroke-width="5"/>
<line x1="1978.7" y1="2187.5" x2="1998.7" y2="2187.5" stroke="#000" stroke-width="5"/>
<rect x="1968.4" y="2189.8" width="40.6" height="87.2" fill="#000"/>
<line x1="2043.5" y1="2221" x2="2043.5" y2="2230" stroke="#000" stroke-width="5"/>
<line x1="2033.5" y1="2223.5" x2="2053.5" y2="2223.5" stroke="#000" stroke-width="5"/>
<rect x="2023.7" y="2230" width="39.6" height="47" fill="#000"/>
<line x1="2194" y1="2050.8" x2="2194" y2="2069.6" stroke="#000" stroke-width="5"/>
<line x1="2184" y1="2053.3" x2="2204" y2="2053.3" stroke="#000" stroke-width="5"/>
<rect x="2174" y="2069.6" width="40" height="207.4" fill="#000"/>
<line x1="2248.9" y1="2116" x2="2248.9" y2="2145" stroke="#000" stroke-width="5"/>
<line x1="2238.9" y1="2118.5" x2="2258.9" y2="2118.5" stroke="#000" stroke-width="5"/>
<rect x="2228.8" y="2145" width="40.2" height="132" fill="#000"/>
<line x1="2304" y1="2215" x2="2304" y2="2220" stroke="#000" stroke-width="5"/>
<line x1="2294" y1="2217.5" x2="2314" y2="2217.5" stroke="#000" stroke-width="5"/>
<rect x="2284" y="2220" width="40" height="57" fill="#000"/>
<rect x="2334.2" y="2270" width="44.8" height="7" fill="#000"/>
<line x1="1562" y1="2396.6" x2="1562" y2="2410" stroke="#000" stroke-width="5"/>
<line x1="1552" y1="2399.1" x2="1572" y2="2399.1" stroke="#000" stroke-width="5"/>
<rect x="1542" y="2410" width="40" height="186.5" fill="#000"/>
<rect x="1597.5" y="2590" width="39.8" height="6.5" fill="#000"/>
<line x1="1672.2" y1="2440.8" x2="1672.2" y2="2465" stroke="#000" stroke-width="5"/>
<line x1="1662.2" y1="2443.3" x2="1682.2" y2="2443.3" stroke="#000" stroke-width="5"/>
<rect x="1652.5" y="2465" width="39.5" height="131.5" fill="#000"/>
<rect x="1702.8" y="2590" width="40.2" height="6.5" fill="#000"/>
<line x1="1882.7" y1="2416" x2="1882.7" y2="2430" stroke="#000" stroke-width="5"/>
<line x1="1872.7" y1="2418.5" x2="1892.7" y2="2418.5" stroke="#000" stroke-width="5"/>
<rect x="1863.4" y="2430" width="38.6" height="166.5" fill="#000"/>
<line x1="1937.9" y1="2466" x2="1937.9" y2="2485" stroke="#000" stroke-width="5"/>
<line x1="1927.9" y1="2468.5" x2="1947.9" y2="2468.5" stroke="#000" stroke-width="5"/>
<rect x="1918.3" y="2485" width="39.2" height="111.5" fill="#000"/>
<rect x="1968.4" y="2524.4" width="40.6" height="72.1" fill="#000"/>
<line x1="2043.5" y1="2571.3" x2="2043.5" y2="2579.7" stroke="#000" stroke-width="5"/>
<line x1="2033.5" y1="2573.8" x2="2053.5" y2="2573.8" stroke="#000" stroke-width="5"/>
<rect x="2023.7" y="2579.7" width="39.6" height="16.8" fill="#000"/>
<line x1="2194" y1="2399.4" x2="2194" y2="2409.4" stroke="#000" stroke-width="5"/>
<line x1="2184" y1="2401.9" x2="2204" y2="2401.9" stroke="#000" stroke-width="5"/>
<rect x="2174" y="2409.4" width="40" height="187.1" fill="#000"/>
<rect x="2228.8" y="2592" width="40.2" height="4.5" fill="#000"/>
<rect x="2284" y="2568.5" width="40" height="28" fill="#000"/>
<rect x="2334.2" y="2592" width="44.8" height="4.5" fill="#000"/>
<line x1="1511.9" y1="2810.5" x2="1511.9" y2="2819.8" stroke="#000" stroke-width="5"/>
<line x1="1501.9" y1="2813" x2="1521.9" y2="2813" stroke="#000" stroke-width="5"/>
<rect x="1491.8" y="2819.8" width="40.2" height="95.7" fill="#000"/>
<line x1="1562" y1="2810.5" x2="1562" y2="2814.6" stroke="#000" stroke-width="5"/>
<line x1="1552" y1="2813" x2="1572" y2="2813" stroke="#000" stroke-width="5"/>
<rect x="1542" y="2814.6" width="40" height="100.9" fill="#000"/>
<rect x="1597.5" y="2814.6" width="39.8" height="100.9" fill="#000"/>
<line x1="1672.2" y1="2810.5" x2="1672.2" y2="2819.8" stroke="#000" stroke-width="5"/>
<line x1="1662.2" y1="2813" x2="1682.2" y2="2813" stroke="#000" stroke-width="5"/>
<rect x="1652.5" y="2819.8" width="39.5" height="95.7" fill="#000"/>
<rect x="1702.8" y="2814.6" width="40.2" height="100.9" fill="#000"/>
<line x1="1828" y1="2785" x2="1828" y2="2789.7" stroke="#000" stroke-width="5"/>
<line x1="1818" y1="2787.5" x2="1838" y2="2787.5" stroke="#000" stroke-width="5"/>
<rect x="1808" y="2789.7" width="40" height="125.8" fill="#000"/>
<line x1="1882.7" y1="2790" x2="1882.7" y2="2795" stroke="#000" stroke-width="5"/>
<line x1="1872.7" y1="2792.5" x2="1892.7" y2="2792.5" stroke="#000" stroke-width="5"/>
<rect x="1863.4" y="2795" width="38.6" height="120.5" fill="#000"/>
<line x1="1937.9" y1="2785.7" x2="1937.9" y2="2795" stroke="#000" stroke-width="5"/>
<line x1="1927.9" y1="2788.2" x2="1947.9" y2="2788.2" stroke="#000" stroke-width="5"/>
<rect x="1918.3" y="2795" width="39.2" height="120.5" fill="#000"/>
<line x1="1988.7" y1="2785" x2="1988.7" y2="2789.7" stroke="#000" stroke-width="5"/>
<line x1="1978.7" y1="2787.5" x2="1998.7" y2="2787.5" stroke="#000" stroke-width="5"/>
<rect x="1968.4" y="2789.7" width="40.6" height="125.8" fill="#000"/>
<line x1="2043.5" y1="2779.7" x2="2043.5" y2="2785" stroke="#000" stroke-width="5"/>
<line x1="2033.5" y1="2782.2" x2="2053.5" y2="2782.2" stroke="#000" stroke-width="5"/>
<rect x="2023.7" y="2785" width="39.6" height="130.5" fill="#000"/>
<line x1="2140.3" y1="2777" x2="2140.3" y2="2789.7" stroke="#000" stroke-width="5"/>
<line x1="2130.3" y1="2779.5" x2="2150.3" y2="2779.5" stroke="#000" stroke-width="5"/>
<rect x="2118" y="2789.7" width="44.7" height="125.8" fill="#000"/>
<line x1="2194" y1="2745.6" x2="2194" y2="2759.6" stroke="#000" stroke-width="5"/>
<line x1="2184" y1="2748.1" x2="2204" y2="2748.1" stroke="#000" stroke-width="5"/>
<rect x="2174" y="2759.6" width="40" height="155.9" fill="#000"/>
<line x1="2248.9" y1="2781" x2="2248.9" y2="2789.7" stroke="#000" stroke-width="5"/>
<line x1="2238.9" y1="2783.5" x2="2258.9" y2="2783.5" stroke="#000" stroke-width="5"/>
<rect x="2228.8" y="2789.7" width="40.2" height="125.8" fill="#000"/>
<line x1="2304" y1="2781" x2="2304" y2="2789.7" stroke="#000" stroke-width="5"/>
<line x1="2294" y1="2783.5" x2="2314" y2="2783.5" stroke="#000" stroke-width="5"/>
<rect x="2284" y="2789.7" width="40" height="125.8" fill="#000"/>
<line x1="2356.6" y1="2776" x2="2356.6" y2="2789.7" stroke="#000" stroke-width="5"/>
<line x1="2346.6" y1="2778.5" x2="2366.6" y2="2778.5" stroke="#000" stroke-width="5"/>
<rect x="2334.2" y="2789.7" width="44.8" height="125.8" fill="#000"/>
<text x="1532.8" y="1831.6" font-size="56" fill="#333" stroke="#333" stroke-width="0.5" textLength="68.2" lengthAdjust="spacingAndGlyphs">***</text>
<text x="1847.8" y="1768.6" font-size="56" fill="#333" stroke="#333" stroke-width="0.5" textLength="70.3" lengthAdjust="spacingAndGlyphs">***</text>
<text x="2162.8" y="1823.6" font-size="56" fill="#333" stroke="#333" stroke-width="0.5" textLength="67.2" lengthAdjust="spacingAndGlyphs">***</text>
<text x="1532.9" y="2167.1" font-size="56" fill="#333" stroke="#333" stroke-width="0.5" textLength="66.1" lengthAdjust="spacingAndGlyphs">***</text>
<text x="1846.9" y="2139.6" font-size="56" fill="#333" stroke="#333" stroke-width="0.5" textLength="66.1" lengthAdjust="spacingAndGlyphs">***</text>
<text x="2122.7" y="2074.6" font-size="56" fill="#333" stroke="#333" stroke-width="0.5" textLength="66.3" lengthAdjust="spacingAndGlyphs">***</text>
<text x="1532.9" y="2411" font-size="56" fill="#333" stroke="#333" stroke-width="0.5" textLength="66.1" lengthAdjust="spacingAndGlyphs">***</text>
<text x="1847.8" y="2423.6" font-size="56" fill="#333" stroke="#333" stroke-width="0.5" textLength="70.3" lengthAdjust="spacingAndGlyphs">***</text>
<text x="2167.6" y="2412.6" font-size="56" fill="#333" stroke="#333" stroke-width="0.5" textLength="67.1" lengthAdjust="spacingAndGlyphs">***</text>
<text transform="translate(1589.3 1933.6) scale(1.0195 0.9559)" font-size="34" font-weight="bold">###</text>
<text transform="translate(1643.8 1923.5) scale(1.0917 0.9905)" font-size="34" font-weight="bold">###</text>
<text transform="translate(1694 1947.7) scale(1.0520 0.9559)" font-size="34" font-weight="bold">###</text>
<text transform="translate(1902.8 1928.6) scale(1.0826 0.9559)" font-size="34" font-weight="bold">###</text>
<text transform="translate(1961.3 1932.6) scale(1.0917 0.9559)" font-size="34" font-weight="bold">###</text>
<text transform="translate(2010.9 1947.8) scale(1.0267 0.9170)" font-size="34" font-weight="bold">###</text>
<text transform="translate(2219.3 1922.6) scale(1.0646 0.9559)" font-size="34" font-weight="bold">###</text>
<text transform="translate(2273.3 1932.6) scale(1.0646 0.9559)" font-size="34" font-weight="bold">###</text>
<text transform="translate(2327.3 1948.6) scale(1.0105 0.9516)" font-size="34" font-weight="bold">###</text>
<text transform="translate(1591.3 2253) scale(1.0195 0.9516)" font-size="34" font-weight="bold">###</text>
<text transform="translate(1693.3 2269) scale(1.0646 1.0381)" font-size="34" font-weight="bold">###</text>
<text transform="translate(2011.7 2213) scale(1.0123 1.0381)" font-size="34" font-weight="bold">###</text>
<text transform="translate(2278.3 2209) scale(1.0826 1.0381)" font-size="34" font-weight="bold">###</text>
<text transform="translate(2324.3 2263) scale(1.0700 1.0381)" font-size="34" font-weight="bold">###</text>
<text transform="translate(1587.3 2583.5) scale(1.0556 1.0597)" font-size="34" font-weight="bold">###</text>
<text transform="translate(1692 2583.5) scale(1.0159 1.0597)" font-size="34" font-weight="bold">###</text>
<text transform="translate(1961.7 2518.4) scale(1.0844 1.0381)" font-size="34" font-weight="bold">###</text>
<text transform="translate(2011.7 2558.5) scale(1.0123 1.0381)" font-size="34" font-weight="bold">###</text>
<text transform="translate(2223.3 2582.5) scale(1.0646 0.9862)" font-size="34" font-weight="bold">###</text>
<text transform="translate(2278.3 2562.5) scale(1.0826 0.9862)" font-size="34" font-weight="bold">###</text>
<text transform="translate(2333.1 2582.5) scale(1.0863 0.9862)" font-size="34" font-weight="bold">###</text>
<text transform="translate(1967.6 2179) scale(1.1983 1.0381)" font-size="34" font-weight="bold">##</text>
<text transform="translate(2228.8 2109) scale(1.2010 1.0381)" font-size="34" font-weight="bold">##</text>
<text transform="translate(1918.7 2456) scale(1.1683 0.9516)" font-size="34" font-weight="bold">##</text>
<text transform="translate(1657.7 2432.7) scale(1.3631 1.0078)" font-size="34" font-weight="bold">#</text>
<path d="M1507 2758V2733H1723V2758" fill="none" stroke="#808080" stroke-width="7"/>
<text x="1586" y="2721.4" font-size="56" stroke="#000" stroke-width="0.5">ns</text>
<path d="M1831 2758V2733H2049.3V2758" fill="none" stroke="#808080" stroke-width="7"/>
<text x="1909.5" y="2721.4" font-size="56" stroke="#000" stroke-width="0.5">ns</text>
<path d="M2140.7 2758V2733H2357V2758" fill="none" stroke="#808080" stroke-width="7"/>
<text x="2218.5" y="2721.4" font-size="56" stroke="#000" stroke-width="0.5">ns</text>
<text x="43.8" y="3007.5" font-size="56" stroke="#000" stroke-width="0.5" textLength="300.4" lengthAdjust="spacingAndGlyphs">TPA (ng/ml)</text>
<text x="39.9" y="3060.5" font-size="56" stroke="#000" stroke-width="0.5" textLength="304.3" lengthAdjust="spacingAndGlyphs">Iono (μg/ml)</text>
<text x="366.4" y="3007.5" font-size="56" stroke="#000" stroke-width="0.5" textLength="21.3" lengthAdjust="spacingAndGlyphs">-</text>
<text x="393.8" y="3007.5" font-size="56" stroke="#000" stroke-width="0.5" textLength="61" lengthAdjust="spacingAndGlyphs">50</text>
<text x="473.4" y="3007.5" font-size="56" stroke="#000" stroke-width="0.5" textLength="21.3" lengthAdjust="spacingAndGlyphs">-</text>
<text x="526.8" y="3007.5" font-size="56" stroke="#000" stroke-width="0.5" textLength="59.9" lengthAdjust="spacingAndGlyphs">50</text>
<text x="366.4" y="3060.5" font-size="56" stroke="#000" stroke-width="0.5" textLength="21.3" lengthAdjust="spacingAndGlyphs">-</text>
<text x="416.4" y="3060.5" font-size="56" stroke="#000" stroke-width="0.5" textLength="21.3" lengthAdjust="spacingAndGlyphs">-</text>
<text x="444.8" y="3060.5" font-size="56" stroke="#000" stroke-width="0.5" textLength="152.4" lengthAdjust="spacingAndGlyphs">0.50.5</text>
<text x="635.9" y="3007.5" font-size="56" stroke="#000" stroke-width="0.5" textLength="21.3" lengthAdjust="spacingAndGlyphs">-</text>
<text x="663.3" y="3007.5" font-size="56" stroke="#000" stroke-width="0.5" textLength="61" lengthAdjust="spacingAndGlyphs">50</text>
<text x="742.9" y="3007.5" font-size="56" stroke="#000" stroke-width="0.5" textLength="21.3" lengthAdjust="spacingAndGlyphs">-</text>
<text x="796.3" y="3007.5" font-size="56" stroke="#000" stroke-width="0.5" textLength="59.9" lengthAdjust="spacingAndGlyphs">50</text>
<text x="635.9" y="3060.5" font-size="56" stroke="#000" stroke-width="0.5" textLength="21.3" lengthAdjust="spacingAndGlyphs">-</text>
<text x="685.9" y="3060.5" font-size="56" stroke="#000" stroke-width="0.5" textLength="21.3" lengthAdjust="spacingAndGlyphs">-</text>
<text x="714.3" y="3060.5" font-size="56" stroke="#000" stroke-width="0.5" textLength="152.4" lengthAdjust="spacingAndGlyphs">0.50.5</text>
<text x="911.4" y="3007.5" font-size="56" stroke="#000" stroke-width="0.5" textLength="21.3" lengthAdjust="spacingAndGlyphs">-</text>
<text x="938.8" y="3007.5" font-size="56" stroke="#000" stroke-width="0.5" textLength="61" lengthAdjust="spacingAndGlyphs">50</text>
<text x="1018.4" y="3007.5" font-size="56" stroke="#000" stroke-width="0.5" textLength="21.3" lengthAdjust="spacingAndGlyphs">-</text>
<text x="1071.8" y="3007.5" font-size="56" stroke="#000" stroke-width="0.5" textLength="59.9" lengthAdjust="spacingAndGlyphs">50</text>
<text x="911.4" y="3060.5" font-size="56" stroke="#000" stroke-width="0.5" textLength="21.3" lengthAdjust="spacingAndGlyphs">-</text>
<text x="961.4" y="3060.5" font-size="56" stroke="#000" stroke-width="0.5" textLength="21.3" lengthAdjust="spacingAndGlyphs">-</text>
<text x="989.8" y="3060.5" font-size="56" stroke="#000" stroke-width="0.5" textLength="152.4" lengthAdjust="spacingAndGlyphs">0.50.5</text>
<text x="1397.8" y="2993.4" font-size="56" stroke="#000" stroke-width="0.5" textLength="69.8" lengthAdjust="spacingAndGlyphs">T/I</text>
<text x="1254.1" y="3047.7" font-size="56" stroke="#000" stroke-width="0.5" textLength="213" lengthAdjust="spacingAndGlyphs">Bis (μM)</text>
<text x="1151.4" y="3104" font-size="56" stroke="#000" stroke-width="0.5" textLength="315.8" lengthAdjust="spacingAndGlyphs">BAPTA (μM)</text>
<text x="1495.4" y="2993.4" font-size="56" stroke="#000" stroke-width="0.5" textLength="21.3" lengthAdjust="spacingAndGlyphs">-</text>
<text x="1545.2" y="2993.4" font-size="56" stroke="#000" stroke-width="0.5">+</text>
<text x="1598" y="2993.4" font-size="56" stroke="#000" stroke-width="0.5">+</text>
<text x="1660.5" y="2993.4" font-size="56" stroke="#000" stroke-width="0.5">+</text>
<text x="1717" y="2993.4" font-size="56" stroke="#000" stroke-width="0.5">+</text>
<text x="1495.4" y="3047.7" font-size="56" stroke="#000" stroke-width="0.5" textLength="21.3" lengthAdjust="spacingAndGlyphs">-</text>
<text x="1550.9" y="3047.7" font-size="56" stroke="#000" stroke-width="0.5" textLength="21.3" lengthAdjust="spacingAndGlyphs">-</text>
<text x="1598.6" y="3047.7" font-size="56" stroke="#000" stroke-width="0.5">5</text>
<text x="1665" y="3047.7" font-size="56" stroke="#000" stroke-width="0.5" textLength="21.3" lengthAdjust="spacingAndGlyphs">-</text>
<text x="1716.6" y="3047.7" font-size="56" stroke="#000" stroke-width="0.5">5</text>
<text x="1495.4" y="3104" font-size="56" stroke="#000" stroke-width="0.5" textLength="21.3" lengthAdjust="spacingAndGlyphs">-</text>
<text x="1550.9" y="3104" font-size="56" stroke="#000" stroke-width="0.5" textLength="21.3" lengthAdjust="spacingAndGlyphs">-</text>
<text x="1606.1" y="3104" font-size="56" stroke="#000" stroke-width="0.5" textLength="21.3" lengthAdjust="spacingAndGlyphs">-</text>
<text x="1644.2" y="3104" font-size="56" stroke="#000" stroke-width="0.5" textLength="120.7" lengthAdjust="spacingAndGlyphs">1010</text>
<text x="1814.9" y="2993.4" font-size="56" stroke="#000" stroke-width="0.5" textLength="21.3" lengthAdjust="spacingAndGlyphs">-</text>
<text x="1864.5" y="2993.4" font-size="56" stroke="#000" stroke-width="0.5">+</text>
<text x="1918.5" y="2993.4" font-size="56" stroke="#000" stroke-width="0.5">+</text>
<text x="1978.5" y="2993.4" font-size="56" stroke="#000" stroke-width="0.5">+</text>
<text x="2036" y="2993.4" font-size="56" stroke="#000" stroke-width="0.5">+</text>
<text x="1814.9" y="3047.7" font-size="56" stroke="#000" stroke-width="0.5" textLength="21.3" lengthAdjust="spacingAndGlyphs">-</text>
<text x="1869.9" y="3047.7" font-size="56" stroke="#000" stroke-width="0.5" textLength="21.3" lengthAdjust="spacingAndGlyphs">-</text>
<text x="1919.3" y="3047.7" font-size="56" stroke="#000" stroke-width="0.5">5</text>
<text x="1983.4" y="3047.7" font-size="56" stroke="#000" stroke-width="0.5" textLength="21.3" lengthAdjust="spacingAndGlyphs">-</text>
<text x="2037.8" y="3047.7" font-size="56" stroke="#000" stroke-width="0.5">5</text>
<text x="1814.9" y="3104" font-size="56" stroke="#000" stroke-width="0.5" textLength="21.3" lengthAdjust="spacingAndGlyphs">-</text>
<text x="1869.9" y="3104" font-size="56" stroke="#000" stroke-width="0.5" textLength="21.3" lengthAdjust="spacingAndGlyphs">-</text>
<text x="1922.4" y="3104" font-size="56" stroke="#000" stroke-width="0.5" textLength="21.3" lengthAdjust="spacingAndGlyphs">-</text>
<text x="1963.2" y="3104" font-size="56" stroke="#000" stroke-width="0.5" textLength="121.2" lengthAdjust="spacingAndGlyphs">1010</text>
<text x="2130" y="2993.4" font-size="56" stroke="#000" stroke-width="0.5" textLength="21.3" lengthAdjust="spacingAndGlyphs">-</text>
<text x="2179.2" y="2993.4" font-size="56" stroke="#000" stroke-width="0.5">+</text>
<text x="2231.9" y="2993.4" font-size="56" stroke="#000" stroke-width="0.5">+</text>
<text x="2293.5" y="2993.4" font-size="56" stroke="#000" stroke-width="0.5">+</text>
<text x="2350.5" y="2993.4" font-size="56" stroke="#000" stroke-width="0.5">+</text>
<text x="2130" y="3047.7" font-size="56" stroke="#000" stroke-width="0.5" textLength="21.3" lengthAdjust="spacingAndGlyphs">-</text>
<text x="2184.8" y="3047.7" font-size="56" stroke="#000" stroke-width="0.5" textLength="21.3" lengthAdjust="spacingAndGlyphs">-</text>
<text x="2232.3" y="3047.7" font-size="56" stroke="#000" stroke-width="0.5">5</text>
<text x="2300.4" y="3047.7" font-size="56" stroke="#000" stroke-width="0.5" textLength="21.3" lengthAdjust="spacingAndGlyphs">-</text>
<text x="2352.3" y="3047.7" font-size="56" stroke="#000" stroke-width="0.5">5</text>
<text x="2130" y="3104" font-size="56" stroke="#000" stroke-width="0.5" textLength="21.3" lengthAdjust="spacingAndGlyphs">-</text>
<text x="2184.8" y="3104" font-size="56" stroke="#000" stroke-width="0.5" textLength="21.3" lengthAdjust="spacingAndGlyphs">-</text>
<text x="2237.2" y="3104" font-size="56" stroke="#000" stroke-width="0.5" textLength="21.3" lengthAdjust="spacingAndGlyphs">-</text>
<text x="2278.6" y="3104" font-size="56" stroke="#000" stroke-width="0.5" textLength="122.3" lengthAdjust="spacingAndGlyphs">1010</text>
</svg>
</body></html>
